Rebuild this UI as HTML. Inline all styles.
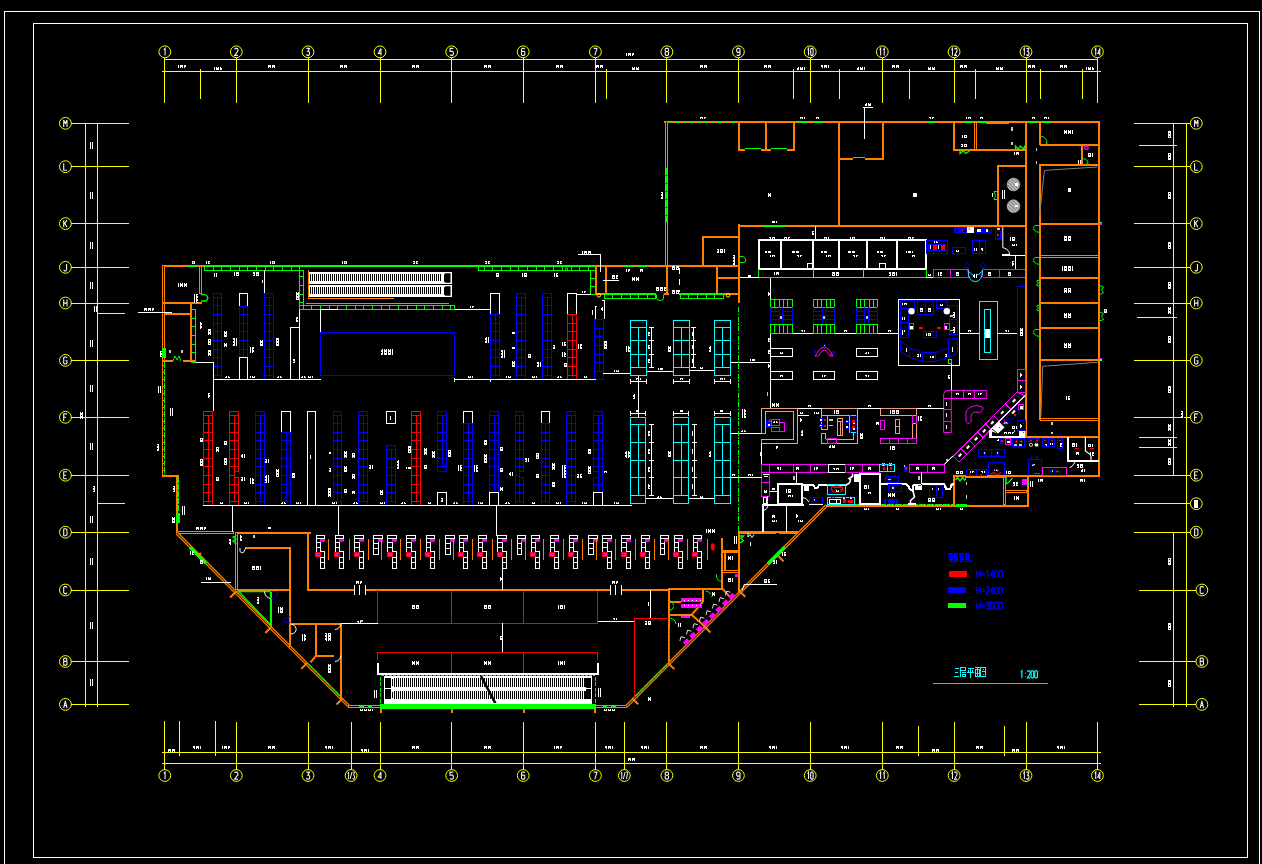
<!DOCTYPE html>
<html><head><meta charset="utf-8"><title>Floor plan</title>
<style>
html,body{margin:0;padding:0;background:#000;}
body{width:1262px;height:864px;overflow:hidden;font-family:"Liberation Sans",sans-serif;}
svg{display:block;}
svg text{font-family:"Liberation Sans",sans-serif;stroke:none;}
</style></head><body>
<svg width="1262" height="864" viewBox="0 0 1262 864" fill="none" stroke-width="1" shape-rendering="crispEdges">
<defs><pattern id="tx" width="4" height="3" patternUnits="userSpaceOnUse"><rect width="4" height="3" fill="#000"/><path d="M0 0.5H3M0.5 0V3M2.5 1V3M1 2.5H2" stroke="#fff" stroke-width="1"/></pattern></defs>
<rect x="0" y="0" width="1262" height="864" fill="#000" stroke="none"/>
<g id="frame">
<rect x="4.5" y="11.5" width="1255" height="889" stroke="#ffffff" fill="none"/>
<rect x="33.5" y="23.5" width="1214" height="834" stroke="#ffffff" fill="none"/>
</g>
<g id="axes" stroke="#ffff00">
<path d="M164 59.5L1098 59.5" stroke="#ffff00"/>
<path d="M162 71.5L1101 71.5" stroke="#ffff00"/>
<path d="M164.5 57.7L164.5 102.5" stroke="#ffff00"/>
<circle cx="164.8" cy="51.8" r="5.9" stroke="#ffff00" fill="none" shape-rendering="geometricPrecision"/>
<path transform="translate(163.1 48.4) scale(1.1 1)" d="M0.7 1.5L1.8 0V7" stroke="#f0f0f0" stroke-width="1.1" vector-effect="non-scaling-stroke" shape-rendering="geometricPrecision"/>
<path d="M236.5 57.7L236.5 102.5" stroke="#ffff00"/>
<circle cx="236.3" cy="51.8" r="5.9" stroke="#ffff00" fill="none" shape-rendering="geometricPrecision"/>
<path transform="translate(234.6 48.4) scale(1.1 1)" d="M0 1L0.6 0H2.4L3 1V2.6L0 7H3" stroke="#f0f0f0" stroke-width="1.1" vector-effect="non-scaling-stroke" shape-rendering="geometricPrecision"/>
<path d="M308.5 57.7L308.5 102.5" stroke="#ffff00"/>
<circle cx="308" cy="51.8" r="5.9" stroke="#ffff00" fill="none" shape-rendering="geometricPrecision"/>
<path transform="translate(306.3 48.4) scale(1.1 1)" d="M0 0H3L1.4 3H2.2L3 4V6L2.2 7H0.8L0 6" stroke="#f0f0f0" stroke-width="1.1" vector-effect="non-scaling-stroke" shape-rendering="geometricPrecision"/>
<path d="M380.5 57.7L380.5 102.5" stroke="#ffff00"/>
<circle cx="380" cy="51.8" r="5.9" stroke="#ffff00" fill="none" shape-rendering="geometricPrecision"/>
<path transform="translate(378.3 48.4) scale(1.1 1)" d="M2.4 7V0L0 5H3" stroke="#f0f0f0" stroke-width="1.1" vector-effect="non-scaling-stroke" shape-rendering="geometricPrecision"/>
<path d="M451.5 57.7L451.5 102.5" stroke="#ffff00"/>
<circle cx="451.7" cy="51.8" r="5.9" stroke="#ffff00" fill="none" shape-rendering="geometricPrecision"/>
<path transform="translate(450 48.4) scale(1.1 1)" d="M3 0H0V3H2.2L3 3.8V6.2L2.2 7H0.8L0 6.2" stroke="#f0f0f0" stroke-width="1.1" vector-effect="non-scaling-stroke" shape-rendering="geometricPrecision"/>
<path d="M523.5 57.7L523.5 102.5" stroke="#ffff00"/>
<circle cx="523.2" cy="51.8" r="5.9" stroke="#ffff00" fill="none" shape-rendering="geometricPrecision"/>
<path transform="translate(521.5 48.4) scale(1.1 1)" d="M3 0.8L2.3 0H0.7L0 0.8V6.2L0.7 7H2.3L3 6.2V3.8L2.3 3H0" stroke="#f0f0f0" stroke-width="1.1" vector-effect="non-scaling-stroke" shape-rendering="geometricPrecision"/>
<path d="M595.5 57.7L595.5 102.5" stroke="#ffff00"/>
<circle cx="595.4" cy="51.8" r="5.9" stroke="#ffff00" fill="none" shape-rendering="geometricPrecision"/>
<path transform="translate(593.7 48.4) scale(1.1 1)" d="M0 0H3L1 7" stroke="#f0f0f0" stroke-width="1.1" vector-effect="non-scaling-stroke" shape-rendering="geometricPrecision"/>
<path d="M666.5 57.7L666.5 102.5" stroke="#ffff00"/>
<circle cx="666.9" cy="51.8" r="5.9" stroke="#ffff00" fill="none" shape-rendering="geometricPrecision"/>
<path transform="translate(665.2 48.4) scale(1.1 1)" d="M0.7 0H2.3L3 0.7V2.4L2.3 3.2H0.7L0 2.4V0.7ZM0.7 3.2L0 4V6.2L0.7 7H2.3L3 6.2V4L2.3 3.2" stroke="#f0f0f0" stroke-width="1.1" vector-effect="non-scaling-stroke" shape-rendering="geometricPrecision"/>
<path d="M738.5 57.7L738.5 102.5" stroke="#ffff00"/>
<circle cx="738.4" cy="51.8" r="5.9" stroke="#ffff00" fill="none" shape-rendering="geometricPrecision"/>
<path transform="translate(736.7 48.4) scale(1.1 1)" d="M3 3.2L2.3 4H0.7L0 3.2V0.8L0.7 0H2.3L3 0.8V6.2L2.3 7H0.7L0 6.2" stroke="#f0f0f0" stroke-width="1.1" vector-effect="non-scaling-stroke" shape-rendering="geometricPrecision"/>
<path d="M810.5 57.7L810.5 102.5" stroke="#ffff00"/>
<circle cx="810.2" cy="51.8" r="5.9" stroke="#ffff00" fill="none" shape-rendering="geometricPrecision"/>
<path transform="translate(807.1 48.4) scale(0.8 1)" d="M0.7 1.5L1.8 0V7" stroke="#f0f0f0" stroke-width="1.1" vector-effect="non-scaling-stroke" shape-rendering="geometricPrecision"/>
<path transform="translate(810.7 48.4) scale(0.8 1)" d="M0.7 0H2.3L3 0.8V6.2L2.3 7H0.7L0 6.2V0.8Z" stroke="#f0f0f0" stroke-width="1.1" vector-effect="non-scaling-stroke" shape-rendering="geometricPrecision"/>
<path d="M882.5 57.7L882.5 102.5" stroke="#ffff00"/>
<circle cx="882.3" cy="51.8" r="5.9" stroke="#ffff00" fill="none" shape-rendering="geometricPrecision"/>
<path transform="translate(879.2 48.4) scale(0.8 1)" d="M0.7 1.5L1.8 0V7" stroke="#f0f0f0" stroke-width="1.1" vector-effect="non-scaling-stroke" shape-rendering="geometricPrecision"/>
<path transform="translate(882.8 48.4) scale(0.8 1)" d="M0.7 1.5L1.8 0V7" stroke="#f0f0f0" stroke-width="1.1" vector-effect="non-scaling-stroke" shape-rendering="geometricPrecision"/>
<path d="M954.5 57.7L954.5 102.5" stroke="#ffff00"/>
<circle cx="954.1" cy="51.8" r="5.9" stroke="#ffff00" fill="none" shape-rendering="geometricPrecision"/>
<path transform="translate(951 48.4) scale(0.8 1)" d="M0.7 1.5L1.8 0V7" stroke="#f0f0f0" stroke-width="1.1" vector-effect="non-scaling-stroke" shape-rendering="geometricPrecision"/>
<path transform="translate(954.6 48.4) scale(0.8 1)" d="M0 1L0.6 0H2.4L3 1V2.6L0 7H3" stroke="#f0f0f0" stroke-width="1.1" vector-effect="non-scaling-stroke" shape-rendering="geometricPrecision"/>
<path d="M1026.5 57.7L1026.5 102.5" stroke="#ffff00"/>
<circle cx="1026" cy="51.8" r="5.9" stroke="#ffff00" fill="none" shape-rendering="geometricPrecision"/>
<path transform="translate(1022.9 48.4) scale(0.8 1)" d="M0.7 1.5L1.8 0V7" stroke="#f0f0f0" stroke-width="1.1" vector-effect="non-scaling-stroke" shape-rendering="geometricPrecision"/>
<path transform="translate(1026.5 48.4) scale(0.8 1)" d="M0 0H3L1.4 3H2.2L3 4V6L2.2 7H0.8L0 6" stroke="#f0f0f0" stroke-width="1.1" vector-effect="non-scaling-stroke" shape-rendering="geometricPrecision"/>
<path d="M1097.5 57.7L1097.5 102.5" stroke="#ffff00"/>
<circle cx="1097.4" cy="51.8" r="5.9" stroke="#ffff00" fill="none" shape-rendering="geometricPrecision"/>
<path transform="translate(1094.3 48.4) scale(0.8 1)" d="M0.7 1.5L1.8 0V7" stroke="#f0f0f0" stroke-width="1.1" vector-effect="non-scaling-stroke" shape-rendering="geometricPrecision"/>
<path transform="translate(1097.9 48.4) scale(0.8 1)" d="M2.4 7V0L0 5H3" stroke="#f0f0f0" stroke-width="1.1" vector-effect="non-scaling-stroke" shape-rendering="geometricPrecision"/>
<path d="M200.5 68.5L200.5 98.5" stroke="#ffff00"/>
<path d="M606.5 68.5L606.5 98.5" stroke="#ffff00"/>
<path d="M793.5 68.5L793.5 98.5" stroke="#ffff00"/>
<path d="M839.5 68.5L839.5 98.5" stroke="#ffff00"/>
<path d="M909.5 68.5L909.5 98.5" stroke="#ffff00"/>
<path d="M975.5 68.5L975.5 98.5" stroke="#ffff00"/>
<path d="M1040.5 68.5L1040.5 98.5" stroke="#ffff00"/>
<path d="M1082.5 68.5L1082.5 98.5" stroke="#ffff00"/>
<rect x="178" y="65" width="8" height="3" fill="url(#tx)" stroke="none"/>
<rect x="214" y="67" width="8" height="3" fill="url(#tx)" stroke="none"/>
<rect x="268" y="65" width="8" height="3" fill="url(#tx)" stroke="none"/>
<rect x="340" y="65" width="8" height="3" fill="url(#tx)" stroke="none"/>
<rect x="411" y="65" width="8" height="3" fill="url(#tx)" stroke="none"/>
<rect x="483" y="65" width="8" height="3" fill="url(#tx)" stroke="none"/>
<rect x="555" y="65" width="8" height="3" fill="url(#tx)" stroke="none"/>
<rect x="596" y="65" width="8" height="3" fill="url(#tx)" stroke="none"/>
<rect x="631" y="67" width="8" height="3" fill="url(#tx)" stroke="none"/>
<rect x="626" y="53" width="8" height="3" fill="url(#tx)" stroke="none"/>
<rect x="699" y="65" width="8" height="3" fill="url(#tx)" stroke="none"/>
<rect x="763" y="65" width="8" height="3" fill="url(#tx)" stroke="none"/>
<rect x="797" y="67" width="8" height="3" fill="url(#tx)" stroke="none"/>
<rect x="821" y="65" width="8" height="3" fill="url(#tx)" stroke="none"/>
<rect x="857" y="67" width="8" height="3" fill="url(#tx)" stroke="none"/>
<rect x="891" y="65" width="8" height="3" fill="url(#tx)" stroke="none"/>
<rect x="928" y="67" width="8" height="3" fill="url(#tx)" stroke="none"/>
<rect x="960" y="65" width="8" height="3" fill="url(#tx)" stroke="none"/>
<rect x="996" y="67" width="8" height="3" fill="url(#tx)" stroke="none"/>
<rect x="1028" y="65" width="8" height="3" fill="url(#tx)" stroke="none"/>
<rect x="1059" y="65" width="8" height="3" fill="url(#tx)" stroke="none"/>
<rect x="1086" y="67" width="8" height="3" fill="url(#tx)" stroke="none"/>
<path d="M162 752.5L1101 752.5" stroke="#ffff00"/>
<path d="M162 763.5L1101 763.5" stroke="#ffff00"/>
<path d="M164.5 720.5L164.5 769.6" stroke="#ffff00"/>
<circle cx="164.8" cy="775.5" r="5.9" stroke="#ffff00" fill="none" shape-rendering="geometricPrecision"/>
<path transform="translate(163.1 772.1) scale(1.1 1)" d="M0.7 1.5L1.8 0V7" stroke="#f0f0f0" stroke-width="1.1" vector-effect="non-scaling-stroke" shape-rendering="geometricPrecision"/>
<path d="M236.5 722L236.5 769.6" stroke="#ffff00"/>
<circle cx="236.3" cy="775.5" r="5.9" stroke="#ffff00" fill="none" shape-rendering="geometricPrecision"/>
<path transform="translate(234.6 772.1) scale(1.1 1)" d="M0 1L0.6 0H2.4L3 1V2.6L0 7H3" stroke="#f0f0f0" stroke-width="1.1" vector-effect="non-scaling-stroke" shape-rendering="geometricPrecision"/>
<path d="M308.5 722L308.5 769.6" stroke="#ffff00"/>
<circle cx="308" cy="775.5" r="5.9" stroke="#ffff00" fill="none" shape-rendering="geometricPrecision"/>
<path transform="translate(306.3 772.1) scale(1.1 1)" d="M0 0H3L1.4 3H2.2L3 4V6L2.2 7H0.8L0 6" stroke="#f0f0f0" stroke-width="1.1" vector-effect="non-scaling-stroke" shape-rendering="geometricPrecision"/>
<path d="M380.5 722L380.5 769.6" stroke="#ffff00"/>
<circle cx="380" cy="775.5" r="5.9" stroke="#ffff00" fill="none" shape-rendering="geometricPrecision"/>
<path transform="translate(378.3 772.1) scale(1.1 1)" d="M2.4 7V0L0 5H3" stroke="#f0f0f0" stroke-width="1.1" vector-effect="non-scaling-stroke" shape-rendering="geometricPrecision"/>
<path d="M451.5 722L451.5 769.6" stroke="#ffff00"/>
<circle cx="451.7" cy="775.5" r="5.9" stroke="#ffff00" fill="none" shape-rendering="geometricPrecision"/>
<path transform="translate(450 772.1) scale(1.1 1)" d="M3 0H0V3H2.2L3 3.8V6.2L2.2 7H0.8L0 6.2" stroke="#f0f0f0" stroke-width="1.1" vector-effect="non-scaling-stroke" shape-rendering="geometricPrecision"/>
<path d="M523.5 722L523.5 769.6" stroke="#ffff00"/>
<circle cx="523.2" cy="775.5" r="5.9" stroke="#ffff00" fill="none" shape-rendering="geometricPrecision"/>
<path transform="translate(521.5 772.1) scale(1.1 1)" d="M3 0.8L2.3 0H0.7L0 0.8V6.2L0.7 7H2.3L3 6.2V3.8L2.3 3H0" stroke="#f0f0f0" stroke-width="1.1" vector-effect="non-scaling-stroke" shape-rendering="geometricPrecision"/>
<path d="M595.5 722L595.5 769.6" stroke="#ffff00"/>
<circle cx="595.4" cy="775.5" r="5.9" stroke="#ffff00" fill="none" shape-rendering="geometricPrecision"/>
<path transform="translate(593.7 772.1) scale(1.1 1)" d="M0 0H3L1 7" stroke="#f0f0f0" stroke-width="1.1" vector-effect="non-scaling-stroke" shape-rendering="geometricPrecision"/>
<path d="M666.5 722L666.5 769.6" stroke="#ffff00"/>
<circle cx="666.9" cy="775.5" r="5.9" stroke="#ffff00" fill="none" shape-rendering="geometricPrecision"/>
<path transform="translate(665.2 772.1) scale(1.1 1)" d="M0.7 0H2.3L3 0.7V2.4L2.3 3.2H0.7L0 2.4V0.7ZM0.7 3.2L0 4V6.2L0.7 7H2.3L3 6.2V4L2.3 3.2" stroke="#f0f0f0" stroke-width="1.1" vector-effect="non-scaling-stroke" shape-rendering="geometricPrecision"/>
<path d="M738.5 722L738.5 769.6" stroke="#ffff00"/>
<circle cx="738.4" cy="775.5" r="5.9" stroke="#ffff00" fill="none" shape-rendering="geometricPrecision"/>
<path transform="translate(736.7 772.1) scale(1.1 1)" d="M3 3.2L2.3 4H0.7L0 3.2V0.8L0.7 0H2.3L3 0.8V6.2L2.3 7H0.7L0 6.2" stroke="#f0f0f0" stroke-width="1.1" vector-effect="non-scaling-stroke" shape-rendering="geometricPrecision"/>
<path d="M810.5 722L810.5 769.6" stroke="#ffff00"/>
<circle cx="810.2" cy="775.5" r="5.9" stroke="#ffff00" fill="none" shape-rendering="geometricPrecision"/>
<path transform="translate(807.1 772.1) scale(0.8 1)" d="M0.7 1.5L1.8 0V7" stroke="#f0f0f0" stroke-width="1.1" vector-effect="non-scaling-stroke" shape-rendering="geometricPrecision"/>
<path transform="translate(810.7 772.1) scale(0.8 1)" d="M0.7 0H2.3L3 0.8V6.2L2.3 7H0.7L0 6.2V0.8Z" stroke="#f0f0f0" stroke-width="1.1" vector-effect="non-scaling-stroke" shape-rendering="geometricPrecision"/>
<path d="M882.5 722L882.5 769.6" stroke="#ffff00"/>
<circle cx="882.3" cy="775.5" r="5.9" stroke="#ffff00" fill="none" shape-rendering="geometricPrecision"/>
<path transform="translate(879.2 772.1) scale(0.8 1)" d="M0.7 1.5L1.8 0V7" stroke="#f0f0f0" stroke-width="1.1" vector-effect="non-scaling-stroke" shape-rendering="geometricPrecision"/>
<path transform="translate(882.8 772.1) scale(0.8 1)" d="M0.7 1.5L1.8 0V7" stroke="#f0f0f0" stroke-width="1.1" vector-effect="non-scaling-stroke" shape-rendering="geometricPrecision"/>
<path d="M954.5 722L954.5 769.6" stroke="#ffff00"/>
<circle cx="954.1" cy="775.5" r="5.9" stroke="#ffff00" fill="none" shape-rendering="geometricPrecision"/>
<path transform="translate(951 772.1) scale(0.8 1)" d="M0.7 1.5L1.8 0V7" stroke="#f0f0f0" stroke-width="1.1" vector-effect="non-scaling-stroke" shape-rendering="geometricPrecision"/>
<path transform="translate(954.6 772.1) scale(0.8 1)" d="M0 1L0.6 0H2.4L3 1V2.6L0 7H3" stroke="#f0f0f0" stroke-width="1.1" vector-effect="non-scaling-stroke" shape-rendering="geometricPrecision"/>
<path d="M1026.5 722L1026.5 769.6" stroke="#ffff00"/>
<circle cx="1026" cy="775.5" r="5.9" stroke="#ffff00" fill="none" shape-rendering="geometricPrecision"/>
<path transform="translate(1022.9 772.1) scale(0.8 1)" d="M0.7 1.5L1.8 0V7" stroke="#f0f0f0" stroke-width="1.1" vector-effect="non-scaling-stroke" shape-rendering="geometricPrecision"/>
<path transform="translate(1026.5 772.1) scale(0.8 1)" d="M0 0H3L1.4 3H2.2L3 4V6L2.2 7H0.8L0 6" stroke="#f0f0f0" stroke-width="1.1" vector-effect="non-scaling-stroke" shape-rendering="geometricPrecision"/>
<path d="M1097.5 722L1097.5 769.6" stroke="#ffff00"/>
<circle cx="1097.4" cy="775.5" r="5.9" stroke="#ffff00" fill="none" shape-rendering="geometricPrecision"/>
<path transform="translate(1094.3 772.1) scale(0.8 1)" d="M0.7 1.5L1.8 0V7" stroke="#f0f0f0" stroke-width="1.1" vector-effect="non-scaling-stroke" shape-rendering="geometricPrecision"/>
<path transform="translate(1097.9 772.1) scale(0.8 1)" d="M2.4 7V0L0 5H3" stroke="#f0f0f0" stroke-width="1.1" vector-effect="non-scaling-stroke" shape-rendering="geometricPrecision"/>
<path d="M351.5 722L351.5 769.6" stroke="#ffff00"/>
<circle cx="351.1" cy="775.5" r="5.9" stroke="#ffff00" fill="none" shape-rendering="geometricPrecision"/>
<path transform="translate(347.5 772.1) scale(0.6 1)" d="M0.7 1.5L1.8 0V7" stroke="#f0f0f0" stroke-width="1" vector-effect="non-scaling-stroke" shape-rendering="geometricPrecision"/>
<path transform="translate(350.1 772.1) scale(0.6 1)" d="M0 7L3 0" stroke="#f0f0f0" stroke-width="1" vector-effect="non-scaling-stroke" shape-rendering="geometricPrecision"/>
<path transform="translate(352.7 772.1) scale(0.6 1)" d="M0 0H3L1.4 3H2.2L3 4V6L2.2 7H0.8L0 6" stroke="#f0f0f0" stroke-width="1" vector-effect="non-scaling-stroke" shape-rendering="geometricPrecision"/>
<path d="M624.5 722L624.5 769.6" stroke="#ffff00"/>
<circle cx="624.3" cy="775.5" r="5.9" stroke="#ffff00" fill="none" shape-rendering="geometricPrecision"/>
<path transform="translate(620.7 772.1) scale(0.6 1)" d="M0.7 1.5L1.8 0V7" stroke="#f0f0f0" stroke-width="1" vector-effect="non-scaling-stroke" shape-rendering="geometricPrecision"/>
<path transform="translate(623.3 772.1) scale(0.6 1)" d="M0 7L3 0" stroke="#f0f0f0" stroke-width="1" vector-effect="non-scaling-stroke" shape-rendering="geometricPrecision"/>
<path transform="translate(625.9 772.1) scale(0.6 1)" d="M0 0H3L1 7" stroke="#f0f0f0" stroke-width="1" vector-effect="non-scaling-stroke" shape-rendering="geometricPrecision"/>
<path d="M179.5 720.5L179.5 755.8" stroke="#ffff00"/>
<path d="M215.5 720.5L215.5 755.8" stroke="#ffff00"/>
<path d="M918.5 726L918.5 755.6" stroke="#ffff00"/>
<path d="M1004.5 726L1004.5 755.6" stroke="#ffff00"/>
<rect x="168" y="749" width="8" height="3" fill="url(#tx)" stroke="none"/>
<rect x="193" y="746" width="8" height="3" fill="url(#tx)" stroke="none"/>
<rect x="222" y="746" width="8" height="3" fill="url(#tx)" stroke="none"/>
<rect x="267" y="746" width="8" height="3" fill="url(#tx)" stroke="none"/>
<rect x="325" y="746" width="8" height="3" fill="url(#tx)" stroke="none"/>
<rect x="361" y="749" width="8" height="3" fill="url(#tx)" stroke="none"/>
<rect x="412" y="746" width="8" height="3" fill="url(#tx)" stroke="none"/>
<rect x="483" y="746" width="8" height="3" fill="url(#tx)" stroke="none"/>
<rect x="554" y="746" width="8" height="3" fill="url(#tx)" stroke="none"/>
<rect x="605" y="746" width="8" height="3" fill="url(#tx)" stroke="none"/>
<rect x="627" y="758" width="8" height="3" fill="url(#tx)" stroke="none"/>
<rect x="641" y="746" width="8" height="3" fill="url(#tx)" stroke="none"/>
<rect x="699" y="746" width="8" height="3" fill="url(#tx)" stroke="none"/>
<rect x="769" y="746" width="8" height="3" fill="url(#tx)" stroke="none"/>
<rect x="841" y="746" width="8" height="3" fill="url(#tx)" stroke="none"/>
<rect x="895" y="746" width="8" height="3" fill="url(#tx)" stroke="none"/>
<rect x="931" y="749" width="8" height="3" fill="url(#tx)" stroke="none"/>
<rect x="975" y="746" width="8" height="3" fill="url(#tx)" stroke="none"/>
<rect x="1011" y="749" width="8" height="3" fill="url(#tx)" stroke="none"/>
<rect x="1057" y="746" width="8" height="3" fill="url(#tx)" stroke="none"/>
<path d="M85.5 123L85.5 707" stroke="#ffff00"/>
<path d="M97.5 123L97.5 707" stroke="#ffff00"/>
<path d="M71.3 123.5L129 123.5" stroke="#ffff00"/>
<circle cx="65.4" cy="123.3" r="5.9" stroke="#ffff00" fill="none" shape-rendering="geometricPrecision"/>
<path transform="translate(63.7 119.9) scale(1.1 1)" d="M0 7V0L1.5 3.5L3 0V7" stroke="#f0f0f0" stroke-width="1.1" vector-effect="non-scaling-stroke" shape-rendering="geometricPrecision"/>
<path d="M71.3 166.5L129 166.5" stroke="#ffff00"/>
<circle cx="65.4" cy="166.7" r="5.9" stroke="#ffff00" fill="none" shape-rendering="geometricPrecision"/>
<path transform="translate(63.7 163.3) scale(1.1 1)" d="M0 0V7H3" stroke="#f0f0f0" stroke-width="1.1" vector-effect="non-scaling-stroke" shape-rendering="geometricPrecision"/>
<path d="M71.3 223.5L129 223.5" stroke="#ffff00"/>
<circle cx="65.4" cy="223.6" r="5.9" stroke="#ffff00" fill="none" shape-rendering="geometricPrecision"/>
<path transform="translate(63.7 220.2) scale(1.1 1)" d="M0 0V7M3 0L0 4.2M1 3L3 7" stroke="#f0f0f0" stroke-width="1.1" vector-effect="non-scaling-stroke" shape-rendering="geometricPrecision"/>
<path d="M71.3 267.5L129 267.5" stroke="#ffff00"/>
<circle cx="65.4" cy="267.3" r="5.9" stroke="#ffff00" fill="none" shape-rendering="geometricPrecision"/>
<path transform="translate(63.7 263.9) scale(1.1 1)" d="M2.6 0V6L1.9 7H0.8L0 6.2" stroke="#f0f0f0" stroke-width="1.1" vector-effect="non-scaling-stroke" shape-rendering="geometricPrecision"/>
<path d="M71.3 303.5L129 303.5" stroke="#ffff00"/>
<circle cx="65.4" cy="303" r="5.9" stroke="#ffff00" fill="none" shape-rendering="geometricPrecision"/>
<path transform="translate(63.7 299.6) scale(1.1 1)" d="M0 0V7M3 0V7M0 3.5H3" stroke="#f0f0f0" stroke-width="1.1" vector-effect="non-scaling-stroke" shape-rendering="geometricPrecision"/>
<path d="M71.3 360.5L129 360.5" stroke="#ffff00"/>
<circle cx="65.4" cy="360.4" r="5.9" stroke="#ffff00" fill="none" shape-rendering="geometricPrecision"/>
<path transform="translate(63.7 357) scale(1.1 1)" d="M3 1L2.3 0H0.7L0 0.8V6.2L0.7 7H2.3L3 6.2V3.8H1.6" stroke="#f0f0f0" stroke-width="1.1" vector-effect="non-scaling-stroke" shape-rendering="geometricPrecision"/>
<path d="M71.3 417.5L129 417.5" stroke="#ffff00"/>
<circle cx="65.4" cy="417.3" r="5.9" stroke="#ffff00" fill="none" shape-rendering="geometricPrecision"/>
<path transform="translate(63.7 413.9) scale(1.1 1)" d="M3 0H0V7M0 3.4H2.2" stroke="#f0f0f0" stroke-width="1.1" vector-effect="non-scaling-stroke" shape-rendering="geometricPrecision"/>
<path d="M71.3 475.5L129 475.5" stroke="#ffff00"/>
<circle cx="65.4" cy="475.2" r="5.9" stroke="#ffff00" fill="none" shape-rendering="geometricPrecision"/>
<path transform="translate(63.7 471.8) scale(1.1 1)" d="M3 0H0V7H3M0 3.4H2.2" stroke="#f0f0f0" stroke-width="1.1" vector-effect="non-scaling-stroke" shape-rendering="geometricPrecision"/>
<path d="M71.3 532.5L129 532.5" stroke="#ffff00"/>
<circle cx="65.4" cy="532.2" r="5.9" stroke="#ffff00" fill="none" shape-rendering="geometricPrecision"/>
<path transform="translate(63.7 528.8) scale(1.1 1)" d="M0 0V7H2L3 6V1L2 0H0" stroke="#f0f0f0" stroke-width="1.1" vector-effect="non-scaling-stroke" shape-rendering="geometricPrecision"/>
<path d="M71.3 590.5L129 590.5" stroke="#ffff00"/>
<circle cx="65.4" cy="590" r="5.9" stroke="#ffff00" fill="none" shape-rendering="geometricPrecision"/>
<path transform="translate(63.7 586.6) scale(1.1 1)" d="M3 1L2.3 0H0.7L0 0.8V6.2L0.7 7H2.3L3 6" stroke="#f0f0f0" stroke-width="1.1" vector-effect="non-scaling-stroke" shape-rendering="geometricPrecision"/>
<path d="M71.3 661.5L129 661.5" stroke="#ffff00"/>
<circle cx="65.4" cy="661.5" r="5.9" stroke="#ffff00" fill="none" shape-rendering="geometricPrecision"/>
<path transform="translate(63.7 658.1) scale(1.1 1)" d="M0 0V7H2.2L3 6.2V4L2.2 3.3H0M2.2 3.3L2.8 2.6V0.7L2.2 0H0" stroke="#f0f0f0" stroke-width="1.1" vector-effect="non-scaling-stroke" shape-rendering="geometricPrecision"/>
<path d="M71.3 704.5L129 704.5" stroke="#ffff00"/>
<circle cx="65.4" cy="704.4" r="5.9" stroke="#ffff00" fill="none" shape-rendering="geometricPrecision"/>
<path transform="translate(63.7 701) scale(1.1 1)" d="M0 7L1.5 0L3 7M0.6 4.5H2.4" stroke="#f0f0f0" stroke-width="1.1" vector-effect="non-scaling-stroke" shape-rendering="geometricPrecision"/>
<path d="M97.5 313.5L125 313.5" stroke="#ffff00"/>
<path d="M97.5 503.5L124.5 503.5" stroke="#ffff00"/>
<rect x="90" y="142" width="3" height="7" fill="url(#tx)" stroke="none"/>
<rect x="90" y="192" width="3" height="7" fill="url(#tx)" stroke="none"/>
<rect x="90" y="242" width="3" height="7" fill="url(#tx)" stroke="none"/>
<rect x="90" y="282" width="3" height="7" fill="url(#tx)" stroke="none"/>
<rect x="90" y="340" width="3" height="7" fill="url(#tx)" stroke="none"/>
<rect x="90" y="385" width="3" height="7" fill="url(#tx)" stroke="none"/>
<rect x="90" y="443" width="3" height="7" fill="url(#tx)" stroke="none"/>
<rect x="90" y="516" width="3" height="7" fill="url(#tx)" stroke="none"/>
<rect x="93" y="486" width="3" height="6" fill="url(#tx)" stroke="none"/>
<rect x="90" y="558" width="3" height="7" fill="url(#tx)" stroke="none"/>
<rect x="90" y="622" width="3" height="7" fill="url(#tx)" stroke="none"/>
<rect x="90" y="679" width="3" height="7" fill="url(#tx)" stroke="none"/>
<rect x="80" y="412" width="3" height="7" fill="url(#tx)" stroke="none"/>
<rect x="94" y="306" width="3" height="6" fill="url(#tx)" stroke="none"/>
<path d="M1186.5 123L1186.5 707" stroke="#ffff00"/>
<path d="M1173.5 123L1173.5 475.5" stroke="#ffff00"/>
<path d="M1173.5 532L1173.5 707" stroke="#ffff00"/>
<path d="M1134 123.5L1190.4 123.5" stroke="#ffff00"/>
<circle cx="1196.3" cy="123.3" r="5.9" stroke="#ffff00" fill="none" shape-rendering="geometricPrecision"/>
<path transform="translate(1194.6 119.9) scale(1.1 1)" d="M0 7V0L1.5 3.5L3 0V7" stroke="#f0f0f0" stroke-width="1.1" vector-effect="non-scaling-stroke" shape-rendering="geometricPrecision"/>
<path d="M1134 166.5L1190.4 166.5" stroke="#ffff00"/>
<circle cx="1196.3" cy="166.7" r="5.9" stroke="#ffff00" fill="none" shape-rendering="geometricPrecision"/>
<path transform="translate(1194.6 163.3) scale(1.1 1)" d="M0 0V7H3" stroke="#f0f0f0" stroke-width="1.1" vector-effect="non-scaling-stroke" shape-rendering="geometricPrecision"/>
<path d="M1134 223.5L1190.4 223.5" stroke="#ffff00"/>
<circle cx="1196.3" cy="223.6" r="5.9" stroke="#ffff00" fill="none" shape-rendering="geometricPrecision"/>
<path transform="translate(1194.6 220.2) scale(1.1 1)" d="M0 0V7M3 0L0 4.2M1 3L3 7" stroke="#f0f0f0" stroke-width="1.1" vector-effect="non-scaling-stroke" shape-rendering="geometricPrecision"/>
<path d="M1134 267.5L1190.4 267.5" stroke="#ffff00"/>
<circle cx="1196.3" cy="267.3" r="5.9" stroke="#ffff00" fill="none" shape-rendering="geometricPrecision"/>
<path transform="translate(1194.6 263.9) scale(1.1 1)" d="M2.6 0V6L1.9 7H0.8L0 6.2" stroke="#f0f0f0" stroke-width="1.1" vector-effect="non-scaling-stroke" shape-rendering="geometricPrecision"/>
<path d="M1134 303.5L1190.4 303.5" stroke="#ffff00"/>
<circle cx="1196.3" cy="303" r="5.9" stroke="#ffff00" fill="none" shape-rendering="geometricPrecision"/>
<path transform="translate(1194.6 299.6) scale(1.1 1)" d="M0 0V7M3 0V7M0 3.5H3" stroke="#f0f0f0" stroke-width="1.1" vector-effect="non-scaling-stroke" shape-rendering="geometricPrecision"/>
<path d="M1134 360.5L1190.4 360.5" stroke="#ffff00"/>
<circle cx="1196.3" cy="360.4" r="5.9" stroke="#ffff00" fill="none" shape-rendering="geometricPrecision"/>
<path transform="translate(1194.6 357) scale(1.1 1)" d="M3 1L2.3 0H0.7L0 0.8V6.2L0.7 7H2.3L3 6.2V3.8H1.6" stroke="#f0f0f0" stroke-width="1.1" vector-effect="non-scaling-stroke" shape-rendering="geometricPrecision"/>
<path d="M1134 417.5L1190.4 417.5" stroke="#ffff00"/>
<circle cx="1196.3" cy="417.3" r="5.9" stroke="#ffff00" fill="none" shape-rendering="geometricPrecision"/>
<path transform="translate(1194.6 413.9) scale(1.1 1)" d="M3 0H0V7M0 3.4H2.2" stroke="#f0f0f0" stroke-width="1.1" vector-effect="non-scaling-stroke" shape-rendering="geometricPrecision"/>
<path d="M1134 475.5L1190.4 475.5" stroke="#ffff00"/>
<circle cx="1196.3" cy="475.2" r="5.9" stroke="#ffff00" fill="none" shape-rendering="geometricPrecision"/>
<path transform="translate(1194.6 471.8) scale(1.1 1)" d="M3 0H0V7H3M0 3.4H2.2" stroke="#f0f0f0" stroke-width="1.1" vector-effect="non-scaling-stroke" shape-rendering="geometricPrecision"/>
<path d="M1134 532.5L1190.4 532.5" stroke="#ffff00"/>
<circle cx="1196.3" cy="532.2" r="5.9" stroke="#ffff00" fill="none" shape-rendering="geometricPrecision"/>
<path transform="translate(1194.6 528.8) scale(1.1 1)" d="M0 0V7H2L3 6V1L2 0H0" stroke="#f0f0f0" stroke-width="1.1" vector-effect="non-scaling-stroke" shape-rendering="geometricPrecision"/>
<path d="M1139.3 590.5L1196 590.5" stroke="#ffff00"/>
<circle cx="1201.9" cy="590" r="5.9" stroke="#ffff00" fill="none" shape-rendering="geometricPrecision"/>
<path transform="translate(1200.2 586.6) scale(1.1 1)" d="M3 1L2.3 0H0.7L0 0.8V6.2L0.7 7H2.3L3 6" stroke="#f0f0f0" stroke-width="1.1" vector-effect="non-scaling-stroke" shape-rendering="geometricPrecision"/>
<path d="M1139.3 661.5L1196 661.5" stroke="#ffff00"/>
<circle cx="1201.9" cy="661.5" r="5.9" stroke="#ffff00" fill="none" shape-rendering="geometricPrecision"/>
<path transform="translate(1200.2 658.1) scale(1.1 1)" d="M0 0V7H2.2L3 6.2V4L2.2 3.3H0M2.2 3.3L2.8 2.6V0.7L2.2 0H0" stroke="#f0f0f0" stroke-width="1.1" vector-effect="non-scaling-stroke" shape-rendering="geometricPrecision"/>
<path d="M1139.3 704.5L1196 704.5" stroke="#ffff00"/>
<circle cx="1201.9" cy="704.4" r="5.9" stroke="#ffff00" fill="none" shape-rendering="geometricPrecision"/>
<path transform="translate(1200.2 701) scale(1.1 1)" d="M0 7L1.5 0L3 7M0.6 4.5H2.4" stroke="#f0f0f0" stroke-width="1.1" vector-effect="non-scaling-stroke" shape-rendering="geometricPrecision"/>
<path d="M1134 503.5L1190.4 503.5" stroke="#ffff00"/>
<circle cx="1196.3" cy="503.7" r="5.9" stroke="#ffff00" fill="none" shape-rendering="geometricPrecision"/>
<rect x="1194.3" y="499.7" width="4" height="8" fill="#ffffff" stroke="none"/>
<path d="M1138.5 145.5L1176.5 145.5" stroke="#ffff00"/>
<path d="M1137 317.5L1176.5 317.5" stroke="#ffff00"/>
<path d="M1138.5 437.5L1177 437.5" stroke="#ffff00"/>
<path d="M1138.5 447.5L1177 447.5" stroke="#ffff00"/>
<rect x="1168" y="131" width="3" height="7" fill="url(#tx)" stroke="none"/>
<rect x="1168" y="153" width="3" height="7" fill="url(#tx)" stroke="none"/>
<rect x="1168" y="192" width="3" height="7" fill="url(#tx)" stroke="none"/>
<rect x="1168" y="242" width="3" height="7" fill="url(#tx)" stroke="none"/>
<rect x="1168" y="282" width="3" height="7" fill="url(#tx)" stroke="none"/>
<rect x="1168" y="307" width="3" height="7" fill="url(#tx)" stroke="none"/>
<rect x="1168" y="336" width="3" height="7" fill="url(#tx)" stroke="none"/>
<rect x="1168" y="386" width="3" height="7" fill="url(#tx)" stroke="none"/>
<rect x="1168" y="424" width="3" height="7" fill="url(#tx)" stroke="none"/>
<rect x="1168" y="439" width="3" height="7" fill="url(#tx)" stroke="none"/>
<rect x="1168" y="458" width="3" height="7" fill="url(#tx)" stroke="none"/>
<rect x="1168" y="558" width="3" height="7" fill="url(#tx)" stroke="none"/>
<rect x="1168" y="623" width="3" height="7" fill="url(#tx)" stroke="none"/>
<rect x="1168" y="680" width="3" height="7" fill="url(#tx)" stroke="none"/>
<rect x="1181" y="411" width="3" height="7" fill="url(#tx)" stroke="none"/>
</g>
<g id="walls">
<path d="M162 266L203 266" stroke="#ff7f00" stroke-width="2"/>
<path d="M203 265.5L300 265.5" stroke="#ff7f00"/>
<path d="M203 266.5L596 266.5" stroke="#00ff00"/>
<path d="M300 265.5L596 265.5" stroke="#00ff00"/>
<path d="M300 265.5L596 265.5" stroke="#ff7f00" stroke-dasharray="1 3.5"/>
<path d="M163.5 265L163.5 362" stroke="#ff7f00" stroke-width="3"/>
<path d="M163.5 266L163.5 361" stroke="#000"/>
<path d="M162.5 362L162.5 477" stroke="#ff7f00"/>
<path d="M164.5 362L164.5 477" stroke="#00ff00" stroke-dasharray="6 1"/>
<path d="M163.5 362L163.5 477" stroke="#ff7f00" stroke-dasharray="1 6" stroke-dashoffset="-3"/>
<rect x="162" y="348" width="4" height="10" fill="#00ff00" stroke="none"/>
<path d="M200.5 266L200.5 293.5" stroke="#ff7f00" stroke-width="3"/>
<path d="M200.5 267L200.5 292.5" stroke="#000"/>
<path d="M163 303L202 303" stroke="#ff7f00" stroke-width="2"/>
<path d="M191 303L191 362" stroke="#ff7f00" stroke-width="2"/>
<path d="M164 314L191 314" stroke="#ff7f00" stroke-width="2"/>
<path d="M163 361L173 361" stroke="#ff7f00" stroke-width="2"/>
<path d="M182.5 361L196 361" stroke="#ff7f00" stroke-width="2"/>
<path d="M162 476L179 476" stroke="#ff7f00" stroke-width="2"/>
<path d="M177.5 476L177.5 533" stroke="#ff7f00"/>
<path d="M176.5 477L176.5 533" stroke="#ff7f00"/>
<path d="M178.5 477L178.5 512" stroke="#00ff00" stroke-dasharray="6 1"/>
<rect x="176" y="512.8" width="4" height="9.9" fill="#00ff00" stroke="none"/>
<path d="M176 532.5L234 532.5" stroke="#ff7f00" stroke-width="3"/>
<path d="M177 532.5L233 532.5" stroke="#000"/>
<path d="M176.7 533L348.7 706.2" stroke="#ff7f00" fill="none" stroke-width="3.2" shape-rendering="geometricPrecision"/>
<path d="M176.7 533L348.7 706.2" stroke="#000" fill="none" shape-rendering="geometricPrecision"/>
<path d="M348 706.5L381 706.5" stroke="#ff7f00" stroke-width="3"/>
<path d="M349 706.5L380 706.5" stroke="#000"/>
<path d="M595 706.5L626.6 706.5" stroke="#ff7f00" stroke-width="3"/>
<path d="M596 706.5L625.6 706.5" stroke="#000"/>
<path d="M626.4 706.4L826.6 505.4" stroke="#ff7f00" fill="none" stroke-width="3.2" shape-rendering="geometricPrecision"/>
<path d="M626.4 706.4L826.6 505.4" stroke="#000" fill="none" shape-rendering="geometricPrecision"/>
<path d="M826 506L1028.5 506" stroke="#ff7f00" stroke-width="2"/>
<path d="M855 504.5L954 504.5" stroke="#00ff00" stroke-dasharray="7 1"/>
<rect x="956.2" y="504" width="10.8" height="3" fill="#00ff00" stroke="none"/>
<path d="M954 476L954 506" stroke="#ff7f00" stroke-width="2"/>
<path d="M953 476L1100 476" stroke="#ff7f00" stroke-width="2"/>
<path d="M1028 476L1028 506.5" stroke="#ff7f00" stroke-width="2"/>
<path d="M1004.5 477L1004.5 505" stroke="#ff7f00" stroke-width="3"/>
<path d="M1004.5 478L1004.5 504" stroke="#000"/>
<path d="M1005 491.5L1027 491.5" stroke="#ff7f00" stroke-width="3"/>
<path d="M1006 491.5L1026 491.5" stroke="#000"/>
<path d="M965 477.5L1004 477.5" stroke="#ff7f00"/>
<path d="M965.5 477.5L965.5 480" stroke="#ff7f00"/>
<path d="M1028 475.5L1096 475.5" stroke="#00ff00" stroke-dasharray="6 2"/>
<path d="M1099 121L1099 477" stroke="#ff7f00" stroke-width="2"/>
<path d="M664 122L1100 122" stroke="#ff7f00" stroke-width="2"/>
<path d="M666.5 121L666.5 267" stroke="#ff7f00" stroke-width="3"/>
<path d="M666.5 122L666.5 266" stroke="#000"/>
<path d="M595 266L740 266" stroke="#ff7f00" stroke-width="2"/>
<path d="M596 265L596 294" stroke="#ff7f00" stroke-width="2"/>
<path d="M606 266L606 294" stroke="#ff7f00" stroke-width="2"/>
<path d="M667 266L667 294" stroke="#ff7f00" stroke-width="2"/>
<path d="M717 266L717 294" stroke="#ff7f00" stroke-width="2"/>
<path d="M717 278L739 278" stroke="#ff7f00" stroke-width="2"/>
<path d="M596 294L656 294" stroke="#ff7f00" stroke-width="2"/>
<path d="M664 294L669 294" stroke="#ff7f00" stroke-width="2"/>
<path d="M678.5 294L740 294" stroke="#ff7f00" stroke-width="2"/>
<path d="M739 224L739 303" stroke="#ff7f00" stroke-width="2"/>
<path d="M703 237L703 266" stroke="#ff7f00" stroke-width="2"/>
<path d="M702 237L740 237" stroke="#ff7f00" stroke-width="2"/>
<path d="M738 226L1025 226" stroke="#ff7f00" stroke-width="2"/>
<path d="M839 122L839 226" stroke="#ff7f00" stroke-width="2"/>
<path d="M883 122L883 160" stroke="#ff7f00" stroke-width="2"/>
<path d="M838 159L853 159" stroke="#ff7f00" stroke-width="2"/>
<path d="M865 159L884 159" stroke="#ff7f00" stroke-width="2"/>
<path d="M853 157.5L865 157.5" stroke="#00ff00"/>
<path d="M739 122L739 150" stroke="#ff7f00" stroke-width="2"/>
<path d="M766 122L766 150" stroke="#ff7f00" stroke-width="2"/>
<path d="M794 122L794 150" stroke="#ff7f00" stroke-width="2"/>
<path d="M738 150L745 150" stroke="#ff7f00" stroke-width="2"/>
<path d="M761 150L771 150" stroke="#ff7f00" stroke-width="2"/>
<path d="M787 150L795 150" stroke="#ff7f00" stroke-width="2"/>
<path d="M745 148.5L761 148.5" stroke="#00ff00"/>
<path d="M771 148.5L787 148.5" stroke="#00ff00"/>
<path d="M954 122L954 150" stroke="#ff7f00" stroke-width="2"/>
<path d="M975.5 122L975.5 150" stroke="#ff7f00" stroke-width="3"/>
<path d="M975.5 123L975.5 149" stroke="#000"/>
<path d="M953 150L1025 150" stroke="#ff7f00" stroke-width="2"/>
<path d="M1026 121L1026 438" stroke="#ff7f00" stroke-width="2"/>
<path d="M1040 122L1040 145" stroke="#ff7f00" stroke-width="2"/>
<path d="M1040 145L1100 145" stroke="#ff7f00" stroke-width="2"/>
<path d="M1082 144.5L1082 165" stroke="#ff7f00" stroke-width="2"/>
<path d="M1040 165L1100 165" stroke="#ff7f00" stroke-width="2"/>
<path d="M1040 164L1040 420" stroke="#ff7f00" stroke-width="2"/>
<path d="M1040 224L1100 224" stroke="#ff7f00" stroke-width="2"/>
<path d="M1040 278L1100 278" stroke="#ff7f00" stroke-width="2"/>
<path d="M1040 303L1100 303" stroke="#ff7f00" stroke-width="2"/>
<path d="M1040 328L1100 328" stroke="#ff7f00" stroke-width="2"/>
<path d="M1040 360L1100 360" stroke="#ff7f00" stroke-width="2"/>
<path d="M1040 256.5L1099 256.5" stroke="#ff7f00" stroke-width="3"/>
<path d="M1041 256.5L1098 256.5" stroke="#000"/>
<path d="M1040 419.5L1099 419.5" stroke="#ff7f00" stroke-width="3"/>
<path d="M1041 419.5L1098 419.5" stroke="#000"/>
<path d="M998 165L998 226" stroke="#ff7f00" stroke-width="2"/>
<path d="M997 166L1025 166" stroke="#ff7f00" stroke-width="2"/>
<path d="M1025 437L1100 437" stroke="#ff7f00" stroke-width="2"/>
<rect x="927.5" y="121" width="8.3" height="2" fill="#00ff00" stroke="none"/>
<rect x="963.2" y="121" width="10.8" height="2" fill="#00ff00" stroke="none"/>
<rect x="976.9" y="121" width="9.6" height="2" fill="#00ff00" stroke="none"/>
<rect x="1028" y="121" width="10" height="2" fill="#00ff00" stroke="none"/>
<rect x="1041.4" y="121" width="10.3" height="2" fill="#00ff00" stroke="none"/>
<rect x="798" y="121" width="10.2" height="2" fill="#00ff00" stroke="none"/>
<rect x="812.8" y="121" width="10.9" height="2" fill="#00ff00" stroke="none"/>
<path d="M986 123.5L1009 123.5" stroke="#00ff00"/>
<path d="M669 121.5L737.6 121.5" stroke="#00ff00" stroke-dasharray="6 1"/>
<path d="M669 122.5L737.6 122.5" stroke="#00ff00" stroke-dasharray="3 4"/>
<path d="M666.5 168L666.5 221.5" stroke="#00ff00" stroke-dasharray="7 1"/>
<path d="M764 225.5L785 225.5" stroke="#00ff00" stroke-width="2" stroke-dasharray="3 1"/>
<rect x="624" y="265" width="10" height="2" fill="#00ff00" stroke="none"/>
<rect x="637.8" y="265" width="9.9" height="2" fill="#00ff00" stroke="none"/>
<rect x="187.3" y="265" width="10.7" height="2" fill="#00ff00" stroke="none"/>
<rect x="204.5" y="266.5" width="95" height="4" stroke="#00ff00" fill="none"/>
<path d="M213.5 266.5L213.5 270.8" stroke="#00ff00"/>
<path d="M221.5 266.5L221.5 270.8" stroke="#00ff00"/>
<path d="M230.5 266.5L230.5 270.8" stroke="#00ff00"/>
<path d="M239.5 266.5L239.5 270.8" stroke="#00ff00"/>
<path d="M247.5 266.5L247.5 270.8" stroke="#00ff00"/>
<path d="M256.5 266.5L256.5 270.8" stroke="#00ff00"/>
<path d="M265.5 266.5L265.5 270.8" stroke="#00ff00"/>
<path d="M273.5 266.5L273.5 270.8" stroke="#00ff00"/>
<path d="M282.5 266.5L282.5 270.8" stroke="#00ff00"/>
<path d="M291.5 266.5L291.5 270.8" stroke="#00ff00"/>
<rect x="299.5" y="270.5" width="4" height="39" stroke="#00ff00" fill="none"/>
<path d="M299.5 276.5L303.5 276.5" stroke="#00ff00"/>
<path d="M299.5 285.5L303.5 285.5" stroke="#00ff00"/>
<path d="M299.5 294.5L303.5 294.5" stroke="#00ff00"/>
<path d="M299.5 302.5L303.5 302.5" stroke="#00ff00"/>
<rect x="299.5" y="305.5" width="155" height="4" stroke="#00ff00" fill="none"/>
<path d="M303.5 305.4L303.5 309.4" stroke="#00ff00"/>
<path d="M311.5 305.4L311.5 309.4" stroke="#00ff00"/>
<path d="M320.5 305.4L320.5 309.4" stroke="#00ff00"/>
<path d="M329.5 305.4L329.5 309.4" stroke="#00ff00"/>
<path d="M337.5 305.4L337.5 309.4" stroke="#00ff00"/>
<path d="M346.5 305.4L346.5 309.4" stroke="#00ff00"/>
<path d="M355.5 305.4L355.5 309.4" stroke="#00ff00"/>
<path d="M363.5 305.4L363.5 309.4" stroke="#00ff00"/>
<path d="M372.5 305.4L372.5 309.4" stroke="#00ff00"/>
<path d="M381.5 305.4L381.5 309.4" stroke="#00ff00"/>
<path d="M389.5 305.4L389.5 309.4" stroke="#00ff00"/>
<path d="M398.5 305.4L398.5 309.4" stroke="#00ff00"/>
<path d="M407.5 305.4L407.5 309.4" stroke="#00ff00"/>
<path d="M416.5 305.4L416.5 309.4" stroke="#00ff00"/>
<path d="M424.5 305.4L424.5 309.4" stroke="#00ff00"/>
<path d="M433.5 305.4L433.5 309.4" stroke="#00ff00"/>
<path d="M442.5 305.4L442.5 309.4" stroke="#00ff00"/>
<path d="M450.5 305.4L450.5 309.4" stroke="#00ff00"/>
<rect x="191.5" y="309.5" width="4" height="53" stroke="#00ff00" fill="none"/>
<path d="M191.5 318.5L195.7 318.5" stroke="#00ff00"/>
<path d="M191.5 326.5L195.7 326.5" stroke="#00ff00"/>
<path d="M191.5 335.5L195.7 335.5" stroke="#00ff00"/>
<path d="M191.5 344.5L195.7 344.5" stroke="#00ff00"/>
<path d="M191.5 352.5L195.7 352.5" stroke="#00ff00"/>
<rect x="478.5" y="266.5" width="117" height="4" stroke="#00ff00" fill="none"/>
<path d="M484.5 266.5L484.5 270.6" stroke="#00ff00"/>
<path d="M492.5 266.5L492.5 270.6" stroke="#00ff00"/>
<path d="M501.5 266.5L501.5 270.6" stroke="#00ff00"/>
<path d="M510.5 266.5L510.5 270.6" stroke="#00ff00"/>
<path d="M518.5 266.5L518.5 270.6" stroke="#00ff00"/>
<path d="M527.5 266.5L527.5 270.6" stroke="#00ff00"/>
<path d="M536.5 266.5L536.5 270.6" stroke="#00ff00"/>
<path d="M544.5 266.5L544.5 270.6" stroke="#00ff00"/>
<path d="M553.5 266.5L553.5 270.6" stroke="#00ff00"/>
<path d="M562.5 266.5L562.5 270.6" stroke="#00ff00"/>
<path d="M571.5 266.5L571.5 270.6" stroke="#00ff00"/>
<path d="M579.5 266.5L579.5 270.6" stroke="#00ff00"/>
<path d="M588.5 266.5L588.5 270.6" stroke="#00ff00"/>
<rect x="590.5" y="270.5" width="5" height="24" stroke="#00ff00" fill="none"/>
<path d="M590.5 278.5L595 278.5" stroke="#00ff00"/>
<path d="M590.5 286.5L595 286.5" stroke="#00ff00"/>
<rect x="604.5" y="294.5" width="51" height="4" stroke="#00ff00" fill="none"/>
<path d="M612.5 294.6L612.5 298.7" stroke="#00ff00"/>
<path d="M621.5 294.6L621.5 298.7" stroke="#00ff00"/>
<path d="M630.5 294.6L630.5 298.7" stroke="#00ff00"/>
<path d="M638.5 294.6L638.5 298.7" stroke="#00ff00"/>
<path d="M647.5 294.6L647.5 298.7" stroke="#00ff00"/>
<rect x="680.5" y="294.5" width="43" height="4" stroke="#00ff00" fill="none"/>
<path d="M688.5 294.6L688.5 298.7" stroke="#00ff00"/>
<path d="M697.5 294.6L697.5 298.7" stroke="#00ff00"/>
<path d="M706.5 294.6L706.5 298.7" stroke="#00ff00"/>
<path d="M714.5 294.6L714.5 298.7" stroke="#00ff00"/>
<circle cx="598.8" cy="295.3" r="1.8" stroke="#ffff00" fill="none" shape-rendering="geometricPrecision"/>
<circle cx="728" cy="295.3" r="1.8" stroke="#ffff00" fill="none" shape-rendering="geometricPrecision"/>
<circle cx="566.5" cy="269" r="1.2" stroke="#00ff00" fill="none" shape-rendering="geometricPrecision"/>
<path d="M237 533L311 533" stroke="#ff7f00" stroke-width="2"/>
<path d="M236.5 532L236.5 590" stroke="#ff7f00" stroke-width="3"/>
<path d="M236.5 533L236.5 589" stroke="#000"/>
<path d="M308 532L308 591" stroke="#ff7f00" stroke-width="2"/>
<path d="M307 590L610 590" stroke="#ff7f00" stroke-width="2"/>
<path d="M621.8 590L669 590" stroke="#ff7f00" stroke-width="2"/>
<path d="M245 548L291 548" stroke="#ff7f00" stroke-width="2"/>
<path d="M290 547L290 646.5" stroke="#ff7f00" stroke-width="2"/>
<path d="M237 590L290 590" stroke="#ff7f00" stroke-width="2"/>
<path d="M290 624L342 624" stroke="#ff7f00" stroke-width="2"/>
<path d="M341 623L341 699" stroke="#ff7f00" stroke-width="2"/>
<path d="M316 623L316 656" stroke="#ff7f00" stroke-width="2"/>
<path d="M316 656L334 656" stroke="#ff7f00" stroke-width="2"/>
<path d="M316.3 655.4L310.5 662.4" stroke="#ff7f00" fill="none" stroke-width="2" shape-rendering="geometricPrecision"/>
<path d="M271.5 590L271.5 627" stroke="#ff7f00"/>
<path d="M237.5 591.5L270.6 591.5L270.6 626.5" stroke="#00ff00" fill="none" stroke-width="1.5" shape-rendering="geometricPrecision"/>
<path d="M238.5 591.3L271.2 625.3" stroke="#00ff00" stroke-width="1.3" shape-rendering="geometricPrecision"/>
<path d="M739 531L739 593" stroke="#ff7f00" stroke-width="2"/>
<path d="M738 532L798 532" stroke="#ff7f00" stroke-width="2"/>
<path d="M740 533.5L776 533.5" stroke="#ff7f00"/>
<path d="M778.5 533.5L797 533.5" stroke="#ff7f00"/>
<path d="M722 537.5L722 589" stroke="#ff7f00" stroke-width="2"/>
<path d="M722 551.5L739 551.5" stroke="#ff7f00" stroke-width="3"/>
<path d="M723 551.5L738 551.5" stroke="#000"/>
<path d="M722 571.5L739 571.5" stroke="#ff7f00" stroke-width="3"/>
<path d="M723 571.5L738 571.5" stroke="#000"/>
<path d="M725 551L725 571" stroke="#ff7f00" stroke-width="2"/>
<path d="M668 589L723 589" stroke="#ff7f00" stroke-width="2"/>
<path d="M669 588L669 662" stroke="#ff7f00" stroke-width="2"/>
<path d="M722.2 588.3L732 599.4" stroke="#ff7f00" fill="none" stroke-width="2" shape-rendering="geometricPrecision"/>
<path d="M668 602L681 602" stroke="#ff7f00" stroke-width="2"/>
<path d="M668 615L692 615" stroke="#ff7f00" stroke-width="2"/>
<path d="M703 588L703 602" stroke="#ff7f00" stroke-width="2"/>
<path d="M702.8 602L691.7 614.7" stroke="#ff7f00" fill="none" stroke-width="2" shape-rendering="geometricPrecision"/>
<path d="M691.7 614.7L707 628.6" stroke="#ff7f00" fill="none" stroke-width="2" shape-rendering="geometricPrecision"/>
<path d="M721.7 551L738.5 551" stroke="#ff7f00" stroke-width="2"/>
<path d="M236.1 591.5L230.1 597.5" stroke="#ff7f00" fill="none" stroke-width="2" shape-rendering="geometricPrecision"/>
<path d="M271.3 627L265.3 633" stroke="#ff7f00" fill="none" stroke-width="2" shape-rendering="geometricPrecision"/>
<path d="M307.2 662.9L301.2 668.9" stroke="#ff7f00" fill="none" stroke-width="2" shape-rendering="geometricPrecision"/>
<path d="M342.5 698.5L336.5 704.5" stroke="#ff7f00" fill="none" stroke-width="2" shape-rendering="geometricPrecision"/>
<path d="M739.2 590.8L745.2 596.8" stroke="#ff7f00" fill="none" stroke-width="2" shape-rendering="geometricPrecision"/>
<path d="M704.5 626.5L710.5 632.5" stroke="#ff7f00" fill="none" stroke-width="2" shape-rendering="geometricPrecision"/>
<path d="M668.3 663.1L674.3 669.1" stroke="#ff7f00" fill="none" stroke-width="2" shape-rendering="geometricPrecision"/>
<path d="M632.2 698.3L638.2 704.3" stroke="#ff7f00" fill="none" stroke-width="2" shape-rendering="geometricPrecision"/>
<path d="M777.5 555.3L783.5 561.3" stroke="#ff7f00" fill="none" stroke-width="2" shape-rendering="geometricPrecision"/>
<path d="M190 547.3L206.3 563.5" stroke="#00ff00" fill="none" stroke-width="3.4" shape-rendering="geometricPrecision"/>
<path d="M198 556L201 553" stroke="#ff7f00" fill="none" stroke-width="2" shape-rendering="geometricPrecision"/>
<path d="M308.5 664L340 696" stroke="#00ff00" fill="none" stroke-width="1.2" shape-rendering="geometricPrecision" stroke-dasharray="5 1.5"/>
<path d="M784.7 547L768 563.8" stroke="#00ff00" fill="none" stroke-width="3.4" shape-rendering="geometricPrecision"/>
<path d="M666.7 665L634.7 697" stroke="#00ff00" fill="none" stroke-width="1.2" shape-rendering="geometricPrecision" stroke-dasharray="5 1.5"/>
<rect x="359" y="705" width="4.7" height="3" fill="#00ff00" stroke="none"/>
<rect x="367.6" y="705" width="4.4" height="3" fill="#00ff00" stroke="none"/>
<rect x="603" y="705" width="4" height="3" fill="#00ff00" stroke="none"/>
<rect x="611" y="705" width="5" height="3" fill="#00ff00" stroke="none"/>
</g>
<g id="left">
<path d="M213.5 293.5H221.5V379.5H213.5ZM213.5 297.5H221.5M213.5 305.5H221.5M213.5 314.5H221.5M213.5 323.5H221.5M213.5 331.5H221.5M213.5 340.5H221.5M213.5 349.5H221.5M213.5 357.5H221.5M213.5 366.5H221.5M213.5 375.5H221.5M217.5 297.5V375.5" stroke="#0000ff"/>
<rect x="239.5" y="293.5" width="8" height="13" stroke="#ffffff" fill="none"/>
<path d="M239.5 306.5H247.5V357.5H239.5ZM239.5 314.5H247.5M239.5 323.5H247.5M239.5 331.5H247.5M239.5 340.5H247.5M239.5 349.5H247.5M243.5 306.5V357.5" stroke="#0000ff"/>
<rect x="239.5" y="357.5" width="8" height="22" stroke="#ffffff" fill="none"/>
<path d="M264.5 293.5H273.5V379.5H264.5ZM264.5 297.5H273.5M264.5 305.5H273.5M264.5 314.5H273.5M264.5 323.5H273.5M264.5 331.5H273.5M264.5 340.5H273.5M264.5 349.5H273.5M264.5 357.5H273.5M264.5 366.5H273.5M264.5 375.5H273.5M269.5 297.5V375.5" stroke="#0000ff"/>
<rect x="290.5" y="327.5" width="9" height="52" stroke="#ffffff" fill="none"/>
<rect x="490.5" y="293.5" width="9" height="21" stroke="#ffffff" fill="none"/>
<path d="M490.5 314.5H499.5V379.5H490.5ZM490.5 323.5H499.5M490.5 331.5H499.5M490.5 340.5H499.5M490.5 349.5H499.5M490.5 357.5H499.5M490.5 366.5H499.5M490.5 375.5H499.5M495.5 314.5V375.5" stroke="#0000ff"/>
<path d="M516.5 293.5H525.5V379.5H516.5ZM516.5 297.5H525.5M516.5 305.5H525.5M516.5 314.5H525.5M516.5 323.5H525.5M516.5 331.5H525.5M516.5 340.5H525.5M516.5 349.5H525.5M516.5 357.5H525.5M516.5 366.5H525.5M516.5 375.5H525.5M521.5 297.5V375.5" stroke="#0000ff"/>
<path d="M542.5 293.5H551.5V379.5H542.5ZM542.5 297.5H551.5M542.5 305.5H551.5M542.5 314.5H551.5M542.5 323.5H551.5M542.5 331.5H551.5M542.5 340.5H551.5M542.5 349.5H551.5M542.5 357.5H551.5M542.5 366.5H551.5M542.5 375.5H551.5M547.5 297.5V375.5" stroke="#0000ff"/>
<rect x="567.5" y="293.5" width="9" height="21" stroke="#ffffff" fill="none"/>
<path d="M567.5 314.5H576.5V379.5H567.5ZM567.5 323.5H576.5M567.5 331.5H576.5M567.5 340.5H576.5M567.5 349.5H576.5M567.5 357.5H576.5M567.5 366.5H576.5M567.5 375.5H576.5M572.5 314.5V375.5" stroke="#ff0000"/>
<path d="M594.5 319.5H603.5V379.5H594.5ZM594.5 328.5H603.5M594.5 336.5H603.5M594.5 345.5H603.5M594.5 354.5H603.5M594.5 362.5H603.5M594.5 371.5H603.5M599.5 328.5V371.5" stroke="#0000ff"/>
<path d="M203.5 411.5H212.5V505.5H203.5ZM203.5 415.5H212.5M203.5 423.5H212.5M203.5 432.5H212.5M203.5 440.5H212.5M203.5 449.5H212.5M203.5 458.5H212.5M203.5 466.5H212.5M203.5 475.5H212.5M203.5 484.5H212.5M203.5 492.5H212.5M203.5 501.5H212.5M208.5 415.5V501.5" stroke="#ff0000"/>
<path d="M229.5 411.5H238.5V471.5H234.5V477.5H238.5V505.5H229.5ZM229.5 415.5H238.5M229.5 423.5H238.5M229.5 432.5H238.5M229.5 440.5H238.5M229.5 449.5H238.5M229.5 458.5H238.5M229.5 466.5H238.5M229.5 475.5H234.5M229.5 484.5H238.5M229.5 492.5H238.5M229.5 501.5H238.5M234.5 415.5V501.5" stroke="#ff0000"/>
<path d="M255.5 411.5H264.5V505.5H255.5ZM255.5 415.5H264.5M255.5 423.5H264.5M255.5 432.5H264.5M255.5 440.5H264.5M255.5 449.5H264.5M255.5 458.5H264.5M255.5 466.5H264.5M255.5 475.5H264.5M255.5 484.5H264.5M255.5 492.5H264.5M255.5 501.5H264.5M260.5 415.5V501.5" stroke="#0000ff"/>
<rect x="281.5" y="411.5" width="9" height="21" stroke="#ffffff" fill="none"/>
<path d="M281.5 432.5H290.5V505.5H281.5ZM281.5 440.5H290.5M281.5 449.5H290.5M281.5 458.5H290.5M281.5 466.5H290.5M281.5 475.5H290.5M281.5 484.5H290.5M281.5 492.5H290.5M281.5 501.5H290.5M286.5 432.5V501.5" stroke="#0000ff"/>
<rect x="307.5" y="411.5" width="8" height="94" stroke="#ffffff" fill="none"/>
<path d="M333.5 411.5H341.5V505.5H333.5ZM333.5 415.5H341.5M333.5 423.5H341.5M333.5 432.5H341.5M333.5 440.5H341.5M333.5 449.5H341.5M333.5 458.5H341.5M333.5 466.5H341.5M333.5 475.5H341.5M333.5 484.5H341.5M333.5 492.5H341.5M333.5 501.5H341.5M337.5 415.5V501.5" stroke="#0000ff"/>
<path d="M358.5 411.5H367.5V505.5H358.5ZM358.5 415.5H367.5M358.5 423.5H367.5M358.5 432.5H367.5M358.5 440.5H367.5M358.5 449.5H367.5M358.5 458.5H367.5M358.5 466.5H367.5M358.5 475.5H367.5M358.5 484.5H367.5M358.5 492.5H367.5M358.5 501.5H367.5M363.5 415.5V501.5" stroke="#0000ff"/>
<rect x="386.5" y="411.5" width="9" height="12" stroke="#ffffff" fill="none"/>
<path d="M386.5 445.5H395.5V505.5H386.5ZM386.5 449.5H395.5M386.5 458.5H395.5M386.5 467.5H395.5M386.5 475.5H395.5M386.5 484.5H395.5M386.5 492.5H395.5M386.5 501.5H395.5M391.5 449.5V501.5" stroke="#0000ff"/>
<path d="M411.5 411.5H420.5V505.5H411.5ZM411.5 415.5H420.5M411.5 423.5H420.5M411.5 432.5H420.5M411.5 440.5H420.5M411.5 449.5H420.5M411.5 458.5H420.5M411.5 466.5H420.5M411.5 475.5H420.5M411.5 484.5H420.5M411.5 492.5H420.5M411.5 501.5H420.5M416.5 415.5V501.5" stroke="#ff0000"/>
<path d="M437.5 411.5H446.5V471.5H437.5ZM437.5 415.5H446.5M437.5 423.5H446.5M437.5 432.5H446.5M437.5 440.5H446.5M437.5 449.5H446.5M437.5 458.5H446.5M437.5 466.5H446.5M442.5 415.5V466.5" stroke="#0000ff"/>
<rect x="437.5" y="492.5" width="9" height="13" stroke="#ffffff" fill="none"/>
<rect x="463.5" y="411.5" width="9" height="12" stroke="#ffffff" fill="none"/>
<path d="M463.5 423.5H472.5V505.5H463.5ZM463.5 432.5H472.5M463.5 440.5H472.5M463.5 449.5H472.5M463.5 458.5H472.5M463.5 466.5H472.5M463.5 475.5H472.5M463.5 484.5H472.5M463.5 492.5H472.5M463.5 501.5H472.5M468.5 423.5V501.5" stroke="#0000ff"/>
<path d="M489.5 411.5H498.5V492.5H489.5ZM489.5 415.5H498.5M489.5 423.5H498.5M489.5 432.5H498.5M489.5 440.5H498.5M489.5 449.5H498.5M489.5 458.5H498.5M489.5 466.5H498.5M489.5 475.5H498.5M489.5 484.5H498.5M494.5 415.5V492.5" stroke="#0000ff"/>
<rect x="489.5" y="492.5" width="9" height="13" stroke="#ffffff" fill="none"/>
<path d="M515.5 411.5H523.5V471.5H519.5V477.5H523.5V505.5H515.5ZM515.5 415.5H523.5M515.5 423.5H523.5M515.5 432.5H523.5M515.5 440.5H523.5M515.5 449.5H523.5M515.5 458.5H523.5M515.5 466.5H523.5M515.5 475.5H519.5M515.5 484.5H523.5M515.5 492.5H523.5M515.5 501.5H523.5M519.5 415.5V501.5" stroke="#0000ff"/>
<rect x="541.5" y="411.5" width="8" height="12" stroke="#ffffff" fill="none"/>
<path d="M541.5 423.5H549.5V505.5H541.5ZM541.5 432.5H549.5M541.5 440.5H549.5M541.5 449.5H549.5M541.5 458.5H549.5M541.5 466.5H549.5M541.5 475.5H549.5M541.5 484.5H549.5M541.5 492.5H549.5M541.5 501.5H549.5M545.5 423.5V501.5" stroke="#0000ff"/>
<path d="M566.5 411.5H575.5V505.5H566.5ZM566.5 415.5H575.5M566.5 423.5H575.5M566.5 432.5H575.5M566.5 440.5H575.5M566.5 449.5H575.5M566.5 458.5H575.5M566.5 466.5H575.5M566.5 475.5H575.5M566.5 484.5H575.5M566.5 492.5H575.5M566.5 501.5H575.5M571.5 415.5V501.5" stroke="#0000ff"/>
<path d="M602.5 411.5H593.5V471.5H598.5V477.5H593.5V492.5H602.5ZM593.5 415.5H602.5M593.5 423.5H602.5M593.5 432.5H602.5M593.5 440.5H602.5M593.5 449.5H602.5M593.5 458.5H602.5M593.5 466.5H602.5M598.5 475.5H602.5M593.5 484.5H602.5M598.5 415.5V492.5" stroke="#0000ff"/>
<rect x="593.5" y="492.5" width="9" height="13" stroke="#ffffff" fill="none"/>
<path d="M213 379.5L320.7 379.5" stroke="#ffffff"/>
<path d="M454.7 379.5L596 379.5" stroke="#ffffff"/>
<path d="M454.5 377.5L454.5 381.5" stroke="#ffffff"/>
<path d="M490.5 379.5L490.5 382" stroke="#ffffff"/>
<path d="M203 505.5L631.6 505.5" stroke="#ffffff"/>
<path d="M195.5 362.5L213.5 362.5" stroke="#ffffff"/>
<path d="M213.5 362.5L213.5 411" stroke="#ffffff"/>
<path d="M264.5 270L264.5 293" stroke="#ffffff"/>
<path d="M299.5 309.5L299.5 379.5" stroke="#ffffff"/>
<path d="M320.5 309.5L320.5 332" stroke="#ffffff"/>
<path d="M320.3 309.5L338 309.5" stroke="#ffffff"/>
<path d="M454.9 309.5L490.3 309.5" stroke="#ffffff"/>
<path d="M576.5 294.5L590.5 294.5" stroke="#ffffff"/>
<path d="M603 373.5L630.5 373.5" stroke="#ffffff"/>
<path d="M232.5 505.4L232.5 532" stroke="#ffffff"/>
<path d="M338.5 505.4L338.5 535" stroke="#ffffff"/>
<path d="M496.5 505.4L496.5 535.5" stroke="#ffffff"/>
<path d="M138 312.5L172 312.5" stroke="#ffffff"/>
<path d="M578 254.5L600.5 254.5L600.5 272" stroke="#ffffff" fill="none"/>
<rect x="582" y="251" width="9" height="3" fill="url(#tx)" stroke="none"/>
<path d="M597 306L595.5 306L595.5 319" stroke="#ffffff" fill="none"/>
<path d="M602 300L604 300L604 319" stroke="#ffffff" fill="none"/>
<rect x="320.5" y="332.5" width="134" height="43" stroke="#0000ff" fill="none"/>
<rect x="381" y="349" width="12" height="6" fill="url(#tx)" stroke="none"/>
<rect x="309" y="272" width="143" height="12" fill="#ffffff" stroke="none"/>
<path d="M310.5 274V281M312.5 274V281M314.5 274V281M316.5 274V281M318.5 274V281M320.5 274V281M322.5 274V281M324.5 274V281M326.5 274V281M328.5 274V281M330.5 274V281M332.5 274V281M334.5 274V281M336.5 274V281M338.5 274V281M340.5 274V281M342.5 274V281M344.5 274V281M346.5 274V281M348.5 274V281M350.5 274V281M352.5 274V281M354.5 274V281M356.5 274V281M358.5 274V281M360.5 274V281M362.5 274V281M364.5 274V281M366.5 274V281M368.5 274V281M370.5 274V281M372.5 274V281M374.5 274V281M376.5 274V281M378.5 274V281M380.5 274V281M382.5 274V281M384.5 274V281M386.5 274V281M388.5 274V281M390.5 274V281M392.5 274V281M394.5 274V281M396.5 274V281M398.5 274V281M400.5 274V281M402.5 274V281M404.5 274V281M406.5 274V281M408.5 274V281M410.5 274V281M412.5 274V281M414.5 274V281M416.5 274V281M418.5 274V281M420.5 274V281M422.5 274V281M424.5 274V281M426.5 274V281M428.5 274V281M430.5 274V281M432.5 274V281M434.5 274V281M436.5 274V281M438.5 274V281M440.5 274V281" stroke="#000"/>
<path d="M444 274.5L445.5 273.2H450.5V282.8H445.5L444 281.5Z" stroke="#000" fill="#000" stroke-width="0" shape-rendering="geometricPrecision"/>
<rect x="309" y="285" width="143" height="12" fill="#ffffff" stroke="none"/>
<path d="M310.5 287V294M312.5 287V294M314.5 287V294M316.5 287V294M318.5 287V294M320.5 287V294M322.5 287V294M324.5 287V294M326.5 287V294M328.5 287V294M330.5 287V294M332.5 287V294M334.5 287V294M336.5 287V294M338.5 287V294M340.5 287V294M342.5 287V294M344.5 287V294M346.5 287V294M348.5 287V294M350.5 287V294M352.5 287V294M354.5 287V294M356.5 287V294M358.5 287V294M360.5 287V294M362.5 287V294M364.5 287V294M366.5 287V294M368.5 287V294M370.5 287V294M372.5 287V294M374.5 287V294M376.5 287V294M378.5 287V294M380.5 287V294M382.5 287V294M384.5 287V294M386.5 287V294M388.5 287V294M390.5 287V294M392.5 287V294M394.5 287V294M396.5 287V294M398.5 287V294M400.5 287V294M402.5 287V294M404.5 287V294M406.5 287V294M408.5 287V294M410.5 287V294M412.5 287V294M414.5 287V294M416.5 287V294M418.5 287V294M420.5 287V294M422.5 287V294M424.5 287V294M426.5 287V294M428.5 287V294M430.5 287V294M432.5 287V294M434.5 287V294M436.5 287V294M438.5 287V294M440.5 287V294" stroke="#000"/>
<path d="M444 287.5L445.5 286.2H450.5V295.8H445.5L444 294.5Z" stroke="#000" fill="#000" stroke-width="0" shape-rendering="geometricPrecision"/>
<path d="M308.5 270L308.5 299" stroke="#ff7f00"/>
<path d="M308.5 298.5L394 298.5" stroke="#ff7f00"/>
<path d="M306 303.5L449 303.5" stroke="#ff7f00"/>
<rect x="630.5" y="320.5" width="16" height="55" stroke="#00ffff" fill="none"/>
<path d="M630.5 327.5L646.7 327.5" stroke="#00ffff"/>
<path d="M630.5 340.5L646.7 340.5" stroke="#00ffff"/>
<path d="M630.5 354.5L646.7 354.5" stroke="#00ffff"/>
<path d="M630.5 367.5L646.7 367.5" stroke="#00ffff"/>
<path d="M638.5 327L638.5 367.6" stroke="#00ffff"/>
<path d="M651.5 327L651.5 367.6" stroke="#ffffff"/>
<path d="M649.1 327.5L653.5 327.5" stroke="#ffffff"/>
<path d="M649.1 340.5L653.5 340.5" stroke="#ffffff"/>
<path d="M649.1 354.5L653.5 354.5" stroke="#ffffff"/>
<path d="M649.1 367.5L653.5 367.5" stroke="#ffffff"/>
<rect x="648" y="332" width="2" height="4" fill="url(#tx)" stroke="none"/>
<rect x="648" y="345" width="2" height="4" fill="url(#tx)" stroke="none"/>
<rect x="648" y="359" width="2" height="4" fill="url(#tx)" stroke="none"/>
<rect x="626" y="346" width="3" height="6" fill="url(#tx)" stroke="none"/>
<path d="M630.5 381.5L646.7 381.5" stroke="#ffffff"/>
<path d="M630.5 378.5L630.5 383.5" stroke="#ffffff"/>
<path d="M646.5 378.5L646.5 383.5" stroke="#ffffff"/>
<rect x="636" y="378" width="5" height="2" fill="url(#tx)" stroke="none"/>
<rect x="673.5" y="320.5" width="16" height="55" stroke="#00ffff" fill="none"/>
<path d="M673.3 327.5L689 327.5" stroke="#00ffff"/>
<path d="M673.3 340.5L689 340.5" stroke="#00ffff"/>
<path d="M673.3 354.5L689 354.5" stroke="#00ffff"/>
<path d="M673.3 367.5L689 367.5" stroke="#00ffff"/>
<path d="M681.5 327L681.5 367.6" stroke="#00ffff"/>
<path d="M693.5 327L693.5 367.6" stroke="#ffffff"/>
<path d="M691.4 327.5L695.8 327.5" stroke="#ffffff"/>
<path d="M691.4 340.5L695.8 340.5" stroke="#ffffff"/>
<path d="M691.4 354.5L695.8 354.5" stroke="#ffffff"/>
<path d="M691.4 367.5L695.8 367.5" stroke="#ffffff"/>
<rect x="691" y="332" width="2" height="4" fill="url(#tx)" stroke="none"/>
<rect x="691" y="345" width="2" height="4" fill="url(#tx)" stroke="none"/>
<rect x="691" y="359" width="2" height="4" fill="url(#tx)" stroke="none"/>
<rect x="668" y="346" width="3" height="6" fill="url(#tx)" stroke="none"/>
<path d="M673.3 381.5L689 381.5" stroke="#ffffff"/>
<path d="M673.5 378.5L673.5 383.5" stroke="#ffffff"/>
<path d="M689.5 378.5L689.5 383.5" stroke="#ffffff"/>
<rect x="679" y="378" width="5" height="2" fill="url(#tx)" stroke="none"/>
<rect x="714.5" y="320.5" width="16" height="55" stroke="#00ffff" fill="none"/>
<path d="M714.3 327.5L730 327.5" stroke="#00ffff"/>
<path d="M714.3 340.5L730 340.5" stroke="#00ffff"/>
<path d="M714.3 354.5L730 354.5" stroke="#00ffff"/>
<path d="M714.3 367.5L730 367.5" stroke="#00ffff"/>
<path d="M722.5 327L722.5 367.6" stroke="#00ffff"/>
<rect x="709" y="346" width="3" height="6" fill="url(#tx)" stroke="none"/>
<path d="M714.3 381.5L730 381.5" stroke="#ffffff"/>
<path d="M714.5 378.5L714.5 383.5" stroke="#ffffff"/>
<path d="M730.5 378.5L730.5 383.5" stroke="#ffffff"/>
<rect x="720" y="378" width="5" height="2" fill="url(#tx)" stroke="none"/>
<rect x="630.5" y="417.5" width="15" height="86" stroke="#00ffff" fill="none"/>
<path d="M630.4 424.5L645.8 424.5" stroke="#00ffff"/>
<path d="M630.4 442.5L645.8 442.5" stroke="#00ffff"/>
<path d="M630.4 460.5L645.8 460.5" stroke="#00ffff"/>
<path d="M630.4 477.5L645.8 477.5" stroke="#00ffff"/>
<path d="M630.4 495.5L645.8 495.5" stroke="#00ffff"/>
<path d="M638.5 424L638.5 495.5" stroke="#00ffff"/>
<path d="M651.5 424L651.5 495.5" stroke="#ffffff"/>
<path d="M648.8 424.5L653.8 424.5" stroke="#ffffff"/>
<path d="M648.8 442.5L653.8 442.5" stroke="#ffffff"/>
<path d="M648.8 460.5L653.8 460.5" stroke="#ffffff"/>
<path d="M648.8 477.5L653.8 477.5" stroke="#ffffff"/>
<path d="M648.8 495.5L653.8 495.5" stroke="#ffffff"/>
<rect x="648" y="431" width="2" height="5" fill="url(#tx)" stroke="none"/>
<rect x="648" y="449" width="2" height="5" fill="url(#tx)" stroke="none"/>
<rect x="648" y="467" width="2" height="5" fill="url(#tx)" stroke="none"/>
<rect x="648" y="484" width="2" height="5" fill="url(#tx)" stroke="none"/>
<rect x="625" y="451" width="3" height="6" fill="url(#tx)" stroke="none"/>
<path d="M630.4 413.5L645.8 413.5" stroke="#ffffff"/>
<path d="M630.5 411L630.5 416" stroke="#ffffff"/>
<path d="M645.5 411L645.5 416" stroke="#ffffff"/>
<rect x="636" y="410" width="4" height="2" fill="url(#tx)" stroke="none"/>
<rect x="673.5" y="417.5" width="15" height="86" stroke="#00ffff" fill="none"/>
<path d="M673.4 424.5L688.8 424.5" stroke="#00ffff"/>
<path d="M673.4 442.5L688.8 442.5" stroke="#00ffff"/>
<path d="M673.4 460.5L688.8 460.5" stroke="#00ffff"/>
<path d="M673.4 477.5L688.8 477.5" stroke="#00ffff"/>
<path d="M673.4 495.5L688.8 495.5" stroke="#00ffff"/>
<path d="M681.5 424L681.5 495.5" stroke="#00ffff"/>
<path d="M694.5 424L694.5 495.5" stroke="#ffffff"/>
<path d="M691.8 424.5L696.8 424.5" stroke="#ffffff"/>
<path d="M691.8 442.5L696.8 442.5" stroke="#ffffff"/>
<path d="M691.8 460.5L696.8 460.5" stroke="#ffffff"/>
<path d="M691.8 477.5L696.8 477.5" stroke="#ffffff"/>
<path d="M691.8 495.5L696.8 495.5" stroke="#ffffff"/>
<rect x="691" y="431" width="2" height="5" fill="url(#tx)" stroke="none"/>
<rect x="691" y="449" width="2" height="5" fill="url(#tx)" stroke="none"/>
<rect x="691" y="467" width="2" height="5" fill="url(#tx)" stroke="none"/>
<rect x="691" y="484" width="2" height="5" fill="url(#tx)" stroke="none"/>
<rect x="668" y="451" width="3" height="6" fill="url(#tx)" stroke="none"/>
<path d="M673.4 413.5L688.8 413.5" stroke="#ffffff"/>
<path d="M673.5 411L673.5 416" stroke="#ffffff"/>
<path d="M688.5 411L688.5 416" stroke="#ffffff"/>
<rect x="679" y="410" width="4" height="2" fill="url(#tx)" stroke="none"/>
<rect x="714.5" y="417.5" width="16" height="86" stroke="#00ffff" fill="none"/>
<path d="M714.4 424.5L730 424.5" stroke="#00ffff"/>
<path d="M714.4 442.5L730 442.5" stroke="#00ffff"/>
<path d="M714.4 460.5L730 460.5" stroke="#00ffff"/>
<path d="M714.4 477.5L730 477.5" stroke="#00ffff"/>
<path d="M714.4 495.5L730 495.5" stroke="#00ffff"/>
<path d="M722.5 424L722.5 495.5" stroke="#00ffff"/>
<rect x="709" y="451" width="3" height="6" fill="url(#tx)" stroke="none"/>
<path d="M714.4 413.5L730 413.5" stroke="#ffffff"/>
<path d="M714.5 411L714.5 416" stroke="#ffffff"/>
<path d="M730.5 411L730.5 416" stroke="#ffffff"/>
<rect x="720" y="410" width="4" height="2" fill="url(#tx)" stroke="none"/>
<path d="M646.7 371.5L673.3 371.5" stroke="#ffffff"/>
<path d="M689 370.5L714.3 370.5" stroke="#ffffff"/>
<path d="M730 362.5L770.5 362.5" stroke="#ffffff"/>
<path d="M638.5 375.5L638.5 417.3" stroke="#ffffff"/>
<path d="M645.8 498.5L673.4 498.5" stroke="#ffffff"/>
<path d="M688.8 498.5L714.4 498.5" stroke="#ffffff"/>
<path d="M730 433.5L761.3 433.5" stroke="#ffffff"/>
<path d="M728.6 477.5L761.3 477.5" stroke="#ffffff"/>
<path d="M738.5 307L738.5 531.5" stroke="#00ff00" stroke-dasharray="5 1.5 1.5 1.5"/>
<rect x="614" y="370" width="5" height="2" fill="url(#tx)" stroke="none"/>
<rect x="658" y="368" width="5" height="2" fill="url(#tx)" stroke="none"/>
<rect x="699" y="367" width="5" height="2" fill="url(#tx)" stroke="none"/>
<rect x="657" y="496" width="5" height="2" fill="url(#tx)" stroke="none"/>
<rect x="699" y="496" width="5" height="2" fill="url(#tx)" stroke="none"/>
<rect x="741" y="430" width="5" height="2" fill="url(#tx)" stroke="none"/>
<rect x="748" y="474" width="5" height="2" fill="url(#tx)" stroke="none"/>
<rect x="731" y="474" width="4" height="2" fill="url(#tx)" stroke="none"/>
<rect x="750" y="359" width="5" height="2" fill="url(#tx)" stroke="none"/>
<rect x="633" y="394" width="2" height="5" fill="url(#tx)" stroke="none"/>
<rect x="208" y="329" width="3" height="6" fill="url(#tx)" stroke="none"/>
<rect x="208" y="339" width="3" height="6" fill="url(#tx)" stroke="none"/>
<rect x="208" y="350" width="3" height="6" fill="url(#tx)" stroke="none"/>
<rect x="224" y="331" width="4" height="6" fill="url(#tx)" stroke="none"/>
<rect x="224" y="343" width="4" height="4" fill="url(#tx)" stroke="none"/>
<rect x="233" y="338" width="4" height="8" fill="url(#tx)" stroke="none"/>
<rect x="250" y="347" width="4" height="6" fill="url(#tx)" stroke="none"/>
<rect x="260" y="340" width="3" height="6" fill="url(#tx)" stroke="none"/>
<rect x="275" y="338" width="4" height="8" fill="url(#tx)" stroke="none"/>
<rect x="296" y="292" width="3" height="8" fill="url(#tx)" stroke="none"/>
<rect x="296" y="317" width="2" height="5" fill="url(#tx)" stroke="none"/>
<rect x="194" y="294" width="4" height="9" fill="url(#tx)" stroke="none"/>
<rect x="214" y="273" width="3" height="4" fill="url(#tx)" stroke="none"/>
<rect x="234" y="272" width="5" height="4" fill="url(#tx)" stroke="none"/>
<rect x="253" y="272" width="7" height="4" fill="url(#tx)" stroke="none"/>
<rect x="262" y="280" width="2" height="3" fill="url(#tx)" stroke="none"/>
<rect x="199" y="322" width="3" height="7" fill="url(#tx)" stroke="none"/>
<rect x="159" y="351" width="3" height="6" fill="url(#tx)" stroke="none"/>
<rect x="158" y="386" width="3" height="7" fill="url(#tx)" stroke="none"/>
<rect x="170" y="408" width="3" height="8" fill="url(#tx)" stroke="none"/>
<rect x="157" y="444" width="3" height="7" fill="url(#tx)" stroke="none"/>
<rect x="173" y="486" width="3" height="6" fill="url(#tx)" stroke="none"/>
<rect x="182" y="506" width="3" height="9" fill="url(#tx)" stroke="none"/>
<rect x="172" y="517" width="3" height="6" fill="url(#tx)" stroke="none"/>
<rect x="169.2" y="349.5" width="1.5" height="3" fill="#ffffff" stroke="none" opacity="0.78"/>
<rect x="181.2" y="349.5" width="1.5" height="3" fill="#ffffff" stroke="none" opacity="0.78"/>
<rect x="293" y="359" width="2" height="4" fill="url(#tx)" stroke="none"/>
<rect x="485" y="337" width="4" height="6" fill="url(#tx)" stroke="none"/>
<rect x="501" y="350" width="4" height="8" fill="url(#tx)" stroke="none"/>
<rect x="512" y="332" width="3" height="2" fill="url(#tx)" stroke="none"/>
<rect x="512" y="347" width="3" height="2" fill="url(#tx)" stroke="none"/>
<rect x="511" y="361" width="4" height="6" fill="url(#tx)" stroke="none"/>
<rect x="527" y="354" width="4" height="4" fill="url(#tx)" stroke="none"/>
<rect x="537" y="362" width="4" height="5" fill="url(#tx)" stroke="none"/>
<rect x="553" y="345" width="3" height="4" fill="url(#tx)" stroke="none"/>
<rect x="562" y="342" width="4" height="4" fill="url(#tx)" stroke="none"/>
<rect x="562" y="352" width="4" height="5" fill="url(#tx)" stroke="none"/>
<rect x="563" y="363" width="4" height="4" fill="url(#tx)" stroke="none"/>
<rect x="578" y="344" width="4" height="5" fill="url(#tx)" stroke="none"/>
<rect x="604" y="341" width="4" height="8" fill="url(#tx)" stroke="none"/>
<rect x="626" y="346" width="4" height="6" fill="url(#tx)" stroke="none"/>
<rect x="591" y="310" width="2" height="5" fill="url(#tx)" stroke="none"/>
<rect x="601" y="307" width="2" height="4" fill="url(#tx)" stroke="none"/>
<rect x="495" y="273" width="5" height="4" fill="url(#tx)" stroke="none"/>
<rect x="522" y="273" width="6" height="4" fill="url(#tx)" stroke="none"/>
<rect x="554" y="273" width="4" height="4" fill="url(#tx)" stroke="none"/>
<rect x="582" y="291" width="4" height="2" fill="url(#tx)" stroke="none"/>
<rect x="470" y="306" width="4" height="2" fill="url(#tx)" stroke="none"/>
<rect x="208" y="393" width="2" height="5" fill="url(#tx)" stroke="none"/>
<rect x="199" y="438" width="4" height="4" fill="url(#tx)" stroke="none"/>
<rect x="199" y="459" width="4" height="7" fill="url(#tx)" stroke="none"/>
<rect x="215" y="447" width="4" height="5" fill="url(#tx)" stroke="none"/>
<rect x="215" y="477" width="4" height="4" fill="url(#tx)" stroke="none"/>
<rect x="224" y="441" width="4" height="4" fill="url(#tx)" stroke="none"/>
<rect x="224" y="458" width="4" height="7" fill="url(#tx)" stroke="none"/>
<rect x="241" y="454" width="4" height="4" fill="url(#tx)" stroke="none"/>
<rect x="241" y="477" width="4" height="4" fill="url(#tx)" stroke="none"/>
<rect x="250" y="478" width="4" height="6" fill="url(#tx)" stroke="none"/>
<rect x="265" y="459" width="4" height="4" fill="url(#tx)" stroke="none"/>
<rect x="265" y="475" width="4" height="8" fill="url(#tx)" stroke="none"/>
<rect x="276" y="469" width="4" height="8" fill="url(#tx)" stroke="none"/>
<rect x="291" y="473" width="4" height="5" fill="url(#tx)" stroke="none"/>
<rect x="310" y="455" width="2" height="4" fill="url(#tx)" stroke="none"/>
<rect x="329" y="452" width="2" height="2" fill="url(#tx)" stroke="none"/>
<rect x="329" y="468" width="3" height="4" fill="url(#tx)" stroke="none"/>
<rect x="328" y="488" width="4" height="9" fill="url(#tx)" stroke="none"/>
<rect x="343" y="451" width="4" height="7" fill="url(#tx)" stroke="none"/>
<rect x="343" y="466" width="4" height="6" fill="url(#tx)" stroke="none"/>
<rect x="343" y="489" width="4" height="4" fill="url(#tx)" stroke="none"/>
<rect x="352" y="453" width="4" height="5" fill="url(#tx)" stroke="none"/>
<rect x="352" y="474" width="4" height="5" fill="url(#tx)" stroke="none"/>
<rect x="352" y="491" width="4" height="3" fill="url(#tx)" stroke="none"/>
<rect x="369" y="465" width="4" height="4" fill="url(#tx)" stroke="none"/>
<rect x="379" y="490" width="4" height="5" fill="url(#tx)" stroke="none"/>
<rect x="397" y="460" width="3" height="9" fill="url(#tx)" stroke="none"/>
<rect x="390" y="416" width="2" height="4" fill="url(#tx)" stroke="none"/>
<rect x="407" y="446" width="4" height="7" fill="url(#tx)" stroke="none"/>
<rect x="406" y="467" width="5" height="2" fill="url(#tx)" stroke="none"/>
<rect x="424" y="448" width="4" height="7" fill="url(#tx)" stroke="none"/>
<rect x="424" y="465" width="4" height="4" fill="url(#tx)" stroke="none"/>
<rect x="432" y="451" width="4" height="7" fill="url(#tx)" stroke="none"/>
<rect x="448" y="450" width="4" height="7" fill="url(#tx)" stroke="none"/>
<rect x="441" y="498" width="2" height="4" fill="url(#tx)" stroke="none"/>
<rect x="458" y="465" width="4" height="6" fill="url(#tx)" stroke="none"/>
<rect x="474" y="465" width="4" height="7" fill="url(#tx)" stroke="none"/>
<rect x="484" y="440" width="4" height="5" fill="url(#tx)" stroke="none"/>
<rect x="484" y="454" width="4" height="9" fill="url(#tx)" stroke="none"/>
<rect x="499" y="447" width="4" height="4" fill="url(#tx)" stroke="none"/>
<rect x="499" y="468" width="4" height="4" fill="url(#tx)" stroke="none"/>
<rect x="499" y="487" width="4" height="4" fill="url(#tx)" stroke="none"/>
<rect x="509" y="472" width="4" height="4" fill="url(#tx)" stroke="none"/>
<rect x="525" y="458" width="4" height="4" fill="url(#tx)" stroke="none"/>
<rect x="536" y="453" width="4" height="6" fill="url(#tx)" stroke="none"/>
<rect x="536" y="474" width="4" height="4" fill="url(#tx)" stroke="none"/>
<rect x="551" y="463" width="4" height="7" fill="url(#tx)" stroke="none"/>
<rect x="551" y="482" width="4" height="5" fill="url(#tx)" stroke="none"/>
<rect x="562" y="465" width="4" height="13" fill="url(#tx)" stroke="none"/>
<rect x="577" y="474" width="5" height="4" fill="url(#tx)" stroke="none"/>
<rect x="588" y="449" width="4" height="5" fill="url(#tx)" stroke="none"/>
<rect x="588" y="466" width="4" height="8" fill="url(#tx)" stroke="none"/>
<rect x="603" y="471" width="4" height="2" fill="url(#tx)" stroke="none"/>
<rect x="626" y="451" width="4" height="7" fill="url(#tx)" stroke="none"/>
<rect x="219" y="502" width="5" height="2" fill="url(#tx)" stroke="none"/>
<rect x="244" y="502" width="5" height="2" fill="url(#tx)" stroke="none"/>
<rect x="281" y="502" width="5" height="2" fill="url(#tx)" stroke="none"/>
<rect x="296" y="502" width="5" height="2" fill="url(#tx)" stroke="none"/>
<rect x="308" y="376" width="5" height="2" fill="url(#tx)" stroke="none"/>
<rect x="332" y="502" width="5" height="2" fill="url(#tx)" stroke="none"/>
<rect x="353" y="502" width="5" height="2" fill="url(#tx)" stroke="none"/>
<rect x="380" y="502" width="5" height="2" fill="url(#tx)" stroke="none"/>
<rect x="401" y="502" width="5" height="2" fill="url(#tx)" stroke="none"/>
<rect x="427" y="502" width="5" height="2" fill="url(#tx)" stroke="none"/>
<rect x="453" y="502" width="5" height="2" fill="url(#tx)" stroke="none"/>
<rect x="478" y="502" width="5" height="2" fill="url(#tx)" stroke="none"/>
<rect x="505" y="502" width="5" height="2" fill="url(#tx)" stroke="none"/>
<rect x="531" y="502" width="5" height="2" fill="url(#tx)" stroke="none"/>
<rect x="556" y="502" width="5" height="2" fill="url(#tx)" stroke="none"/>
<rect x="582" y="502" width="5" height="2" fill="url(#tx)" stroke="none"/>
<rect x="614" y="502" width="5" height="2" fill="url(#tx)" stroke="none"/>
<rect x="225" y="376" width="5" height="2" fill="url(#tx)" stroke="none"/>
<rect x="250" y="376" width="5" height="2" fill="url(#tx)" stroke="none"/>
<rect x="277" y="376" width="5" height="2" fill="url(#tx)" stroke="none"/>
<rect x="301" y="376" width="5" height="2" fill="url(#tx)" stroke="none"/>
<rect x="468" y="376" width="5" height="2" fill="url(#tx)" stroke="none"/>
<rect x="506" y="376" width="5" height="2" fill="url(#tx)" stroke="none"/>
<rect x="532" y="376" width="5" height="2" fill="url(#tx)" stroke="none"/>
<rect x="557" y="376" width="5" height="2" fill="url(#tx)" stroke="none"/>
<rect x="583" y="376" width="5" height="2" fill="url(#tx)" stroke="none"/>
<rect x="191" y="261" width="4" height="3" fill="url(#tx)" stroke="none"/>
<rect x="206" y="261" width="4" height="3" fill="url(#tx)" stroke="none"/>
<rect x="270" y="261" width="5" height="3" fill="url(#tx)" stroke="none"/>
<rect x="342" y="261" width="5" height="3" fill="url(#tx)" stroke="none"/>
<rect x="413" y="261" width="5" height="3" fill="url(#tx)" stroke="none"/>
<rect x="485" y="261" width="5" height="3" fill="url(#tx)" stroke="none"/>
<rect x="557" y="261" width="5" height="3" fill="url(#tx)" stroke="none"/>
<rect x="626" y="269" width="4" height="3" fill="url(#tx)" stroke="none"/>
<rect x="640" y="269" width="4" height="3" fill="url(#tx)" stroke="none"/>
<rect x="178" y="283" width="9" height="4" fill="url(#tx)" stroke="none"/>
<rect x="144" y="308" width="10" height="3" fill="url(#tx)" stroke="none"/>
<rect x="611" y="275" width="7" height="4" fill="url(#tx)" stroke="none"/>
<path d="M603 280.5L619 280.5" stroke="#ffffff"/>
<rect x="632" y="277" width="8" height="4" fill="url(#tx)" stroke="none"/>
<rect x="656" y="287" width="10" height="4" fill="url(#tx)" stroke="none"/>
<rect x="672" y="266" width="7" height="4" fill="url(#tx)" stroke="none"/>
<rect x="672" y="290" width="7" height="4" fill="url(#tx)" stroke="none"/>
<path d="M679.5 268L679.5 292" stroke="#ffffff" stroke-dasharray="6 5"/>
<rect x="717" y="249" width="8" height="4" fill="url(#tx)" stroke="none"/>
<rect x="733" y="255" width="3" height="10" fill="url(#tx)" stroke="none"/>
<path d="M201 294.5H204.5Q207.8 295.5 207.8 298.5L206 301H201" stroke="#00ff00" fill="none" stroke-width="1.3" shape-rendering="geometricPrecision"/>
<path d="M173 361L175 356L177 360L179 356L181 361" stroke="#00ff00" fill="none" shape-rendering="geometricPrecision"/>
<path d="M656.5 294.5V298Q657 300.5 660.5 300.5Q663.5 300.5 663.5 298V294.5" stroke="#00ff00" fill="none" shape-rendering="geometricPrecision"/>
<path d="M739.5 256.5H743Q746 257.5 746 261.5L743.5 262.5H739.5" stroke="#00ff00" fill="none" shape-rendering="geometricPrecision"/>
</g>
<g id="right">
<rect x="759" y="240" width="167" height="29" stroke="#ffffff" fill="none" stroke-width="2"/>
<path d="M781 239.5L781 269" stroke="#ffffff" stroke-width="2"/>
<path d="M813 239.5L813 269" stroke="#ffffff" stroke-width="2"/>
<path d="M839 239.5L839 269" stroke="#ffffff" stroke-width="2"/>
<path d="M867 239.5L867 269" stroke="#ffffff" stroke-width="2"/>
<path d="M897 239.5L897 269" stroke="#ffffff" stroke-width="2"/>
<rect x="807.5" y="263.5" width="6" height="6" stroke="#ffffff" fill="none"/>
<rect x="879.5" y="263.5" width="6" height="6" stroke="#ffffff" fill="none"/>
<rect x="765" y="251" width="7" height="2" fill="url(#tx)" stroke="none"/>
<rect x="770" y="255" width="5" height="2" fill="url(#tx)" stroke="none"/>
<rect x="792" y="251" width="7" height="2" fill="url(#tx)" stroke="none"/>
<rect x="797" y="255" width="5" height="2" fill="url(#tx)" stroke="none"/>
<rect x="821" y="251" width="7" height="2" fill="url(#tx)" stroke="none"/>
<rect x="826" y="255" width="5" height="2" fill="url(#tx)" stroke="none"/>
<rect x="848" y="251" width="7" height="2" fill="url(#tx)" stroke="none"/>
<rect x="853" y="255" width="5" height="2" fill="url(#tx)" stroke="none"/>
<rect x="877" y="251" width="7" height="2" fill="url(#tx)" stroke="none"/>
<rect x="881" y="255" width="5" height="2" fill="url(#tx)" stroke="none"/>
<rect x="906" y="251" width="7" height="2" fill="url(#tx)" stroke="none"/>
<rect x="911" y="255" width="5" height="2" fill="url(#tx)" stroke="none"/>
<rect x="769" y="237" width="6" height="2" fill="url(#tx)" stroke="none"/>
<rect x="784" y="237" width="6" height="2" fill="url(#tx)" stroke="none"/>
<rect x="823" y="237" width="6" height="2" fill="url(#tx)" stroke="none"/>
<rect x="850" y="237" width="6" height="2" fill="url(#tx)" stroke="none"/>
<rect x="879" y="237" width="6" height="2" fill="url(#tx)" stroke="none"/>
<rect x="908" y="237" width="6" height="2" fill="url(#tx)" stroke="none"/>
<path d="M758.5 269L758.5 277.5" stroke="#00ff00"/>
<path d="M758.5 277.5L813.4 277.5" stroke="#00ff00"/>
<path d="M813.5 269L813.5 277.5" stroke="#00ffff"/>
<path d="M863.5 269L863.5 277.5" stroke="#00ffff"/>
<path d="M813.4 277.5L863.3 277.5" stroke="#00ffff"/>
<path d="M863.3 277.5L926 277.5" stroke="#00ff00"/>
<path d="M926.5 269L926.5 277.5" stroke="#00ff00"/>
<rect x="774" y="272" width="6" height="3" fill="url(#tx)" stroke="none"/>
<rect x="831" y="272" width="8" height="4" fill="url(#tx)" stroke="none"/>
<rect x="889" y="272" width="8" height="4" fill="url(#tx)" stroke="none"/>
<path d="M740 277.5L758.5 277.5" stroke="#ffffff"/>
<path d="M926 277.5L933.5 277.5" stroke="#ffffff"/>
<rect x="928" y="274" width="4" height="2" fill="url(#tx)" stroke="none"/>
<rect x="747" y="275" width="4" height="2" fill="url(#tx)" stroke="none"/>
<path d="M815.5 226L815.5 239.5" stroke="#ffffff"/>
<rect x="812" y="231" width="2" height="4" fill="url(#tx)" stroke="none"/>
<path d="M770.5 277.5L770.5 408.3" stroke="#ffffff"/>
<path d="M770.5 333.5L898.2 333.5" stroke="#ffffff"/>
<path d="M960 333.5L979.3 333.5" stroke="#ffffff"/>
<path d="M997 333.5L1017.6 333.5" stroke="#ffffff"/>
<path d="M951.5 363L951.5 390.4" stroke="#ffffff"/>
<rect x="770.5" y="299.5" width="22" height="8" stroke="#00ff00" fill="none"/>
<path d="M774.5 299.3L774.5 307.3" stroke="#00ff00"/>
<path d="M779.5 299.3L779.5 307.3" stroke="#00ff00"/>
<path d="M783.5 299.3L783.5 307.3" stroke="#00ff00"/>
<path d="M787.5 299.3L787.5 307.3" stroke="#00ff00"/>
<rect x="770.5" y="324.5" width="22" height="9" stroke="#00ff00" fill="none"/>
<path d="M774.5 324L774.5 333.5" stroke="#00ff00"/>
<path d="M779.5 324L779.5 333.5" stroke="#00ff00"/>
<path d="M783.5 324L783.5 333.5" stroke="#00ff00"/>
<path d="M787.5 324L787.5 333.5" stroke="#00ff00"/>
<path d="M770.4 311.5L779 311.5" stroke="#0000ff"/>
<path d="M782.7 311.5L792 311.5" stroke="#0000ff"/>
<path d="M770.4 315.5L779 315.5" stroke="#0000ff"/>
<path d="M782.7 315.5L792 315.5" stroke="#0000ff"/>
<path d="M770.4 319.5L779 319.5" stroke="#0000ff"/>
<path d="M782.7 319.5L792 319.5" stroke="#0000ff"/>
<path d="M770.5 307.3L770.5 324" stroke="#0000ff"/>
<path d="M779.5 307.3L779.5 324" stroke="#0000ff"/>
<path d="M782.5 307.3L782.5 324" stroke="#0000ff"/>
<path d="M792.5 307.3L792.5 324" stroke="#0000ff"/>
<rect x="780" y="316" width="1.8" height="3" fill="#ffffff" stroke="none" opacity="0.78"/>
<rect x="801" y="330" width="4" height="2" fill="url(#tx)" stroke="none"/>
<rect x="813.5" y="299.5" width="21" height="8" stroke="#00ff00" fill="none"/>
<path d="M817.5 299.3L817.5 307.3" stroke="#00ff00"/>
<path d="M821.5 299.3L821.5 307.3" stroke="#00ff00"/>
<path d="M826.5 299.3L826.5 307.3" stroke="#00ff00"/>
<path d="M830.5 299.3L830.5 307.3" stroke="#00ff00"/>
<rect x="813.5" y="324.5" width="21" height="9" stroke="#00ff00" fill="none"/>
<path d="M817.5 324L817.5 333.5" stroke="#00ff00"/>
<path d="M821.5 324L821.5 333.5" stroke="#00ff00"/>
<path d="M826.5 324L826.5 333.5" stroke="#00ff00"/>
<path d="M830.5 324L830.5 333.5" stroke="#00ff00"/>
<path d="M813.4 311.5L822 311.5" stroke="#0000ff"/>
<path d="M825.5 311.5L834.8 311.5" stroke="#0000ff"/>
<path d="M813.4 315.5L822 315.5" stroke="#0000ff"/>
<path d="M825.5 315.5L834.8 315.5" stroke="#0000ff"/>
<path d="M813.4 319.5L822 319.5" stroke="#0000ff"/>
<path d="M825.5 319.5L834.8 319.5" stroke="#0000ff"/>
<path d="M813.5 307.3L813.5 324" stroke="#0000ff"/>
<path d="M822.5 307.3L822.5 324" stroke="#0000ff"/>
<path d="M825.5 307.3L825.5 324" stroke="#0000ff"/>
<path d="M834.5 307.3L834.5 324" stroke="#0000ff"/>
<rect x="822.9" y="316" width="1.8" height="3" fill="#ffffff" stroke="none" opacity="0.78"/>
<rect x="844" y="330" width="4" height="2" fill="url(#tx)" stroke="none"/>
<rect x="856.5" y="299.5" width="21" height="8" stroke="#00ff00" fill="none"/>
<path d="M860.5 299.3L860.5 307.3" stroke="#00ff00"/>
<path d="M864.5 299.3L864.5 307.3" stroke="#00ff00"/>
<path d="M869.5 299.3L869.5 307.3" stroke="#00ff00"/>
<path d="M873.5 299.3L873.5 307.3" stroke="#00ff00"/>
<rect x="856.5" y="324.5" width="21" height="9" stroke="#00ff00" fill="none"/>
<path d="M860.5 324L860.5 333.5" stroke="#00ff00"/>
<path d="M864.5 324L864.5 333.5" stroke="#00ff00"/>
<path d="M869.5 324L869.5 333.5" stroke="#00ff00"/>
<path d="M873.5 324L873.5 333.5" stroke="#00ff00"/>
<path d="M856.3 311.5L864.9 311.5" stroke="#0000ff"/>
<path d="M868.4 311.5L877.7 311.5" stroke="#0000ff"/>
<path d="M856.3 315.5L864.9 315.5" stroke="#0000ff"/>
<path d="M868.4 315.5L877.7 315.5" stroke="#0000ff"/>
<path d="M856.3 319.5L864.9 319.5" stroke="#0000ff"/>
<path d="M868.4 319.5L877.7 319.5" stroke="#0000ff"/>
<path d="M856.5 307.3L856.5 324" stroke="#0000ff"/>
<path d="M864.5 307.3L864.5 324" stroke="#0000ff"/>
<path d="M868.5 307.3L868.5 324" stroke="#0000ff"/>
<path d="M877.5 307.3L877.5 324" stroke="#0000ff"/>
<rect x="865.8" y="316" width="1.8" height="3" fill="#ffffff" stroke="none" opacity="0.78"/>
<rect x="887" y="330" width="4" height="2" fill="url(#tx)" stroke="none"/>
<rect x="770.5" y="348.5" width="22" height="8" stroke="#ffffff" fill="none"/>
<rect x="779" y="352" width="4" height="2" fill="url(#tx)" stroke="none"/>
<rect x="856.5" y="348.5" width="21" height="8" stroke="#ffffff" fill="none"/>
<rect x="865" y="352" width="4" height="2" fill="url(#tx)" stroke="none"/>
<rect x="770.5" y="371.5" width="22" height="8" stroke="#ffffff" fill="none"/>
<rect x="779" y="375" width="4" height="2" fill="url(#tx)" stroke="none"/>
<rect x="813.5" y="371.5" width="21" height="8" stroke="#ffffff" fill="none"/>
<rect x="822" y="375" width="4" height="2" fill="url(#tx)" stroke="none"/>
<rect x="856.5" y="371.5" width="21" height="8" stroke="#ffffff" fill="none"/>
<rect x="865" y="375" width="4" height="2" fill="url(#tx)" stroke="none"/>
<path d="M815 356L819.5 349.5Q824.3 345 829 349.5L833 356H830L826.5 351Q824.3 349 822 351L818.5 356Z" stroke="#ff00ff" fill="none" shape-rendering="geometricPrecision"/>
<rect x="823.1" y="344.2" width="3" height="2.5" fill="#0000ff" stroke="none" opacity="0.78"/>
<rect x="823.8" y="344.8" width="1.6" height="1.4" fill="#ffffff" stroke="none" opacity="0.78"/>
<rect x="813.8" y="349.5" width="2.5" height="3" fill="#0000ff" stroke="none" opacity="0.78"/>
<rect x="832.2" y="351" width="2.5" height="3" fill="#0000ff" stroke="none" opacity="0.78"/>
<rect x="823" y="349.8" width="2" height="1.5" fill="#ff0000" stroke="none" opacity="0.78"/>
<rect x="830" y="354.2" width="2" height="1.5" fill="#ff0000" stroke="none" opacity="0.78"/>
<rect x="768" y="292" width="2" height="4" fill="url(#tx)" stroke="none"/>
<rect x="768" y="338" width="2" height="4" fill="url(#tx)" stroke="none"/>
<rect x="768" y="350" width="2" height="4" fill="url(#tx)" stroke="none"/>
<rect x="768" y="364" width="2" height="4" fill="url(#tx)" stroke="none"/>
<rect x="898.5" y="299.5" width="61" height="66" stroke="#ffffff" fill="none"/>
<rect x="900.5" y="300.5" width="14" height="8" stroke="#0000ff" fill="none"/>
<rect x="900.5" y="308.5" width="8" height="14" stroke="#0000ff" fill="none"/>
<rect x="900.5" y="322.5" width="8" height="15" stroke="#0000ff" fill="none"/>
<rect x="917.5" y="300.5" width="16" height="14" stroke="#0000ff" fill="none"/>
<path d="M925.5 300.1L925.5 314.6" stroke="#0000ff"/>
<rect x="936.5" y="300.5" width="11" height="8" stroke="#0000ff" fill="none"/>
<rect x="949.5" y="305.5" width="8" height="14" stroke="#0000ff" fill="none"/>
<rect x="949.5" y="319.5" width="8" height="15" stroke="#0000ff" fill="none"/>
<rect x="923.5" y="331.5" width="13" height="6" stroke="#0000ff" fill="none"/>
<path d="M948.6 338.5H957.7V353" stroke="#0000ff" fill="none"/>
<path d="M948.5 338.5L948.5 357" stroke="#0000ff"/>
<path d="M900.5 340.4L900.5 351.5L908.7 356.9L922.5 361.4L935.3 361.4L949.1 356.9L957.7 353" stroke="#0000ff" fill="none" shape-rendering="geometricPrecision"/>
<path d="M900.5 340.4L909.7 348.1L922.5 352.5L935.3 352.5L948.1 348.6" stroke="#0000ff" fill="none" shape-rendering="geometricPrecision"/>
<path d="M909.5 348L909.5 357" stroke="#0000ff"/>
<path d="M922.5 352.5L922.5 361.4" stroke="#0000ff"/>
<path d="M935.5 352.5L935.5 361.4" stroke="#0000ff"/>
<circle cx="911.5" cy="311.2" r="3.2" stroke="#ffffff" fill="#ffffff" stroke-width="0" shape-rendering="geometricPrecision"/>
<circle cx="946.8" cy="311.2" r="3.2" stroke="#ffffff" fill="#ffffff" stroke-width="0" shape-rendering="geometricPrecision"/>
<rect x="909.5" y="323.5" width="4" height="6" stroke="#ff00ff" fill="none"/>
<rect x="910" y="325.5" width="2.5" height="3.5" fill="#ffffff" stroke="none"/>
<rect x="944.5" y="323.5" width="5" height="6" stroke="#ff00ff" fill="none"/>
<rect x="944.5" y="325.5" width="2.5" height="3.5" fill="#ffffff" stroke="none"/>
<rect x="919" y="327.2" width="4" height="1.8" fill="#ff0000" stroke="none"/>
<rect x="937" y="327.2" width="4.2" height="1.8" fill="#ff0000" stroke="none"/>
<rect x="948.5" y="359.5" width="3" height="4" stroke="#00ff00" fill="none" stroke-width="1.4"/>
<rect x="902" y="303" width="5" height="2" fill="url(#tx)" stroke="none"/>
<rect x="919" y="308" width="4" height="4" fill="url(#tx)" stroke="none"/>
<rect x="928" y="308" width="4" height="4" fill="url(#tx)" stroke="none"/>
<rect x="940" y="304" width="4" height="2" fill="url(#tx)" stroke="none"/>
<rect x="902" y="317" width="3" height="3" fill="url(#tx)" stroke="none"/>
<rect x="902" y="331" width="2" height="4" fill="url(#tx)" stroke="none"/>
<rect x="926" y="333" width="5" height="3" fill="url(#tx)" stroke="none"/>
<rect x="953" y="312" width="2" height="6" fill="url(#tx)" stroke="none"/>
<rect x="950.2" y="315.4" width="2.5" height="1.2" fill="#ffffff" stroke="none" opacity="0.78"/>
<rect x="953" y="327" width="2" height="6" fill="url(#tx)" stroke="none"/>
<rect x="950.2" y="329.9" width="2.5" height="1.2" fill="#ffffff" stroke="none" opacity="0.78"/>
<rect x="906" y="348" width="2" height="4" fill="url(#tx)" stroke="none"/>
<rect x="917" y="354" width="4" height="3" fill="url(#tx)" stroke="none"/>
<rect x="930" y="356" width="4" height="2" fill="url(#tx)" stroke="none"/>
<rect x="945" y="354" width="3" height="3" fill="url(#tx)" stroke="none"/>
<rect x="951" y="347" width="2" height="5" fill="url(#tx)" stroke="none"/>
<rect x="902" y="330" width="3" height="2" fill="url(#tx)" stroke="none"/>
<rect x="967" y="330" width="4" height="2" fill="url(#tx)" stroke="none"/>
<rect x="1005" y="330" width="4" height="2" fill="url(#tx)" stroke="none"/>
<rect x="1020" y="328" width="3" height="8" fill="url(#tx)" stroke="none"/>
<rect x="979.5" y="301.5" width="18" height="58" stroke="#00ffff" fill="none"/>
<rect x="984.5" y="309.5" width="6" height="43" stroke="#00ffff" fill="none"/>
<rect x="985" y="329" width="4.5" height="9" fill="#ffffff" stroke="none"/>
<rect x="954.2" y="227.4" width="12.9" height="5.5" fill="#0000ff" stroke="none"/>
<rect x="955.5" y="228.8" width="2" height="2.8" fill="#000" stroke="none"/>
<rect x="964" y="228.8" width="2" height="2.8" fill="#000" stroke="none"/>
<rect x="961.5" y="229.8" width="1.2" height="1" fill="#ff0000" stroke="none"/>
<rect x="967.1" y="227.4" width="6.8" height="5.5" fill="#ffffff" stroke="none"/>
<path d="M968.5 228.3L970.3 230" stroke="#ff0000" fill="none" shape-rendering="geometricPrecision"/>
<rect x="975.5" y="227.5" width="7" height="5" stroke="#0000ff" fill="none"/>
<rect x="977" y="229" width="3.5" height="2.5" fill="#ffffff" stroke="none"/>
<rect x="980.8" y="230.8" width="1.2" height="1" fill="#ff0000" stroke="none"/>
<rect x="984.5" y="227.5" width="7" height="5" stroke="#0000ff" fill="none"/>
<rect x="985.5" y="229" width="2.5" height="2.5" fill="#ffffff" stroke="none"/>
<path d="M988.5 232L990.5 229.5" stroke="#ff0000" fill="none" shape-rendering="geometricPrecision"/>
<rect x="995.5" y="227.5" width="6" height="12" stroke="#0000ff" fill="none"/>
<rect x="997.5" y="231.5" width="3" height="7" stroke="#0000ff" fill="none"/>
<rect x="997.2" y="233.5" width="1.8" height="2" fill="#ff0000" stroke="none"/>
<rect x="996.8" y="228.2" width="3" height="1.6" fill="#ffffff" stroke="none" opacity="0.78"/>
<rect x="926.5" y="240.5" width="21" height="13" stroke="#0000ff" fill="none"/>
<rect x="928.5" y="244.5" width="17" height="6" stroke="#0000ff" fill="none"/>
<rect x="933" y="244.5" width="4" height="5.8" fill="#ff0000" stroke="none"/>
<rect x="941" y="244.5" width="4" height="5.8" fill="#ff0000" stroke="none"/>
<rect x="930" y="245" width="2" height="4" fill="url(#tx)" stroke="none"/>
<rect x="938" y="245" width="2" height="4" fill="url(#tx)" stroke="none"/>
<rect x="934" y="241" width="4" height="2" fill="url(#tx)" stroke="none"/>
<rect x="952.5" y="247.5" width="13" height="6" stroke="#0000ff" fill="none"/>
<rect x="955" y="250" width="4" height="2" fill="url(#tx)" stroke="none"/>
<rect x="972.5" y="240.5" width="13" height="13" stroke="#0000ff" fill="none"/>
<path d="M979.5 240.3L979.5 253.8" stroke="#0000ff"/>
<rect x="974" y="248" width="3" height="3" fill="url(#tx)" stroke="none"/>
<rect x="981" y="248" width="3" height="3" fill="url(#tx)" stroke="none"/>
<path d="M964.4 265.8L967.1 263.2L969.8 265.8L968.6 267.6H965.6Z" stroke="#0000ff" fill="none" shape-rendering="geometricPrecision"/>
<path d="M980.3 265.8L983 263.2L985.7 265.8L984.5 267.6H981.5Z" stroke="#0000ff" fill="none" shape-rendering="geometricPrecision"/>
<path d="M1002.8 227V247.5L1006.5 249Q1009.5 251 1009.8 255" stroke="#ffffff" fill="none" shape-rendering="geometricPrecision"/>
<path d="M1002 255.5L1025 255.5" stroke="#ffffff"/>
<rect x="1002" y="254" width="7.5" height="2.3" fill="#ffffff" stroke="none"/>
<path d="M1015.5 255.8L1015.5 270" stroke="#ffffff"/>
<rect x="1012" y="261" width="2" height="5" fill="url(#tx)" stroke="none"/>
<rect x="1010" y="237" width="6" height="4" fill="url(#tx)" stroke="none"/>
<rect x="1011" y="244" width="6" height="2" fill="url(#tx)" stroke="none"/>
<rect x="933.5" y="269.5" width="35" height="8" stroke="#ff00ff" fill="none"/>
<path d="M950.5 269.5L950.5 277.4" stroke="#ff00ff"/>
<path d="M982.5 269.5L1025 269.5" stroke="#ff00ff" fill="none"/>
<path d="M982.5 277.4L1025 277.4" stroke="#ff00ff" fill="none"/>
<path d="M999.5 269.5L999.5 277.4" stroke="#ff00ff"/>
<path d="M982.5 269.5L982.5 277.4" stroke="#ff00ff"/>
<path d="M968 269.5Q968 281.6 975.3 281.6Q982.5 281.6 982.5 269.5" stroke="#00ffff" fill="none" shape-rendering="geometricPrecision"/>
<path d="M968.3 271.2Q975.3 279.5 982.3 271.2" stroke="#00ffff" fill="none" shape-rendering="geometricPrecision"/>
<rect x="938" y="272" width="4" height="4" fill="url(#tx)" stroke="none"/>
<rect x="955" y="272" width="4" height="4" fill="url(#tx)" stroke="none"/>
<rect x="988" y="272" width="4" height="4" fill="url(#tx)" stroke="none"/>
<rect x="1007" y="272" width="4" height="4" fill="url(#tx)" stroke="none"/>
<rect x="973" y="274" width="4" height="4" fill="url(#tx)" stroke="none"/>
<path d="M1024.8 286.2L1017.6 286.2L1017.6 369.3L1024.8 369.3" stroke="#0000ff" fill="none"/>
<path d="M1040.5 225.5H1035.5Q1032.5 226.5 1034 230Q1036 232.5 1040.5 232.5" stroke="#00ff00" fill="none" shape-rendering="geometricPrecision"/>
<path d="M1040.5 257.5H1035.5Q1032.5 258.5 1034 262Q1036 264.5 1040.5 264.5" stroke="#00ff00" fill="none" shape-rendering="geometricPrecision"/>
<path d="M1040.5 329.5H1035.5Q1032.5 330.5 1034 334Q1036 336.5 1040.5 336.5" stroke="#00ff00" fill="none" shape-rendering="geometricPrecision"/>
<path d="M1040.5 279.5L1036.5 281L1038.5 283L1036.5 285L1040.5 286.5" stroke="#00ff00" fill="none" shape-rendering="geometricPrecision"/>
<path d="M1040.5 304.5L1036.5 306L1038.5 308L1036.5 310L1040.5 311.5" stroke="#00ff00" fill="none" shape-rendering="geometricPrecision"/>
<path d="M1099.5 285.5L1103.5 287L1101.5 290L1103.5 293L1099.5 294.5" stroke="#00ff00" fill="none" shape-rendering="geometricPrecision"/>
<path d="M1099.5 312L1103.5 313.5L1101.5 316.5L1103.5 319.5L1099.5 321" stroke="#00ff00" fill="none" shape-rendering="geometricPrecision"/>
<rect x="1063" y="236" width="8" height="5" fill="url(#tx)" stroke="none"/>
<rect x="1062" y="266" width="11" height="5" fill="url(#tx)" stroke="none"/>
<rect x="1063" y="288" width="8" height="5" fill="url(#tx)" stroke="none"/>
<rect x="1063" y="313" width="8" height="5" fill="url(#tx)" stroke="none"/>
<rect x="1064" y="343" width="8" height="5" fill="url(#tx)" stroke="none"/>
<rect x="1064" y="130" width="9" height="4" fill="url(#tx)" stroke="none"/>
<rect x="1087" y="153" width="6" height="4" fill="url(#tx)" stroke="none"/>
<rect x="1103" y="309" width="5" height="4" fill="url(#tx)" stroke="none"/>
<rect x="1067.8" y="188" width="3.2" height="4" fill="#ffffff" stroke="none"/>
<rect x="1066" y="396" width="4" height="4" fill="url(#tx)" stroke="none"/>
<path d="M1097.2 167L1044.4 170.4L1039.6 215" stroke="#808080" fill="none" shape-rendering="geometricPrecision"/>
<path d="M1097.7 362.3L1042.7 366.3L1040.9 416.3" stroke="#808080" fill="none" shape-rendering="geometricPrecision"/>
<path d="M1040.5 136Q1047 137 1047 143.5L1045 144.5" stroke="#00ff00" fill="none" shape-rendering="geometricPrecision"/>
<path d="M1082.5 158.5Q1088 159 1088 163.5L1086 164.5" stroke="#00ff00" fill="none" shape-rendering="geometricPrecision"/>
<path d="M998 191.5H994L995.5 195.5L994 199.5H998" stroke="#00ff00" fill="none" shape-rendering="geometricPrecision"/>
<path d="M1015.5 150V146L1018 149L1020.5 146L1023 149L1025 146V150" stroke="#00ff00" fill="none" stroke-width="1.3" shape-rendering="geometricPrecision"/>
<path d="M960 150V153.5L963 151L966 153.5L969.5 151V150" stroke="#00ff00" fill="none" stroke-width="1.3" shape-rendering="geometricPrecision"/>
<circle cx="1086.4" cy="147.8" r="1.8" stroke="#ff00ff" fill="none" stroke-width="1.3" shape-rendering="geometricPrecision"/>
<rect x="1100" y="221.5" width="2" height="1.5" fill="#00ffff" stroke="none"/>
<rect x="1100" y="223" width="1.5" height="2" fill="#ff00ff" stroke="none"/>
<rect x="1100" y="357.5" width="2" height="1.5" fill="#ff00ff" stroke="none"/>
<rect x="1100" y="359" width="2" height="1.5" fill="#00ffff" stroke="none"/>
<rect x="1014" y="152" width="5" height="3" fill="url(#tx)" stroke="none"/>
<rect x="961" y="144" width="7" height="3" fill="url(#tx)" stroke="none"/>
<rect x="962" y="135" width="5" height="3" fill="url(#tx)" stroke="none"/>
<rect x="1002" y="190" width="3" height="9" fill="url(#tx)" stroke="none"/>
<rect x="991" y="193" width="2" height="4" fill="url(#tx)" stroke="none"/>
<rect x="1011.2" y="127.2" width="1.5" height="3.5" fill="#ffffff" stroke="none" opacity="0.78"/>
<rect x="1011.2" y="142" width="1.5" height="3" fill="#ffffff" stroke="none" opacity="0.78"/>
<rect x="1078" y="160" width="3" height="4" fill="url(#tx)" stroke="none"/>
<rect x="1035.9" y="148" width="1.2" height="3" fill="#ffffff" stroke="none" opacity="0.78"/>
<rect x="1035.9" y="161" width="1.2" height="3" fill="#ffffff" stroke="none" opacity="0.78"/>
<rect x="913" y="192.5" width="4" height="4.5" fill="#ffffff" stroke="none"/>
<rect x="767" y="193" width="4" height="4" fill="url(#tx)" stroke="none"/>
<rect x="661" y="192" width="2" height="7" fill="url(#tx)" stroke="none"/>
<rect x="699" y="117" width="7" height="2" fill="url(#tx)" stroke="none"/>
<rect x="800" y="117" width="5" height="2" fill="url(#tx)" stroke="none"/>
<rect x="815" y="117" width="5" height="2" fill="url(#tx)" stroke="none"/>
<rect x="929" y="117" width="5" height="2" fill="url(#tx)" stroke="none"/>
<rect x="966" y="117" width="5" height="2" fill="url(#tx)" stroke="none"/>
<rect x="979" y="117" width="5" height="2" fill="url(#tx)" stroke="none"/>
<rect x="1031" y="117" width="5" height="2" fill="url(#tx)" stroke="none"/>
<rect x="1044" y="117" width="5" height="2" fill="url(#tx)" stroke="none"/>
<rect x="771" y="221" width="6" height="2" fill="url(#tx)" stroke="none"/>
<rect x="865" y="103" width="7" height="3" fill="url(#tx)" stroke="none"/>
<path d="M864.5 107L864.5 138.5" stroke="#ffffff"/>
<path d="M863 107.5L873 107.5" stroke="#ffffff"/>
<defs><pattern id="hat" width="2.4" height="2.4" patternUnits="userSpaceOnUse" patternTransform="rotate(45)"><rect width="2.4" height="2.4" fill="#8c8c8c"/><rect width="2.4" height="1.1" fill="#d8d8d8"/></pattern></defs>
<circle cx="1013.5" cy="184.5" r="6.4" stroke="#bbb" fill="url(#hat)" stroke-width="0.6" shape-rendering="geometricPrecision"/>
<rect x="1015" y="183.2" width="2.5" height="2.3" fill="#ffffff" stroke="none"/>
<circle cx="1013.5" cy="206.2" r="6.4" stroke="#bbb" fill="url(#hat)" stroke-width="0.6" shape-rendering="geometricPrecision"/>
<rect x="1015" y="204.9" width="2.5" height="2.3" fill="#ffffff" stroke="none"/>
</g>
<g id="bottom">
<path d="M316 535.5H324.5V538.5H316ZM316 538.5V553M320.5 538.5V551H324.5V568H320.5V553M316 542.5H320.5M316 547H320.5M320.5 557.5H324.5M320.5 562.5H324.5" stroke="#fff"/>
<rect x="320" y="538.5" width="5" height="3" fill="#ff00ff" stroke="none"/>
<path d="M320.5 541.5L325 541.5" stroke="#ff0000"/>
<rect x="315.5" y="553" width="5.5" height="4" fill="#ff00ff" stroke="none"/>
<rect x="315.5" y="552.5" width="5" height="4" stroke="#ff0000" fill="none"/>
<path d="M335 535.5H343.5V538.5H335ZM335 538.5V553M339.5 538.5V551H343.5V568H339.5V553M335 542.5H339.5M335 547H339.5M339.5 557.5H343.5M339.5 562.5H343.5" stroke="#fff"/>
<rect x="339" y="538.5" width="5" height="3" fill="#ff00ff" stroke="none"/>
<path d="M339.5 541.5L344 541.5" stroke="#ff0000"/>
<rect x="334.5" y="553" width="5.5" height="4" fill="#ff00ff" stroke="none"/>
<rect x="334.5" y="552.5" width="5" height="4" stroke="#ff0000" fill="none"/>
<path d="M354.5 535.5H363V538.5H354.5ZM354.5 538.5V553M359 538.5V551H363V568H359V553M354.5 542.5H359M354.5 547H359M359 557.5H363M359 562.5H363" stroke="#fff"/>
<rect x="358.5" y="538.5" width="5" height="3" fill="#ff00ff" stroke="none"/>
<path d="M359 541.5L363.5 541.5" stroke="#ff0000"/>
<rect x="354" y="553" width="5.5" height="4" fill="#ff00ff" stroke="none"/>
<rect x="354.5" y="552.5" width="5" height="4" stroke="#ff0000" fill="none"/>
<path d="M373.5 535.5H382V538.5H373.5ZM373.5 538.5V554H378V538.5M373.5 543H378M373.5 548H378" stroke="#fff"/>
<rect x="377.5" y="538.5" width="5" height="3" fill="#ff00ff" stroke="none"/>
<path d="M378 541.5L382.5 541.5" stroke="#ff0000"/>
<path d="M328.5 539.2L328.5 560" stroke="#ff7f00"/>
<path d="M349.5 539.2L349.5 560" stroke="#ff7f00"/>
<path d="M368.5 539.2L368.5 560" stroke="#ff7f00"/>
<path d="M381.5 539.2L381.5 560" stroke="#ff7f00"/>
<path d="M387.5 535.5H396V538.5H387.5ZM387.5 538.5V553M392 538.5V551H396V568H392V553M387.5 542.5H392M387.5 547H392M392 557.5H396M392 562.5H396" stroke="#fff"/>
<rect x="391.5" y="538.5" width="5" height="3" fill="#ff00ff" stroke="none"/>
<path d="M392 541.5L396.5 541.5" stroke="#ff0000"/>
<rect x="387" y="553" width="5.5" height="4" fill="#ff00ff" stroke="none"/>
<rect x="387.5" y="552.5" width="5" height="4" stroke="#ff0000" fill="none"/>
<path d="M406.5 535.5H415V538.5H406.5ZM406.5 538.5V553M411 538.5V551H415V568H411V553M406.5 542.5H411M406.5 547H411M411 557.5H415M411 562.5H415" stroke="#fff"/>
<rect x="410.5" y="538.5" width="5" height="3" fill="#ff00ff" stroke="none"/>
<path d="M411 541.5L415.5 541.5" stroke="#ff0000"/>
<rect x="406" y="553" width="5.5" height="4" fill="#ff00ff" stroke="none"/>
<rect x="406.5" y="552.5" width="5" height="4" stroke="#ff0000" fill="none"/>
<path d="M426 535.5H434.5V538.5H426ZM426 538.5V553M430.5 538.5V551H434.5V568H430.5V553M426 542.5H430.5M426 547H430.5M430.5 557.5H434.5M430.5 562.5H434.5" stroke="#fff"/>
<rect x="430" y="538.5" width="5" height="3" fill="#ff00ff" stroke="none"/>
<path d="M430.5 541.5L435 541.5" stroke="#ff0000"/>
<rect x="425.5" y="553" width="5.5" height="4" fill="#ff00ff" stroke="none"/>
<rect x="425.5" y="552.5" width="5" height="4" stroke="#ff0000" fill="none"/>
<path d="M445.5 535.5H454V538.5H445.5ZM445.5 538.5V554H450V538.5M445.5 543H450M445.5 548H450" stroke="#fff"/>
<rect x="449.5" y="538.5" width="5" height="3" fill="#ff00ff" stroke="none"/>
<path d="M450 541.5L454.5 541.5" stroke="#ff0000"/>
<path d="M400.5 539.2L400.5 560" stroke="#ff7f00"/>
<path d="M420.5 539.2L420.5 560" stroke="#ff7f00"/>
<path d="M439.5 539.2L439.5 560" stroke="#ff7f00"/>
<path d="M453.5 539.2L453.5 560" stroke="#ff7f00"/>
<path d="M459 535.5H467.5V538.5H459ZM459 538.5V553M463.5 538.5V551H467.5V568H463.5V553M459 542.5H463.5M459 547H463.5M463.5 557.5H467.5M463.5 562.5H467.5" stroke="#fff"/>
<rect x="463" y="538.5" width="5" height="3" fill="#ff00ff" stroke="none"/>
<path d="M463.5 541.5L468 541.5" stroke="#ff0000"/>
<rect x="458.5" y="553" width="5.5" height="4" fill="#ff00ff" stroke="none"/>
<rect x="458.5" y="552.5" width="5" height="4" stroke="#ff0000" fill="none"/>
<path d="M478 535.5H486.5V538.5H478ZM478 538.5V553M482.5 538.5V551H486.5V568H482.5V553M478 542.5H482.5M478 547H482.5M482.5 557.5H486.5M482.5 562.5H486.5" stroke="#fff"/>
<rect x="482" y="538.5" width="5" height="3" fill="#ff00ff" stroke="none"/>
<path d="M482.5 541.5L487 541.5" stroke="#ff0000"/>
<rect x="477.5" y="553" width="5.5" height="4" fill="#ff00ff" stroke="none"/>
<rect x="477.5" y="552.5" width="5" height="4" stroke="#ff0000" fill="none"/>
<path d="M497.5 535.5H506V538.5H497.5ZM497.5 538.5V553M502 538.5V551H506V568H502V553M497.5 542.5H502M497.5 547H502M502 557.5H506M502 562.5H506" stroke="#fff"/>
<rect x="501.5" y="538.5" width="5" height="3" fill="#ff00ff" stroke="none"/>
<path d="M502 541.5L506.5 541.5" stroke="#ff0000"/>
<rect x="497" y="553" width="5.5" height="4" fill="#ff00ff" stroke="none"/>
<rect x="497.5" y="552.5" width="5" height="4" stroke="#ff0000" fill="none"/>
<path d="M517 535.5H525.5V538.5H517ZM517 538.5V554H521.5V538.5M517 543H521.5M517 548H521.5" stroke="#fff"/>
<rect x="521" y="538.5" width="5" height="3" fill="#ff00ff" stroke="none"/>
<path d="M521.5 541.5L526 541.5" stroke="#ff0000"/>
<path d="M472.5 539.2L472.5 560" stroke="#ff7f00"/>
<path d="M492.5 539.2L492.5 560" stroke="#ff7f00"/>
<path d="M511.5 539.2L511.5 560" stroke="#ff7f00"/>
<path d="M525.5 539.2L525.5 560" stroke="#ff7f00"/>
<path d="M531 535.5H539.5V538.5H531ZM531 538.5V553M535.5 538.5V551H539.5V568H535.5V553M531 542.5H535.5M531 547H535.5M535.5 557.5H539.5M535.5 562.5H539.5" stroke="#fff"/>
<rect x="535" y="538.5" width="5" height="3" fill="#ff00ff" stroke="none"/>
<path d="M535.5 541.5L540 541.5" stroke="#ff0000"/>
<rect x="530.5" y="553" width="5.5" height="4" fill="#ff00ff" stroke="none"/>
<rect x="530.5" y="552.5" width="5" height="4" stroke="#ff0000" fill="none"/>
<path d="M550 535.5H558.5V538.5H550ZM550 538.5V553M554.5 538.5V551H558.5V568H554.5V553M550 542.5H554.5M550 547H554.5M554.5 557.5H558.5M554.5 562.5H558.5" stroke="#fff"/>
<rect x="554" y="538.5" width="5" height="3" fill="#ff00ff" stroke="none"/>
<path d="M554.5 541.5L559 541.5" stroke="#ff0000"/>
<rect x="549.5" y="553" width="5.5" height="4" fill="#ff00ff" stroke="none"/>
<rect x="549.5" y="552.5" width="5" height="4" stroke="#ff0000" fill="none"/>
<path d="M569 535.5H577.5V538.5H569ZM569 538.5V553M573.5 538.5V551H577.5V568H573.5V553M569 542.5H573.5M569 547H573.5M573.5 557.5H577.5M573.5 562.5H577.5" stroke="#fff"/>
<rect x="573" y="538.5" width="5" height="3" fill="#ff00ff" stroke="none"/>
<path d="M573.5 541.5L578 541.5" stroke="#ff0000"/>
<rect x="568.5" y="553" width="5.5" height="4" fill="#ff00ff" stroke="none"/>
<rect x="568.5" y="552.5" width="5" height="4" stroke="#ff0000" fill="none"/>
<path d="M588.5 535.5H597V538.5H588.5ZM588.5 538.5V554H593V538.5M588.5 543H593M588.5 548H593" stroke="#fff"/>
<rect x="592.5" y="538.5" width="5" height="3" fill="#ff00ff" stroke="none"/>
<path d="M593 541.5L597.5 541.5" stroke="#ff0000"/>
<path d="M543.5 539.2L543.5 560" stroke="#ff7f00"/>
<path d="M563.5 539.2L563.5 560" stroke="#ff7f00"/>
<path d="M582.5 539.2L582.5 560" stroke="#ff7f00"/>
<path d="M596.5 539.2L596.5 560" stroke="#ff7f00"/>
<path d="M602.5 535.5H611V538.5H602.5ZM602.5 538.5V553M607 538.5V551H611V568H607V553M602.5 542.5H607M602.5 547H607M607 557.5H611M607 562.5H611" stroke="#fff"/>
<rect x="606.5" y="538.5" width="5" height="3" fill="#ff00ff" stroke="none"/>
<path d="M607 541.5L611.5 541.5" stroke="#ff0000"/>
<rect x="602" y="553" width="5.5" height="4" fill="#ff00ff" stroke="none"/>
<rect x="602.5" y="552.5" width="5" height="4" stroke="#ff0000" fill="none"/>
<path d="M621.5 535.5H630V538.5H621.5ZM621.5 538.5V553M626 538.5V551H630V568H626V553M621.5 542.5H626M621.5 547H626M626 557.5H630M626 562.5H630" stroke="#fff"/>
<rect x="625.5" y="538.5" width="5" height="3" fill="#ff00ff" stroke="none"/>
<path d="M626 541.5L630.5 541.5" stroke="#ff0000"/>
<rect x="621" y="553" width="5.5" height="4" fill="#ff00ff" stroke="none"/>
<rect x="621.5" y="552.5" width="5" height="4" stroke="#ff0000" fill="none"/>
<path d="M641 535.5H649.5V538.5H641ZM641 538.5V553M645.5 538.5V551H649.5V568H645.5V553M641 542.5H645.5M641 547H645.5M645.5 557.5H649.5M645.5 562.5H649.5" stroke="#fff"/>
<rect x="645" y="538.5" width="5" height="3" fill="#ff00ff" stroke="none"/>
<path d="M645.5 541.5L650 541.5" stroke="#ff0000"/>
<rect x="640.5" y="553" width="5.5" height="4" fill="#ff00ff" stroke="none"/>
<rect x="640.5" y="552.5" width="5" height="4" stroke="#ff0000" fill="none"/>
<path d="M660 535.5H668.5V538.5H660ZM660 538.5V554H664.5V538.5M660 543H664.5M660 548H664.5" stroke="#fff"/>
<rect x="664" y="538.5" width="5" height="3" fill="#ff00ff" stroke="none"/>
<path d="M664.5 541.5L669 541.5" stroke="#ff0000"/>
<path d="M615.5 539.2L615.5 560" stroke="#ff7f00"/>
<path d="M635.5 539.2L635.5 560" stroke="#ff7f00"/>
<path d="M654.5 539.2L654.5 560" stroke="#ff7f00"/>
<path d="M668.5 539.2L668.5 560" stroke="#ff7f00"/>
<path d="M674 535.5H682.5V538.5H674ZM674 538.5V553M678.5 538.5V551H682.5V568H678.5V553M674 542.5H678.5M674 547H678.5M678.5 557.5H682.5M678.5 562.5H682.5" stroke="#fff"/>
<rect x="678" y="538.5" width="5" height="3" fill="#ff00ff" stroke="none"/>
<path d="M678.5 541.5L683 541.5" stroke="#ff0000"/>
<rect x="673.5" y="553" width="5.5" height="4" fill="#ff00ff" stroke="none"/>
<rect x="673.5" y="552.5" width="5" height="4" stroke="#ff0000" fill="none"/>
<path d="M693 535.5H701.5V538.5H693ZM693 538.5V553M697.5 538.5V551H701.5V568H697.5V553M693 542.5H697.5M693 547H697.5M697.5 557.5H701.5M697.5 562.5H701.5" stroke="#fff"/>
<rect x="697" y="538.5" width="5" height="3" fill="#ff00ff" stroke="none"/>
<path d="M697.5 541.5L702 541.5" stroke="#ff0000"/>
<rect x="692.5" y="553" width="5.5" height="4" fill="#ff00ff" stroke="none"/>
<rect x="692.5" y="552.5" width="5" height="4" stroke="#ff0000" fill="none"/>
<path d="M687.5 539.2L687.5 560" stroke="#ff7f00"/>
<path d="M707.5 539.2L707.5 560" stroke="#ff7f00"/>
<rect x="318" y="554" width="1.2" height="1.2" fill="#0000ff" stroke="none"/>
<rect x="337.5" y="554" width="1.2" height="1.2" fill="#0000ff" stroke="none"/>
<rect x="429" y="554" width="1.2" height="1.2" fill="#0000ff" stroke="none"/>
<rect x="622.5" y="554" width="1.2" height="1.2" fill="#0000ff" stroke="none"/>
<rect x="603" y="554" width="1.2" height="1.2" fill="#0000ff" stroke="none"/>
<rect x="706" y="529" width="9" height="4" fill="url(#tx)" stroke="none"/>
<path d="M711 545Q711 543.5 713 543.5Q714.5 544 714.5 547Q714.5 550.5 712.8 550.5Q711 550 711 545Z" stroke="#ff0000" fill="#ff0000" stroke-width="0.6" shape-rendering="geometricPrecision"/>
<rect x="353.5" y="585" width="12.5" height="9.5" fill="#000" stroke="none"/>
<path d="M354.5 585L354.5 594.5" stroke="#ffffff"/>
<path d="M359.5 585L359.5 594.5" stroke="#ffffff"/>
<path d="M365.5 585L365.5 594.5" stroke="#ffffff"/>
<rect x="355" y="581" width="7" height="3" fill="url(#tx)" stroke="none"/>
<rect x="609.5" y="585" width="12.5" height="9.5" fill="#000" stroke="none"/>
<path d="M610.5 585L610.5 594.5" stroke="#ffffff"/>
<path d="M615.5 585L615.5 594.5" stroke="#ffffff"/>
<path d="M621.5 585L621.5 594.5" stroke="#ffffff"/>
<rect x="611" y="581" width="7" height="3" fill="url(#tx)" stroke="none"/>
<path d="M377.5 590.5L377.5 623.2" stroke="#ff0000"/>
<path d="M451.5 590.5L451.5 623.2" stroke="#ff0000"/>
<path d="M523.5 590.5L523.5 623.2" stroke="#ff0000"/>
<path d="M597.5 590.5L597.5 623.2" stroke="#ff0000"/>
<path d="M377.3 623.5L597.9 623.5" stroke="#ff0000"/>
<path d="M377.3 652.5L597.9 652.5" stroke="#ff0000"/>
<path d="M451.5 652.1L451.5 673" stroke="#ff0000"/>
<path d="M523.5 652.1L523.5 673" stroke="#ff0000"/>
<path d="M377.5 652.1L377.5 660" stroke="#ff0000"/>
<path d="M597.5 652.1L597.5 660" stroke="#ff0000"/>
<path d="M377.5 663L377.5 674" stroke="#ffffff" stroke-width="2"/>
<path d="M597.5 663L597.5 674" stroke="#ffffff" stroke-width="2"/>
<path d="M377 673.5L598.5 673.5" stroke="#ffffff" stroke-width="2"/>
<rect x="412" y="605" width="7" height="4" fill="url(#tx)" stroke="none"/>
<rect x="412" y="661" width="7" height="4" fill="url(#tx)" stroke="none"/>
<rect x="484" y="605" width="7" height="4" fill="url(#tx)" stroke="none"/>
<rect x="484" y="661" width="7" height="4" fill="url(#tx)" stroke="none"/>
<rect x="558" y="605" width="7" height="4" fill="url(#tx)" stroke="none"/>
<rect x="558" y="661" width="7" height="4" fill="url(#tx)" stroke="none"/>
<path d="M360 623.5L377.3 623.5" stroke="#ffffff"/>
<path d="M597.9 621.5L634 621.5" stroke="#ffffff"/>
<rect x="613" y="618" width="4" height="2" fill="url(#tx)" stroke="none"/>
<rect x="359.5" y="620.2" width="3" height="1.5" fill="#ffffff" stroke="none" opacity="0.78"/>
<path d="M502.5 560L502.5 589.5" stroke="#ffffff"/>
<path d="M502.5 623.2L502.5 652.1" stroke="#ffffff"/>
<rect x="500" y="577" width="2" height="4" fill="url(#tx)" stroke="none"/>
<rect x="500" y="636" width="2" height="4" fill="url(#tx)" stroke="none"/>
<path d="M377.5 589.5L377.5 623.7" stroke="#ff0000"/>
<path d="M341 623.5L377.6 623.5" stroke="#ffffff"/>
<rect x="357" y="621" width="4" height="2" fill="url(#tx)" stroke="none"/>
<path d="M634.5 618L634.5 698" stroke="#ff0000"/>
<path d="M634 618.5L668.5 618.5" stroke="#ff0000"/>
<path d="M600 621.5L634 621.5" stroke="#ffffff"/>
<path d="M650.5 590.3L650.5 618" stroke="#ffffff"/>
<rect x="647" y="602" width="2" height="4" fill="url(#tx)" stroke="none"/>
<rect x="380.5" y="675.5" width="215" height="30" stroke="#00ff00" fill="none"/>
<path d="M380.5 675.4L380.5 705.3" stroke="#000" stroke-dasharray="1.5 4"/>
<path d="M595.5 675.4L595.5 705.3" stroke="#000" stroke-dasharray="1.5 4"/>
<path d="M380.4 675.5L595.2 675.5" stroke="#000" stroke-dasharray="1 3"/>
<rect x="384" y="676.3" width="208.3" height="27" fill="#ffffff" stroke="none"/>
<rect x="385.2" y="677.8" width="205.8" height="8.8" fill="#000" stroke="none"/>
<rect x="385.2" y="690.8" width="205.8" height="8" fill="#000" stroke="none"/>
<path d="M395.5 678V686.6M395.5 691V698.8M397.5 678V686.6M397.5 691V698.8M399.5 678V686.6M399.5 691V698.8M401.5 678V686.6M401.5 691V698.8M403.5 678V686.6M403.5 691V698.8M405.5 678V686.6M405.5 691V698.8M407.5 678V686.6M407.5 691V698.8M409.5 678V686.6M409.5 691V698.8M411.5 678V686.6M411.5 691V698.8M413.5 678V686.6M413.5 691V698.8M415.5 678V686.6M415.5 691V698.8M417.5 678V686.6M417.5 691V698.8M419.5 678V686.6M419.5 691V698.8M421.5 678V686.6M421.5 691V698.8M423.5 678V686.6M423.5 691V698.8M425.5 678V686.6M425.5 691V698.8M427.5 678V686.6M427.5 691V698.8M429.5 678V686.6M429.5 691V698.8M431.5 678V686.6M431.5 691V698.8M433.5 678V686.6M433.5 691V698.8M435.5 678V686.6M435.5 691V698.8M437.5 678V686.6M437.5 691V698.8M439.5 678V686.6M439.5 691V698.8M441.5 678V686.6M441.5 691V698.8M443.5 678V686.6M443.5 691V698.8M445.5 678V686.6M445.5 691V698.8M447.5 678V686.6M447.5 691V698.8M449.5 678V686.6M449.5 691V698.8M451.5 678V686.6M451.5 691V698.8M453.5 678V686.6M453.5 691V698.8M455.5 678V686.6M455.5 691V698.8M457.5 678V686.6M457.5 691V698.8M459.5 678V686.6M459.5 691V698.8M461.5 678V686.6M461.5 691V698.8M463.5 678V686.6M463.5 691V698.8M465.5 678V686.6M465.5 691V698.8M467.5 678V686.6M467.5 691V698.8M469.5 678V686.6M469.5 691V698.8M471.5 678V686.6M471.5 691V698.8M473.5 678V686.6M473.5 691V698.8M475.5 678V686.6M475.5 691V698.8M477.5 678V686.6M477.5 691V698.8M479.5 678V686.6M479.5 691V698.8M481.5 678V686.6M481.5 691V698.8M483.5 678V686.6M483.5 691V698.8M485.5 678V686.6M485.5 691V698.8M487.5 678V686.6M487.5 691V698.8M489.5 678V686.6M489.5 691V698.8M491.5 678V686.6M491.5 691V698.8M493.5 678V686.6M493.5 691V698.8M495.5 678V686.6M495.5 691V698.8M497.5 678V686.6M497.5 691V698.8M499.5 678V686.6M499.5 691V698.8M501.5 678V686.6M501.5 691V698.8M503.5 678V686.6M503.5 691V698.8M505.5 678V686.6M505.5 691V698.8M507.5 678V686.6M507.5 691V698.8M509.5 678V686.6M509.5 691V698.8M511.5 678V686.6M511.5 691V698.8M513.5 678V686.6M513.5 691V698.8M515.5 678V686.6M515.5 691V698.8M517.5 678V686.6M517.5 691V698.8M519.5 678V686.6M519.5 691V698.8M521.5 678V686.6M521.5 691V698.8M523.5 678V686.6M523.5 691V698.8M525.5 678V686.6M525.5 691V698.8M527.5 678V686.6M527.5 691V698.8M529.5 678V686.6M529.5 691V698.8M531.5 678V686.6M531.5 691V698.8M533.5 678V686.6M533.5 691V698.8M535.5 678V686.6M535.5 691V698.8M537.5 678V686.6M537.5 691V698.8M539.5 678V686.6M539.5 691V698.8M541.5 678V686.6M541.5 691V698.8M543.5 678V686.6M543.5 691V698.8M545.5 678V686.6M545.5 691V698.8M547.5 678V686.6M547.5 691V698.8M549.5 678V686.6M549.5 691V698.8M551.5 678V686.6M551.5 691V698.8M553.5 678V686.6M553.5 691V698.8M555.5 678V686.6M555.5 691V698.8M557.5 678V686.6M557.5 691V698.8M559.5 678V686.6M559.5 691V698.8M561.5 678V686.6M561.5 691V698.8M563.5 678V686.6M563.5 691V698.8M565.5 678V686.6M565.5 691V698.8M567.5 678V686.6M567.5 691V698.8M569.5 678V686.6M569.5 691V698.8M571.5 678V686.6M571.5 691V698.8M573.5 678V686.6M573.5 691V698.8M575.5 678V686.6M575.5 691V698.8M577.5 678V686.6M577.5 691V698.8M579.5 678V686.6M579.5 691V698.8M581.5 678V686.6M581.5 691V698.8M583.5 678V686.6M583.5 691V698.8" stroke="#fff"/>
<rect x="393" y="686.5" width="193" height="4.5" fill="#ffffff" stroke="none"/>
<rect x="385.2" y="686.6" width="7.8" height="4.2" fill="#000" stroke="none"/>
<rect x="586" y="686.6" width="5" height="4.2" fill="#000" stroke="none"/>
<path d="M385 688.5L393 688.5" stroke="#ffffff"/>
<path d="M586 688.5L591 688.5" stroke="#ffffff"/>
<rect x="391" y="678" width="3" height="20.8" fill="#ffffff" stroke="none"/>
<rect x="391.5" y="679" width="1.5" height="7" fill="#000" stroke="none"/>
<rect x="391.5" y="691.5" width="1.5" height="6.5" fill="#000" stroke="none"/>
<path d="M481 676L495.5 703.5" stroke="#000" fill="none" stroke-width="2.6" shape-rendering="geometricPrecision"/>
<rect x="380" y="704.2" width="215.5" height="4.6" fill="#00ff00" stroke="none"/>
<path d="M384 703.5L592 703.5" stroke="#ffffff"/>
<path d="M380.5 708.8L380.5 713" stroke="#ff7f00" stroke-width="2"/>
<path d="M451.5 708.8L451.5 713" stroke="#ff7f00" stroke-width="2"/>
<path d="M523.5 708.8L523.5 713" stroke="#ff7f00" stroke-width="2"/>
<path d="M594.5 708.8L594.5 713" stroke="#ff7f00" stroke-width="2"/>
<rect x="374" y="690" width="3" height="8" fill="url(#tx)" stroke="none"/>
<rect x="598" y="688" width="3" height="9" fill="url(#tx)" stroke="none"/>
<rect x="360" y="709" width="13" height="2" fill="url(#tx)" stroke="none"/>
<rect x="603" y="709" width="13" height="2" fill="url(#tx)" stroke="none"/>
<path d="M377.6 652.5L400 652.5" stroke="#ff0000"/>
<rect x="252" y="566" width="9" height="4" fill="url(#tx)" stroke="none"/>
<rect x="196" y="527" width="10" height="3" fill="url(#tx)" stroke="none"/>
<rect x="268" y="527" width="4" height="2" fill="url(#tx)" stroke="none"/>
<rect x="206" y="577" width="6" height="3" fill="url(#tx)" stroke="none"/>
<path d="M201.2 582.5L230.6 582.5" stroke="#ffffff"/>
<rect x="257" y="597" width="3" height="7" fill="url(#tx)" stroke="none"/>
<rect x="278" y="607" width="6" height="6" fill="url(#tx)" stroke="none"/>
<rect x="302" y="634" width="4" height="7" fill="url(#tx)" stroke="none"/>
<rect x="325" y="633" width="6" height="8" fill="url(#tx)" stroke="none"/>
<rect x="327" y="664" width="4" height="9" fill="url(#tx)" stroke="none"/>
<rect x="229" y="539" width="2" height="6" fill="url(#tx)" stroke="none"/>
<rect x="240" y="535" width="2" height="6" fill="url(#tx)" stroke="none"/>
<rect x="253.4" y="534.5" width="1.2" height="3" fill="#ffffff" stroke="none" opacity="0.78"/>
<rect x="190" y="551" width="4" height="4" fill="url(#tx)" stroke="none"/>
<rect x="199" y="560" width="4" height="4" fill="url(#tx)" stroke="none"/>
<path d="M236.5 535.5L233 537L236 539L233 541L236.5 544" stroke="#00ff00" fill="none" stroke-width="1.3" shape-rendering="geometricPrecision"/>
<path d="M240 548V551.5Q241 553.5 243.5 552.5L245.5 548.5" stroke="#ffffff" fill="none" shape-rendering="geometricPrecision"/>
<path d="M270.5 591.5H277.5Q277.5 597 273 598.5Q271 598.5 270.5 598" stroke="#0000ff" fill="none" shape-rendering="geometricPrecision"/>
<path d="M264.5 591.5Q265 597.5 270.5 598.5" stroke="#ffffff" fill="none" shape-rendering="geometricPrecision"/>
<path d="M290.2 616.8Q284 617.3 283.8 621.9L290.2 622.6" stroke="#0000ff" fill="none" shape-rendering="geometricPrecision"/>
<path d="M290.5 624Q297 625 296 631Q293 635 290.5 634" stroke="#ffffff" fill="none" shape-rendering="geometricPrecision"/>
<path d="M341 623.5Q340 629 335 629.5" stroke="#ffffff" fill="none" shape-rendering="geometricPrecision"/>
<path d="M341 655.5Q340 661 335 661.5" stroke="#ffffff" fill="none" shape-rendering="geometricPrecision"/>
<rect x="681.4" y="598" width="20.6" height="4" fill="#ff00ff" stroke="none"/>
<rect x="681.4" y="603.8" width="20.6" height="4" fill="#ff00ff" stroke="none"/>
<rect x="683.5" y="599.5" width="1" height="1" fill="#ffffff" stroke="none"/>
<rect x="683.5" y="605.3" width="1" height="1" fill="#ffffff" stroke="none"/>
<rect x="687.5" y="599.5" width="1" height="1" fill="#ffffff" stroke="none"/>
<rect x="687.5" y="605.3" width="1" height="1" fill="#ffffff" stroke="none"/>
<rect x="691.5" y="599.5" width="1" height="1" fill="#ffffff" stroke="none"/>
<rect x="691.5" y="605.3" width="1" height="1" fill="#ffffff" stroke="none"/>
<rect x="695.5" y="599.5" width="1" height="1" fill="#ffffff" stroke="none"/>
<rect x="695.5" y="605.3" width="1" height="1" fill="#ffffff" stroke="none"/>
<rect x="699.5" y="599.5" width="1" height="1" fill="#ffffff" stroke="none"/>
<rect x="699.5" y="605.3" width="1" height="1" fill="#ffffff" stroke="none"/>
<rect x="680.6" y="615.6" width="9.7" height="2.4" fill="#ff00ff" stroke="none"/>
<path d="M669.5 628.6L669.5 657.8" stroke="#ff00ff" stroke-width="1.6" stroke-dasharray="3 1"/>
<path d="M683.3 642.3L686.9 638.7L689.5 641.3L685.9 644.9Z" stroke="#ff00ff" fill="#ff00ff" stroke-width="0.9" shape-rendering="geometricPrecision"/>
<path d="M679.9 640.9L681.1 636.7L684.9 637.7" stroke="#ffffff" fill="none" stroke-width="0.9" shape-rendering="geometricPrecision"/>
<path d="M689.8 635.8L693.4 632.2L696 634.8L692.4 638.4Z" stroke="#ff00ff" fill="#ff00ff" stroke-width="0.9" shape-rendering="geometricPrecision"/>
<path d="M686.4 634.4L687.6 630.2L691.4 631.2" stroke="#ffffff" fill="none" stroke-width="0.9" shape-rendering="geometricPrecision"/>
<path d="M696.3 629.3L699.9 625.7L702.5 628.3L698.9 631.9Z" stroke="#ff00ff" fill="#ff00ff" stroke-width="0.9" shape-rendering="geometricPrecision"/>
<path d="M692.9 627.9L694.1 623.7L697.9 624.7" stroke="#ffffff" fill="none" stroke-width="0.9" shape-rendering="geometricPrecision"/>
<path d="M702.8 622.8L706.4 619.2L709 621.8L705.4 625.4Z" stroke="#ff00ff" fill="#ff00ff" stroke-width="0.9" shape-rendering="geometricPrecision"/>
<path d="M699.4 621.4L700.6 617.2L704.4 618.2" stroke="#ffffff" fill="none" stroke-width="0.9" shape-rendering="geometricPrecision"/>
<path d="M709.3 616.3L712.9 612.7L715.5 615.3L711.9 618.9Z" stroke="#ff00ff" fill="#ff00ff" stroke-width="0.9" shape-rendering="geometricPrecision"/>
<path d="M705.9 614.9L707.1 610.7L710.9 611.7" stroke="#ffffff" fill="none" stroke-width="0.9" shape-rendering="geometricPrecision"/>
<path d="M715.8 609.8L719.4 606.2L722 608.8L718.4 612.4Z" stroke="#ff00ff" fill="#ff00ff" stroke-width="0.9" shape-rendering="geometricPrecision"/>
<path d="M712.4 608.4L713.6 604.2L717.4 605.2" stroke="#ffffff" fill="none" stroke-width="0.9" shape-rendering="geometricPrecision"/>
<path d="M722.3 603.3L725.9 599.7L728.5 602.3L724.9 605.9Z" stroke="#ff00ff" fill="#ff00ff" stroke-width="0.9" shape-rendering="geometricPrecision"/>
<path d="M718.9 601.9L720.1 597.7L723.9 598.7" stroke="#ffffff" fill="none" stroke-width="0.9" shape-rendering="geometricPrecision"/>
<path d="M728.8 596.8L732.4 593.2L735 595.8L731.4 599.4Z" stroke="#ff00ff" fill="#ff00ff" stroke-width="0.9" shape-rendering="geometricPrecision"/>
<path d="M725.4 595.4L726.6 591.2L730.4 592.2" stroke="#ffffff" fill="none" stroke-width="0.9" shape-rendering="geometricPrecision"/>
<path d="M716.5 574.5Q716 581 722 581.5" stroke="#00ff00" fill="none" shape-rendering="geometricPrecision"/>
<path d="M705.6 591Q711 592 712 597" stroke="#00ff00" fill="none" shape-rendering="geometricPrecision"/>
<path d="M669 600.8Q673 601 673.5 605.5M669 611Q673 610 673.5 606.5" stroke="#00ff00" fill="none" shape-rendering="geometricPrecision"/>
<path d="M669.5 618Q675.5 619 676 624" stroke="#00ff00" fill="none" shape-rendering="geometricPrecision"/>
<rect x="734.7" y="573.6" width="3.3" height="3.6" fill="#ff00ff" stroke="none"/>
<rect x="728" y="556" width="5" height="4" fill="url(#tx)" stroke="none"/>
<rect x="728" y="578" width="5" height="4" fill="url(#tx)" stroke="none"/>
<rect x="711" y="592" width="4" height="4" fill="url(#tx)" stroke="none"/>
<rect x="678" y="623" width="3" height="4" fill="url(#tx)" stroke="none"/>
<rect x="734" y="536" width="3" height="8" fill="url(#tx)" stroke="none"/>
<path d="M739.5 536H743.5L741 538.5L743.5 540.5L741 542.5H739.5" stroke="#00ff00" fill="none" stroke-width="1.3" shape-rendering="geometricPrecision"/>
<path d="M748 533V537L750 534.5L752 537.5L754 534.5" stroke="#ffffff" fill="none" stroke-width="0.9" shape-rendering="geometricPrecision"/>
<rect x="750" y="542" width="2" height="4" fill="url(#tx)" stroke="none"/>
<path d="M744.4 584.5L777 584.5" stroke="#ffffff"/>
<path d="M744.4 584.2L742 590.5" stroke="#ffffff" fill="none" shape-rendering="geometricPrecision"/>
<rect x="763" y="579" width="7" height="4" fill="url(#tx)" stroke="none"/>
<rect x="645" y="621" width="7" height="4" fill="url(#tx)" stroke="none"/>
<rect x="773" y="560" width="4" height="4" fill="url(#tx)" stroke="none"/>
<rect x="782" y="552" width="4" height="4" fill="url(#tx)" stroke="none"/>
<rect x="647" y="697" width="4" height="4" fill="url(#tx)" stroke="none"/>
<rect x="948.8" y="570.7" width="18.1" height="6.2" fill="#ff0000" stroke="none"/>
<rect x="947.8" y="587" width="18.1" height="6" fill="#0000ff" stroke="none"/>
<rect x="947.8" y="602.8" width="18.1" height="5.3" fill="#00ff00" stroke="none"/>
<path transform="translate(977 570.6) scale(1.1 1)" d="M0 0V7M3 0V7M0 3.5H3" stroke="#0000ff" stroke-width="1.2" vector-effect="non-scaling-stroke" shape-rendering="geometricPrecision"/>
<path transform="translate(981.4 570.6) scale(1.1 1)" d="M0 2.5H3M0 4.5H3" stroke="#0000ff" stroke-width="1.2" vector-effect="non-scaling-stroke" shape-rendering="geometricPrecision"/>
<path transform="translate(985.8 570.6) scale(1.1 1)" d="M0.7 1.5L1.8 0V7" stroke="#0000ff" stroke-width="1.2" vector-effect="non-scaling-stroke" shape-rendering="geometricPrecision"/>
<path transform="translate(990.3 570.6) scale(1.1 1)" d="M2.4 7V0L0 5H3" stroke="#0000ff" stroke-width="1.2" vector-effect="non-scaling-stroke" shape-rendering="geometricPrecision"/>
<path transform="translate(994.7 570.6) scale(1.1 1)" d="M0.7 0H2.3L3 0.8V6.2L2.3 7H0.7L0 6.2V0.8Z" stroke="#0000ff" stroke-width="1.2" vector-effect="non-scaling-stroke" shape-rendering="geometricPrecision"/>
<path transform="translate(999.1 570.6) scale(1.1 1)" d="M0.7 0H2.3L3 0.8V6.2L2.3 7H0.7L0 6.2V0.8Z" stroke="#0000ff" stroke-width="1.2" vector-effect="non-scaling-stroke" shape-rendering="geometricPrecision"/>
<path transform="translate(977 587) scale(1.1 1)" d="M0 0V7M3 0V7M0 3.5H3" stroke="#0000ff" stroke-width="1.2" vector-effect="non-scaling-stroke" shape-rendering="geometricPrecision"/>
<path transform="translate(981.4 587) scale(1.1 1)" d="M0 2.5H3M0 4.5H3" stroke="#0000ff" stroke-width="1.2" vector-effect="non-scaling-stroke" shape-rendering="geometricPrecision"/>
<path transform="translate(985.8 587) scale(1.1 1)" d="M0 1L0.6 0H2.4L3 1V2.6L0 7H3" stroke="#0000ff" stroke-width="1.2" vector-effect="non-scaling-stroke" shape-rendering="geometricPrecision"/>
<path transform="translate(990.3 587) scale(1.1 1)" d="M2.4 7V0L0 5H3" stroke="#0000ff" stroke-width="1.2" vector-effect="non-scaling-stroke" shape-rendering="geometricPrecision"/>
<path transform="translate(994.7 587) scale(1.1 1)" d="M0.7 0H2.3L3 0.8V6.2L2.3 7H0.7L0 6.2V0.8Z" stroke="#0000ff" stroke-width="1.2" vector-effect="non-scaling-stroke" shape-rendering="geometricPrecision"/>
<path transform="translate(999.1 587) scale(1.1 1)" d="M0.7 0H2.3L3 0.8V6.2L2.3 7H0.7L0 6.2V0.8Z" stroke="#0000ff" stroke-width="1.2" vector-effect="non-scaling-stroke" shape-rendering="geometricPrecision"/>
<path transform="translate(977 602.3) scale(1.1 1)" d="M0 0V7M3 0V7M0 3.5H3" stroke="#0000ff" stroke-width="1.2" vector-effect="non-scaling-stroke" shape-rendering="geometricPrecision"/>
<path transform="translate(981.4 602.3) scale(1.1 1)" d="M0 2.5H3M0 4.5H3" stroke="#0000ff" stroke-width="1.2" vector-effect="non-scaling-stroke" shape-rendering="geometricPrecision"/>
<path transform="translate(985.8 602.3) scale(1.1 1)" d="M0 0H3L1.4 3H2.2L3 4V6L2.2 7H0.8L0 6" stroke="#0000ff" stroke-width="1.2" vector-effect="non-scaling-stroke" shape-rendering="geometricPrecision"/>
<path transform="translate(990.3 602.3) scale(1.1 1)" d="M0.7 0H2.3L3 0.8V6.2L2.3 7H0.7L0 6.2V0.8Z" stroke="#0000ff" stroke-width="1.2" vector-effect="non-scaling-stroke" shape-rendering="geometricPrecision"/>
<path transform="translate(994.7 602.3) scale(1.1 1)" d="M0.7 0H2.3L3 0.8V6.2L2.3 7H0.7L0 6.2V0.8Z" stroke="#0000ff" stroke-width="1.2" vector-effect="non-scaling-stroke" shape-rendering="geometricPrecision"/>
<path transform="translate(999.1 602.3) scale(1.1 1)" d="M0.7 0H2.3L3 0.8V6.2L2.3 7H0.7L0 6.2V0.8Z" stroke="#0000ff" stroke-width="1.2" vector-effect="non-scaling-stroke" shape-rendering="geometricPrecision"/>
<path d="M948.4 554H952.8M948.4 556.5H952.8M949.6 553.5V562M949.6 559H952.8M952 556.5V562M949.6 561.5H952" stroke="#0000ff" fill="none" stroke-width="1.2"/>
<path d="M953.8 554H958.2M953.8 556.5H958.2M955 553.5V562M955 559H958.2M957.4 556.5V562M955 561.5H957.4" stroke="#0000ff" fill="none" stroke-width="1.2"/>
<path d="M959.2 554H963.6M959.2 556.5H963.6M960.4 553.5V562M960.4 559H963.6M962.8 556.5V562M960.4 561.5H962.8" stroke="#0000ff" fill="none" stroke-width="1.2"/>
<path d="M964.6 554H969M964.6 556.5H969M965.8 553.5V562M965.8 559H969M968.2 556.5V562M965.8 561.5H968.2" stroke="#0000ff" fill="none" stroke-width="1.2"/>
<rect x="970" y="556" width="1.2" height="1.6" fill="#0000ff" stroke="none"/>
<rect x="970" y="560.3" width="1.2" height="1.7" fill="#0000ff" stroke="none"/>
<path d="M954.5 668.5H958.5M954.8 672.5H958.2M953.8 676.5H959.2" stroke="#00ffff" fill="none"/>
<path d="M960.5 667.5H965.5V670.5H960.5ZM961.5 672.5H965.5M960.5 670.5V676.5M962 674.5H965.5V676.5H962Z" stroke="#00ffff" fill="none"/>
<path d="M967.5 668.5H973.5M966.8 672.5H974M970.5 668.5V677.5M968.5 669.5V671.5M972.5 669.5V671.5" stroke="#00ffff" fill="none"/>
<path d="M974.8 667.5H979.8M977.5 667.5V669.5M975.5 669.5H979.5V676.5H975.5ZM977.5 669.5V676.5M975.5 673H979.5" stroke="#00ffff" fill="none"/>
<path d="M980.8 667.5H985.5V676.5H980.8ZM982.5 669.5H984M982 671.5H984.5M983.5 673.5V675" stroke="#00ffff" fill="none"/>
<path transform="translate(1020.3 670.9) scale(0.9 1)" d="M0.7 1.5L1.8 0V7" stroke="#00ffff" stroke-width="1.2" vector-effect="non-scaling-stroke" shape-rendering="geometricPrecision"/>
<path transform="translate(1023.9 670.9) scale(0.9 1)" d="M1.2 2H1.9M1.2 5.6H1.9" stroke="#00ffff" stroke-width="1.2" vector-effect="non-scaling-stroke" shape-rendering="geometricPrecision"/>
<path transform="translate(1027.5 670.9) scale(0.9 1)" d="M0 1L0.6 0H2.4L3 1V2.6L0 7H3" stroke="#00ffff" stroke-width="1.2" vector-effect="non-scaling-stroke" shape-rendering="geometricPrecision"/>
<path transform="translate(1031.1 670.9) scale(0.9 1)" d="M0.7 0H2.3L3 0.8V6.2L2.3 7H0.7L0 6.2V0.8Z" stroke="#00ffff" stroke-width="1.2" vector-effect="non-scaling-stroke" shape-rendering="geometricPrecision"/>
<path transform="translate(1034.7 670.9) scale(0.9 1)" d="M0.7 0H2.3L3 0.8V6.2L2.3 7H0.7L0 6.2V0.8Z" stroke="#00ffff" stroke-width="1.2" vector-effect="non-scaling-stroke" shape-rendering="geometricPrecision"/>
<path d="M933 683.5L1048 683.5" stroke="#ff7f00"/>
</g>
<g id="misc">
<path d="M761.5 433.5L761.5 408.5L797.5 408.5L797.5 443.5L761.5 443.5L761.5 439.5L793.5 439.5L793.5 411.5L765.5 411.5L765.5 433.5L761.5 433.5" stroke="#f0a078" fill="none"/>
<rect x="771.5" y="419.5" width="8" height="6" stroke="#ff00ff" fill="none"/>
<rect x="771.5" y="427.5" width="8" height="4" stroke="#ff00ff" fill="none"/>
<path d="M779.9 422.3L784.7 422.3L784.7 431.9L779.9 431.9" stroke="#ff00ff" fill="none"/>
<rect x="766" y="419.3" width="5.3" height="8.2" fill="#0000ff" stroke="none"/>
<rect x="768" y="423.5" width="2.3" height="2.8" fill="#ffffff" stroke="none"/>
<rect x="769.3" y="420" width="1.7" height="1.6" fill="#ff0000" stroke="none"/>
<rect x="766.8" y="420.3" width="1.5" height="1.7" fill="#000" stroke="none"/>
<rect x="773" y="421" width="5" height="2" fill="url(#tx)" stroke="none"/>
<rect x="742" y="409" width="4" height="9" fill="url(#tx)" stroke="none"/>
<rect x="821.5" y="408.5" width="36" height="7" stroke="#f0a078" fill="none"/>
<path d="M857.5 415.4L857.5 443.5L821.5 443.5L821.5 433.5L825.5 433.5L825.5 438" stroke="#f0a078" fill="none"/>
<path d="M825.5 438L826.5 439.5L853.5 439.5L853.5 433" stroke="#f0a078" fill="none"/>
<rect x="837.5" y="418.5" width="5" height="17" stroke="#f0a078" fill="none"/>
<path d="M837.4 421.5L842.8 421.5" stroke="#f0a078"/>
<path d="M840.5 421.1L840.5 435.7" stroke="#f0a078"/>
<rect x="821.5" y="415.5" width="6" height="14" stroke="#00ffff" fill="none"/>
<rect x="849.5" y="415.5" width="8" height="17" stroke="#00ffff" fill="none"/>
<path d="M850.5 415.4L850.5 432.8" stroke="#0000ff" stroke-dasharray="2 2"/>
<path d="M856.5 415.4L856.5 432.8" stroke="#0000ff" stroke-dasharray="2 2"/>
<rect x="824" y="419.2" width="2.2" height="2.2" fill="#ff0000" stroke="none"/>
<rect x="819.3" y="418.4" width="3.2" height="3.4" fill="#0000ff" stroke="none"/>
<rect x="820.4" y="419.2" width="1.2" height="1.8" fill="#ffffff" stroke="none"/>
<rect x="829" y="419.3" width="3.5" height="1.2" fill="#ffffff" stroke="none" opacity="0.78"/>
<rect x="824" y="424.5" width="2.2" height="2.2" fill="#ff0000" stroke="none"/>
<rect x="819.3" y="423.7" width="3.2" height="3.4" fill="#0000ff" stroke="none"/>
<rect x="820.4" y="424.5" width="1.2" height="1.8" fill="#ffffff" stroke="none"/>
<rect x="829" y="424.6" width="3.5" height="1.2" fill="#ffffff" stroke="none" opacity="0.78"/>
<rect x="852.3" y="420.2" width="2.5" height="2.6" fill="#ff0000" stroke="none"/>
<rect x="845.5" y="419.7" width="3.1" height="3.6" fill="#0000ff" stroke="none"/>
<rect x="846.4" y="420.5" width="1.4" height="1.8" fill="#ffffff" stroke="none"/>
<rect x="852.5" y="422.5" width="2" height="1.2" fill="#ffffff" stroke="none"/>
<rect x="852.3" y="426" width="2.5" height="2.6" fill="#ff0000" stroke="none"/>
<rect x="845.5" y="425.5" width="3.1" height="3.6" fill="#0000ff" stroke="none"/>
<rect x="846.4" y="426.3" width="1.4" height="1.8" fill="#ffffff" stroke="none"/>
<rect x="852.5" y="428.3" width="2" height="1.2" fill="#ffffff" stroke="none"/>
<rect x="827.5" y="438.5" width="9" height="5" stroke="#ff00ff" fill="none"/>
<rect x="834" y="410" width="5" height="4" fill="url(#tx)" stroke="none"/>
<rect x="829" y="445" width="7" height="3" fill="url(#tx)" stroke="none"/>
<rect x="860" y="433" width="3" height="6" fill="url(#tx)" stroke="none"/>
<rect x="801" y="430" width="3" height="6" fill="url(#tx)" stroke="none"/>
<rect x="800" y="418" width="2" height="4" fill="url(#tx)" stroke="none"/>
<path d="M798 415.5L809 415.5" stroke="#ffffff"/>
<rect x="800" y="412" width="4" height="2" fill="url(#tx)" stroke="none"/>
<rect x="814" y="412" width="5" height="2" fill="url(#tx)" stroke="none"/>
<rect x="880.5" y="408.5" width="36" height="7" stroke="#f0a078" fill="none"/>
<path d="M916.5 415.4L916.5 443.5" stroke="#f0a078" fill="none"/>
<path d="M912.5 423.5L912.5 438.5" stroke="#f0a078" fill="none"/>
<path d="M912.5 423.5L916.5 423.5" stroke="#f0a078"/>
<path d="M912.5 415.4L912.5 423.5" stroke="#ff00ff" fill="none"/>
<path d="M916.5 415.4L916.5 423.5" stroke="#ff00ff" fill="none"/>
<rect x="880.5" y="420.5" width="4" height="9" stroke="#ff00ff" fill="none"/>
<rect x="895.5" y="419.5" width="4" height="14" stroke="#f0a078" fill="none"/>
<path d="M895.3 426.5L899.8 426.5" stroke="#f0a078"/>
<rect x="880.5" y="438.5" width="36" height="5" stroke="#ff00ff" fill="none"/>
<path d="M889.5 438.5L889.5 443.5" stroke="#ff00ff"/>
<path d="M898.5 438.5L898.5 443.5" stroke="#ff00ff"/>
<path d="M907.5 438.5L907.5 443.5" stroke="#ff00ff"/>
<rect x="890" y="410" width="9" height="4" fill="url(#tx)" stroke="none"/>
<rect x="875" y="422" width="4" height="3" fill="url(#tx)" stroke="none"/>
<rect x="918" y="416" width="4" height="5" fill="url(#tx)" stroke="none"/>
<rect x="890" y="446" width="6" height="4" fill="url(#tx)" stroke="none"/>
<path d="M797.5 408.5L821.5 408.5" stroke="#ffffff"/>
<path d="M857.5 408.5L880.5 408.5" stroke="#ffffff"/>
<path d="M916.9 408.5L943.5 408.5" stroke="#ffffff"/>
<rect x="807" y="405" width="4" height="2" fill="url(#tx)" stroke="none"/>
<rect x="867" y="405" width="4" height="2" fill="url(#tx)" stroke="none"/>
<rect x="928" y="405" width="4" height="2" fill="url(#tx)" stroke="none"/>
<rect x="772" y="403" width="7" height="4" fill="url(#tx)" stroke="none"/>
<rect x="766.7" y="392.2" width="1.6" height="3.5" fill="#ffffff" stroke="none" opacity="0.78"/>
<rect x="776" y="446" width="2" height="3" fill="url(#tx)" stroke="none"/>
<rect x="759" y="452" width="2" height="4" fill="url(#tx)" stroke="none"/>
<path d="M761.5 443.5L761.5 464.7" stroke="#ffffff"/>
<rect x="761.5" y="464.5" width="67" height="8" stroke="#ff00ff" fill="none"/>
<path d="M769.5 464.5L769.5 472.2" stroke="#ff00ff"/>
<path d="M793.5 464.5L793.5 472.2" stroke="#ff00ff"/>
<path d="M810.5 464.5L810.5 472.2" stroke="#ff00ff"/>
<rect x="828.5" y="464.5" width="17" height="8" stroke="#ffffff" fill="none"/>
<rect x="845.5" y="464.5" width="34" height="8" stroke="#ff00ff" fill="none"/>
<path d="M862.5 464.5L862.5 472.2" stroke="#ff00ff"/>
<rect x="879.5" y="464.5" width="15" height="7" stroke="#00ffff" fill="none"/>
<path d="M887.5 464.5L887.5 471.5" stroke="#00ffff"/>
<rect x="882.5" y="467" width="2" height="2.5" fill="#ff0000" stroke="none"/>
<rect x="881.9" y="463.3" width="3.2" height="2.2" fill="#ffffff" stroke="none"/>
<path d="M881.3 466Q883.5 461.5 885.7 466" stroke="#0000ff" fill="none" shape-rendering="geometricPrecision"/>
<rect x="889.5" y="467" width="2" height="2.5" fill="#ff0000" stroke="none"/>
<rect x="888.9" y="463.3" width="3.2" height="2.2" fill="#ffffff" stroke="none"/>
<path d="M888.3 466Q890.5 461.5 892.7 466" stroke="#0000ff" fill="none" shape-rendering="geometricPrecision"/>
<rect x="903.5" y="465.5" width="4" height="6" fill="#0000ff" stroke="none"/>
<rect x="905" y="466.5" width="1.5" height="3.5" fill="#ff0000" stroke="none"/>
<rect x="903.8" y="465" width="1.5" height="2" fill="#ffffff" stroke="none" opacity="0.78"/>
<rect x="909.5" y="464.5" width="35" height="8" stroke="#ff00ff" fill="none"/>
<path d="M927.5 464.5L927.5 472.2" stroke="#ff00ff"/>
<rect x="777" y="467" width="4" height="3" fill="url(#tx)" stroke="none"/>
<rect x="796" y="467" width="4" height="3" fill="url(#tx)" stroke="none"/>
<rect x="814" y="467" width="4" height="3" fill="url(#tx)" stroke="none"/>
<rect x="833" y="468" width="7" height="2" fill="url(#tx)" stroke="none"/>
<rect x="850" y="467" width="4" height="3" fill="url(#tx)" stroke="none"/>
<rect x="867" y="467" width="4" height="3" fill="url(#tx)" stroke="none"/>
<rect x="916" y="467" width="4" height="3" fill="url(#tx)" stroke="none"/>
<rect x="931" y="467" width="4" height="3" fill="url(#tx)" stroke="none"/>
<path d="M761.5 472.2L761.5 496L769.5 496L769.5 472.2" stroke="#ff00ff" fill="none"/>
<path d="M761.5 482.5L769.5 482.5" stroke="#ff00ff"/>
<path d="M762.5 474.5L768.5 474.5" stroke="#ffffff"/>
<path d="M763.5 476.5L767.5 476.5" stroke="#ffffff"/>
<rect x="763" y="490" width="4" height="3" fill="url(#tx)" stroke="none"/>
<path d="M750 477.5L761.5 477.5" stroke="#ffffff"/>
<path d="M796.5 472.2L796.5 484" stroke="#ffffff"/>
<rect x="793.2" y="476.2" width="1.6" height="3.5" fill="#ffffff" stroke="none" opacity="0.78"/>
<path d="M921.5 472.2L921.5 484" stroke="#ffffff"/>
<rect x="918.4" y="476.2" width="1.6" height="3.5" fill="#ffffff" stroke="none" opacity="0.78"/>
<path d="M944.3 464.5L953 455.7" stroke="#ffffff" fill="none" shape-rendering="geometricPrecision"/>
<rect x="946" y="458.5" width="2" height="2" fill="#ffffff" stroke="none" opacity="0.78"/>
<rect x="778" y="484" width="24" height="20" stroke="#ffffff" fill="none" stroke-width="2"/>
<rect x="786" y="489" width="6" height="4" fill="url(#tx)" stroke="none"/>
<rect x="788" y="495" width="5" height="2" fill="url(#tx)" stroke="none"/>
<path d="M802 484.5H813L815 488H817.5L819.5 484.5H846.5" stroke="#ffffff" fill="none" stroke-width="2"/>
<rect x="804" y="485" width="4.5" height="5.5" fill="#ffffff" stroke="none"/>
<path d="M802 497.5L806 498.5L809 502" stroke="#ffffff" fill="none" shape-rendering="geometricPrecision"/>
<path d="M761.5 504.5L803.5 504.5" stroke="#ffffff" stroke-width="2"/>
<path d="M767.5 496L767.5 504" stroke="#ffffff"/>
<rect x="763.5" y="497.5" width="3" height="6" stroke="#ffffff" fill="none"/>
<rect x="771" y="488" width="5" height="2" fill="url(#tx)" stroke="none"/>
<path d="M769.5 491.5L778 491.5" stroke="#ffffff"/>
<path d="M763.5 506V510.5Q767 510 768.5 505" stroke="#ffffff" fill="none" shape-rendering="geometricPrecision"/>
<path d="M762.5 504L762.5 532" stroke="#ffffff" stroke-width="2"/>
<path d="M786.5 504L786.5 532" stroke="#ffffff"/>
<rect x="771" y="515" width="4" height="3" fill="url(#tx)" stroke="none"/>
<rect x="772" y="520" width="5" height="2" fill="url(#tx)" stroke="none"/>
<rect x="796" y="514" width="2" height="4" fill="url(#tx)" stroke="none"/>
<rect x="798" y="520" width="5" height="2" fill="url(#tx)" stroke="none"/>
<rect x="809.5" y="497.5" width="13" height="6" stroke="#0000ff" fill="none"/>
<path d="M809 504.5L823 504.5" stroke="#ffffff"/>
<circle cx="814.5" cy="500.3" r="1.8" stroke="#0000ff" fill="none" shape-rendering="geometricPrecision"/>
<rect x="813.5" y="499.3" width="1.5" height="2" fill="#ffffff" stroke="none" opacity="0.78"/>
<rect x="827.5" y="484.5" width="18" height="10" stroke="#00ffff" fill="none" stroke-width="1.4"/>
<path d="M831.5 487Q836 485 842.5 487Q843.5 490.5 840 492H833.5Q831 490.5 831.5 487Z" stroke="#ff0000" fill="none" stroke-width="1.2" shape-rendering="geometricPrecision"/>
<rect x="833" y="486.5" width="8.5" height="1.8" fill="#ff0000" stroke="none"/>
<rect x="834.5" y="489" width="2" height="1.2" fill="#ff0000" stroke="none"/>
<rect x="839.5" y="489" width="2" height="1.2" fill="#ff0000" stroke="none"/>
<rect x="835" y="490" width="5" height="2" fill="url(#tx)" stroke="none"/>
<path d="M829.5 489L832 491.5L829.5 493" stroke="#0000ff" fill="none" shape-rendering="geometricPrecision"/>
<rect x="827.5" y="497.5" width="27" height="7" stroke="#00ffff" fill="none" stroke-width="1.4"/>
<rect x="829.5" y="499.5" width="11" height="4" stroke="#ffffff" fill="none"/>
<rect x="835" y="500" width="2" height="3" fill="url(#tx)" stroke="none"/>
<rect x="842.5" y="499" width="3" height="4.3" fill="#ff0000" stroke="none"/>
<rect x="847.5" y="500" width="5.5" height="3.3" fill="#ff0000" stroke="none"/>
<rect x="843" y="497.3" width="2" height="1.7" fill="#ffffff" stroke="none"/>
<rect x="849.5" y="497.3" width="2" height="1.7" fill="#ffffff" stroke="none"/>
<path d="M831 498Q833 495 835 498" stroke="#0000ff" fill="none" shape-rendering="geometricPrecision"/>
<path d="M842 498Q844 495 846 498" stroke="#0000ff" fill="none" shape-rendering="geometricPrecision"/>
<path d="M848.5 498Q850.5 495 852.5 498" stroke="#0000ff" fill="none" shape-rendering="geometricPrecision"/>
<path d="M846.5 484.5Q850 484 850.5 479.5L849 478.5L852.5 476.5V473.5" stroke="#ffffff" fill="none" stroke-width="1.6" shape-rendering="geometricPrecision"/>
<rect x="853.5" y="474" width="5" height="7.5" fill="#ffffff" stroke="none"/>
<rect x="860" y="474" width="20" height="30" stroke="#ffffff" fill="none" stroke-width="2"/>
<rect x="864" y="485" width="5" height="4" fill="url(#tx)" stroke="none"/>
<rect x="868" y="492" width="4" height="2" fill="url(#tx)" stroke="none"/>
<path d="M880 484H906Q908.5 485 910 489.5L913 491V484.5" stroke="#ffffff" fill="none" stroke-width="2"/>
<path d="M913 484.5H921" stroke="#ffffff" fill="none" stroke-width="2"/>
<rect x="914.5" y="485" width="7" height="4.5" fill="#ffffff" stroke="none"/>
<rect x="918" y="485" width="3" height="1.3" fill="#ff0000" stroke="none"/>
<path d="M913 491L914.5 497L910.5 500.5V504" stroke="#ffffff" fill="none" stroke-width="1.6" shape-rendering="geometricPrecision"/>
<path d="M921.5 484H944L946 489H950L952.5 484H954" stroke="#ffffff" fill="none" stroke-width="2"/>
<rect x="885.5" y="476.5" width="13" height="6" stroke="#0000ff" fill="none"/>
<rect x="888.5" y="484.5" width="13" height="7" stroke="#0000ff" fill="none"/>
<circle cx="890" cy="479.7" r="1.5" stroke="#0000ff" fill="none" shape-rendering="geometricPrecision"/>
<circle cx="893" cy="488" r="1.5" stroke="#0000ff" fill="none" shape-rendering="geometricPrecision"/>
<rect x="888.2" y="478.9" width="2.5" height="1.5" fill="#ffffff" stroke="none" opacity="0.78"/>
<rect x="892.2" y="487.2" width="1.5" height="1.5" fill="#ffffff" stroke="none" opacity="0.78"/>
<rect x="887" y="493" width="8" height="4" fill="url(#tx)" stroke="none"/>
<rect x="884.4" y="498.5" width="13.4" height="5.5" fill="#0000ff" stroke="none"/>
<rect x="886.3" y="500.2" width="1.2" height="3.8" fill="#000" stroke="none"/>
<rect x="894.8" y="500.2" width="1.2" height="3.8" fill="#000" stroke="none"/>
<rect x="929.5" y="485.5" width="13" height="12" stroke="#0000ff" fill="none"/>
<path d="M936.5 485.2L936.5 497.3" stroke="#0000ff"/>
<rect x="931" y="488" width="2" height="2" fill="url(#tx)" stroke="none"/>
<rect x="938" y="488" width="2" height="2" fill="url(#tx)" stroke="none"/>
<rect x="928" y="498" width="7" height="4" fill="url(#tx)" stroke="none"/>
<rect x="908" y="502.5" width="8" height="2.5" fill="#ffffff" stroke="none"/>
<rect x="864" y="508" width="5" height="2" fill="url(#tx)" stroke="none"/>
<rect x="895" y="508" width="5" height="2" fill="url(#tx)" stroke="none"/>
<rect x="936" y="508" width="5" height="2" fill="url(#tx)" stroke="none"/>
<rect x="955" y="471" width="5" height="3" fill="url(#tx)" stroke="none"/>
<path d="M943.6 432.5V394.5Q944 390.6 948 390.4H986.7V398.5H951.3V432.5Z" stroke="#ff00ff" fill="none" shape-rendering="geometricPrecision"/>
<path d="M951.5 390.4L951.5 398.5" stroke="#ff00ff"/>
<path d="M963.5 390.4L963.5 398.5" stroke="#ff00ff"/>
<path d="M974.5 390.4L974.5 398.5" stroke="#ff00ff"/>
<path d="M943.6 398.5L951.3 398.5" stroke="#ff00ff"/>
<path d="M943.6 409.5L951.3 409.5" stroke="#ff00ff"/>
<path d="M943.6 421.5L951.3 421.5" stroke="#ff00ff"/>
<rect x="955" y="393" width="4" height="2" fill="url(#tx)" stroke="none"/>
<rect x="967" y="393" width="4" height="2" fill="url(#tx)" stroke="none"/>
<rect x="978" y="393" width="4" height="2" fill="url(#tx)" stroke="none"/>
<rect x="946" y="402" width="2" height="4" fill="url(#tx)" stroke="none"/>
<rect x="946" y="413" width="2" height="4" fill="url(#tx)" stroke="none"/>
<rect x="946" y="425" width="2" height="4" fill="url(#tx)" stroke="none"/>
<path d="M920 408.5L943.6 408.5" stroke="#ffffff"/>
<rect x="948" y="375" width="2" height="4" fill="url(#tx)" stroke="none"/>
<path d="M966.1 420.4L965.8 413.5Q966.3 410 968.5 408.6Q971 406.3 974.4 405.8Q977.5 405.3 979.8 406.1Q982.5 406.8 982.8 408.1Q983 409.3 982.3 410.1Q981.3 412 979.8 412.5Q977 412 974.4 412Q972.3 412.6 971.5 414.5Q970.8 416.5 971 418.9L971.5 420.9Q970.8 422.8 969 423.3Q967 423.2 966.5 422.4Z" stroke="#ff00ff" fill="none" shape-rendering="geometricPrecision"/>
<path d="M953.3 456.3L1017.2 391.9" stroke="#ff00ff" fill="none"/>
<path d="M959 461.9L1025 395.4" stroke="#ff00ff" fill="none"/>
<path d="M953.3 456.3L959 461.9" stroke="#ff00ff" fill="none"/>
<path d="M1017.2 391.9L1025 396.3" stroke="#ff00ff" fill="none"/>
<path d="M961.1 448.4L966.8 454.1" stroke="#ff00ff" fill="none"/>
<path d="M969.2 440.3L974.9 445.9" stroke="#ff00ff" fill="none"/>
<path d="M977.4 432L983.1 437.6" stroke="#ff00ff" fill="none"/>
<path d="M985.4 423.9L991.1 429.6" stroke="#ff00ff" fill="none"/>
<path d="M993.6 415.7L999.3 421.3" stroke="#ff00ff" fill="none"/>
<path d="M1005.4 403.8L1011.1 409.4" stroke="#ff00ff" fill="none"/>
<path d="M958.8 456.6L961.2 453.8" stroke="#ffffff" fill="none" stroke-width="2.2" shape-rendering="geometricPrecision"/>
<path d="M966.8 448.6L969.2 445.8" stroke="#ffffff" fill="none" stroke-width="2.2" shape-rendering="geometricPrecision"/>
<path d="M974.9 440.3L977.3 437.5" stroke="#ffffff" fill="none" stroke-width="2.2" shape-rendering="geometricPrecision"/>
<path d="M983 432.2L985.4 429.4" stroke="#ffffff" fill="none" stroke-width="2.2" shape-rendering="geometricPrecision"/>
<path d="M991.1 424L993.5 421.2" stroke="#ffffff" fill="none" stroke-width="2.2" shape-rendering="geometricPrecision"/>
<path d="M1001.1 413.9L1003.5 411.1" stroke="#ffffff" fill="none" stroke-width="2.2" shape-rendering="geometricPrecision"/>
<path d="M1012.9 402L1015.3 399.2" stroke="#ffffff" fill="none" stroke-width="2.2" shape-rendering="geometricPrecision"/>
<path d="M944.4 464.2L953 456.3" stroke="#ffffff" fill="none" shape-rendering="geometricPrecision"/>
<path d="M989 431.5L1025 395.6" stroke="#ffffff" fill="none" stroke-width="1.2" shape-rendering="geometricPrecision"/>
<rect x="1017.5" y="369.5" width="8" height="23" stroke="#ff00ff" fill="none"/>
<path d="M1017.6 380.5L1025 380.5" stroke="#ff00ff"/>
<rect x="1020" y="373" width="2" height="4" fill="url(#tx)" stroke="none"/>
<rect x="1020" y="385" width="2" height="4" fill="url(#tx)" stroke="none"/>
<rect x="1018.5" y="404.5" width="5" height="5" stroke="#ff00ff" fill="none" stroke-width="1.4"/>
<rect x="1019.8" y="406" width="2.7" height="2.6" fill="#ffffff" stroke="none"/>
<rect x="989" y="430.5" width="2.6" height="7.5" fill="#ffffff" stroke="none"/>
<path d="M989.5 431L999 421.5L1004.5 427.5L998 433.5L993 432Z" stroke="#ffffff" fill="#ffffff" stroke-width="0" shape-rendering="geometricPrecision"/>
<rect x="989" y="435.6" width="36" height="2.4" fill="#ffffff" stroke="none"/>
<rect x="1019" y="431" width="6" height="7" fill="#ffffff" stroke="none"/>
<path d="M992 429L996.5 432.5L995 435L1002 434.2L1004 436.5" stroke="#000" fill="none" stroke-width="0.9" shape-rendering="geometricPrecision"/>
<rect x="1004" y="432" width="10" height="2" fill="url(#tx)" stroke="none"/>
<rect x="1012" y="426" width="6" height="3" fill="url(#tx)" stroke="none"/>
<rect x="1014" y="429.8" width="1" height="2.5" fill="#ffffff" stroke="none" opacity="0.78"/>
<rect x="998.8" y="426.8" width="1.2" height="1.2" fill="#ff0000" stroke="none"/>
<rect x="1023" y="432" width="1.2" height="1.2" fill="#ff0000" stroke="none"/>
<path d="M1006.9 417L1016.2 408.1L1019.6 412.5L1010.8 420.4Z" stroke="#0000ff" fill="none" shape-rendering="geometricPrecision"/>
<path d="M1001 421.9L1004.4 418.9L1008.8 422.9L1005.4 426.3Z" stroke="#0000ff" fill="none" shape-rendering="geometricPrecision"/>
<path d="M1003.8 423.8Q1005.5 421.8 1007.5 423.5" stroke="#ffffff" fill="none" stroke-width="1.2" shape-rendering="geometricPrecision"/>
<path d="M1012.3 413.6L1015 410.5" stroke="#ffffff" fill="none" stroke-width="2" shape-rendering="geometricPrecision"/>
<rect x="1013.8" y="414.3" width="2" height="1.2" fill="#ff0000" stroke="none"/>
<rect x="1003.5" y="420.3" width="1.3" height="1.2" fill="#ff0000" stroke="none"/>
<rect x="1017.5" y="420.5" width="8" height="10" stroke="#0000ff" fill="none"/>
<rect x="1020" y="424" width="2" height="4" fill="url(#tx)" stroke="none"/>
<rect x="1022.8" y="422.5" width="1.5" height="1.5" fill="#ff0000" stroke="none"/>
<rect x="1005.5" y="438.5" width="5" height="6" stroke="#ff00ff" fill="none" stroke-width="1.4"/>
<rect x="1006.8" y="440.5" width="3.2" height="2.8" fill="#ffffff" stroke="none"/>
<rect x="1000.5" y="438.5" width="3" height="5" stroke="#0000ff" fill="none"/>
<rect x="997" y="439" width="3" height="2" fill="url(#tx)" stroke="none"/>
<rect x="1001.3" y="440" width="1.2" height="1.5" fill="#ff0000" stroke="none"/>
<rect x="1012.5" y="438.5" width="12" height="8" stroke="#0000ff" fill="none"/>
<path d="M1019.5 438.6L1019.5 446.4" stroke="#0000ff"/>
<rect x="1015" y="441" width="2.4" height="1" fill="#ff0000" stroke="none"/>
<rect x="1015.7" y="440.2" width="1" height="2.6" fill="#ff0000" stroke="none"/>
<rect x="1013.8" y="444.4" width="2.8" height="1.8" fill="#ffffff" stroke="none" opacity="0.78"/>
<rect x="1020.1" y="441" width="2.4" height="1" fill="#ff0000" stroke="none"/>
<rect x="1020.8" y="440.2" width="1" height="2.6" fill="#ff0000" stroke="none"/>
<rect x="1018.9" y="444.4" width="2.8" height="1.8" fill="#ffffff" stroke="none" opacity="0.78"/>
<rect x="1028.5" y="438.5" width="11" height="3" stroke="#0000ff" fill="none"/>
<rect x="1030" y="439.5" width="2" height="1.3" fill="#ff0000" stroke="none"/>
<rect x="1035.5" y="439.5" width="2" height="1.3" fill="#ff0000" stroke="none"/>
<circle cx="1031" cy="444.8" r="1.6" stroke="#ffffff" fill="none" stroke-width="0.8" shape-rendering="geometricPrecision"/>
<circle cx="1036.5" cy="444.8" r="1.6" stroke="#ffffff" fill="none" stroke-width="0.8" shape-rendering="geometricPrecision"/>
<rect x="1035.3" y="443.8" width="2.7" height="2" fill="#ffffff" stroke="none"/>
<rect x="1042.5" y="438.5" width="12" height="8" stroke="#0000ff" fill="none"/>
<path d="M1048.5 438.6L1048.5 446.4" stroke="#0000ff"/>
<rect x="1044" y="439.5" width="2" height="1.3" fill="#ff0000" stroke="none"/>
<rect x="1051" y="439.5" width="2" height="1.3" fill="#ff0000" stroke="none"/>
<rect x="1045" y="444" width="3" height="2" fill="url(#tx)" stroke="none"/>
<rect x="1050" y="443" width="3" height="2" fill="url(#tx)" stroke="none"/>
<rect x="1057.5" y="438.5" width="5" height="10" stroke="#0000ff" fill="none"/>
<rect x="1059" y="439.5" width="2" height="1.3" fill="#ff0000" stroke="none"/>
<rect x="1059" y="443" width="3" height="4" fill="url(#tx)" stroke="none"/>
<rect x="978.5" y="449.5" width="26" height="7" stroke="#0000ff" fill="none"/>
<path d="M991.5 449.4L991.5 456.6" stroke="#0000ff"/>
<circle cx="984.5" cy="453" r="1.5" stroke="#0000ff" fill="none" shape-rendering="geometricPrecision"/>
<circle cx="997.5" cy="453" r="1.5" stroke="#0000ff" fill="none" shape-rendering="geometricPrecision"/>
<rect x="983.5" y="452.2" width="1.6" height="1.6" fill="#ffffff" stroke="none" opacity="0.78"/>
<rect x="996.5" y="452.2" width="1.6" height="1.6" fill="#ffffff" stroke="none" opacity="0.78"/>
<path d="M988 475L988 462.2L1004.8 462.2L1004.8 475" stroke="#0000ff" fill="none"/>
<rect x="994" y="469" width="4" height="2" fill="url(#tx)" stroke="none"/>
<path d="M993.5 470.3Q996 467.5 998.5 470.3" stroke="#0000ff" fill="none" shape-rendering="geometricPrecision"/>
<rect x="966.5" y="469.5" width="20" height="6" stroke="#0000ff" fill="none"/>
<path d="M976.5 469.3L976.5 475" stroke="#0000ff"/>
<rect x="970" y="471" width="4" height="2" fill="url(#tx)" stroke="none"/>
<rect x="981" y="471" width="4" height="2" fill="url(#tx)" stroke="none"/>
<rect x="969" y="474" width="2" height="1" fill="#ff0000" stroke="none"/>
<rect x="979.5" y="474" width="2" height="1" fill="#ff0000" stroke="none"/>
<rect x="958" y="471" width="6" height="3" fill="url(#tx)" stroke="none"/>
<rect x="1006" y="471" width="5" height="3" fill="url(#tx)" stroke="none"/>
<path d="M990.5 474.5L994 472.5L997 475L1001 472.5" stroke="#ff0000" fill="none" stroke-width="1.3" shape-rendering="geometricPrecision"/>
<path d="M1028.4 475L1028.4 459.5L1041.7 459.5L1041.7 475" stroke="#0000ff" fill="none"/>
<path d="M1031 459.5V456.5L1033 458L1035 456.5L1037 458L1037.5 456.5V459.5" stroke="#0000ff" fill="none" shape-rendering="geometricPrecision"/>
<rect x="1031" y="464" width="4" height="2" fill="url(#tx)" stroke="none"/>
<path d="M1030.5 465.7Q1032.5 463.5 1035 465.7" stroke="#0000ff" fill="none" shape-rendering="geometricPrecision"/>
<rect x="1034" y="472.7" width="6" height="1.6" fill="#ff0000" stroke="none"/>
<rect x="1042.5" y="467.5" width="24" height="8" stroke="#ff00ff" fill="none"/>
<circle cx="1052.5" cy="471.3" r="2" stroke="#0000ff" fill="none" shape-rendering="geometricPrecision"/>
<rect x="1051.6" y="470.4" width="1.8" height="1.8" fill="#ffffff" stroke="none" opacity="0.78"/>
<rect x="1056" y="470.5" width="3" height="1.2" fill="#ff0000" stroke="none"/>
<rect x="1057" y="469.5" width="1" height="3.3" fill="#ff0000" stroke="none"/>
<path d="M1067.5 437L1067.5 460" stroke="#ffffff" stroke-width="2"/>
<path d="M1067 460.5L1099 460.5" stroke="#ffffff" stroke-width="2"/>
<path d="M1085.4 437V451L1091 455V460" stroke="#ffffff" fill="none" stroke-width="1.2" shape-rendering="geometricPrecision"/>
<path d="M1067.5 460L1075 462L1072 466.5L1069.5 467.5" stroke="#ffffff" fill="none" shape-rendering="geometricPrecision"/>
<rect x="1071" y="443" width="6" height="4" fill="url(#tx)" stroke="none"/>
<rect x="1075" y="452" width="4" height="3" fill="url(#tx)" stroke="none"/>
<rect x="1075" y="448" width="3.5" height="1.3" fill="#ff0000" stroke="none"/>
<rect x="1087" y="444" width="6" height="3" fill="url(#tx)" stroke="none"/>
<rect x="1090" y="452" width="4" height="4" fill="url(#tx)" stroke="none"/>
<rect x="1090" y="448" width="4" height="1.3" fill="#ff0000" stroke="none"/>
<rect x="1077" y="464" width="6" height="4" fill="url(#tx)" stroke="none"/>
<rect x="1081" y="469" width="4" height="3" fill="url(#tx)" stroke="none"/>
<rect x="1051.2" y="421.8" width="1.6" height="3.5" fill="#ffffff" stroke="none" opacity="0.78"/>
<rect x="1051.2" y="431.8" width="1.6" height="2.5" fill="#ffffff" stroke="none" opacity="0.78"/>
<path d="M955.5 480L957.5 477.5L960 481L962.5 477.5L965 480.5" stroke="#00ff00" fill="none" stroke-width="1.4" shape-rendering="geometricPrecision"/>
<path d="M1006 477V484L1009 482L1012.5 478" stroke="#00ff00" fill="none" stroke-width="1.3" shape-rendering="geometricPrecision"/>
<rect x="1022.2" y="478.9" width="4.7" height="6.1" fill="#ff00ff" stroke="none"/>
<path d="M1027.5 481L1027.5 485.5" stroke="#00ff00" stroke-width="2"/>
<rect x="1013" y="482" width="5" height="4" fill="url(#tx)" stroke="none"/>
<rect x="1014" y="496" width="5" height="4" fill="url(#tx)" stroke="none"/>
<rect x="1030" y="481" width="3" height="6" fill="url(#tx)" stroke="none"/>
<rect x="965.8" y="481.5" width="1.5" height="3" fill="#ffffff" stroke="none" opacity="0.78"/>
<rect x="965.8" y="495.2" width="1.5" height="3.5" fill="#ffffff" stroke="none" opacity="0.78"/>
<rect x="959" y="508" width="5" height="2" fill="url(#tx)" stroke="none"/>
<rect x="1038" y="479" width="6" height="3" fill="url(#tx)" stroke="none"/>
<rect x="1079" y="479" width="6" height="3" fill="url(#tx)" stroke="none"/>
<path d="M940 484H944.5L947.5 489.5H950L951 484H954" stroke="#ffffff" fill="none" stroke-width="1.1" shape-rendering="geometricPrecision"/>
</g>
</svg>
</body></html>
